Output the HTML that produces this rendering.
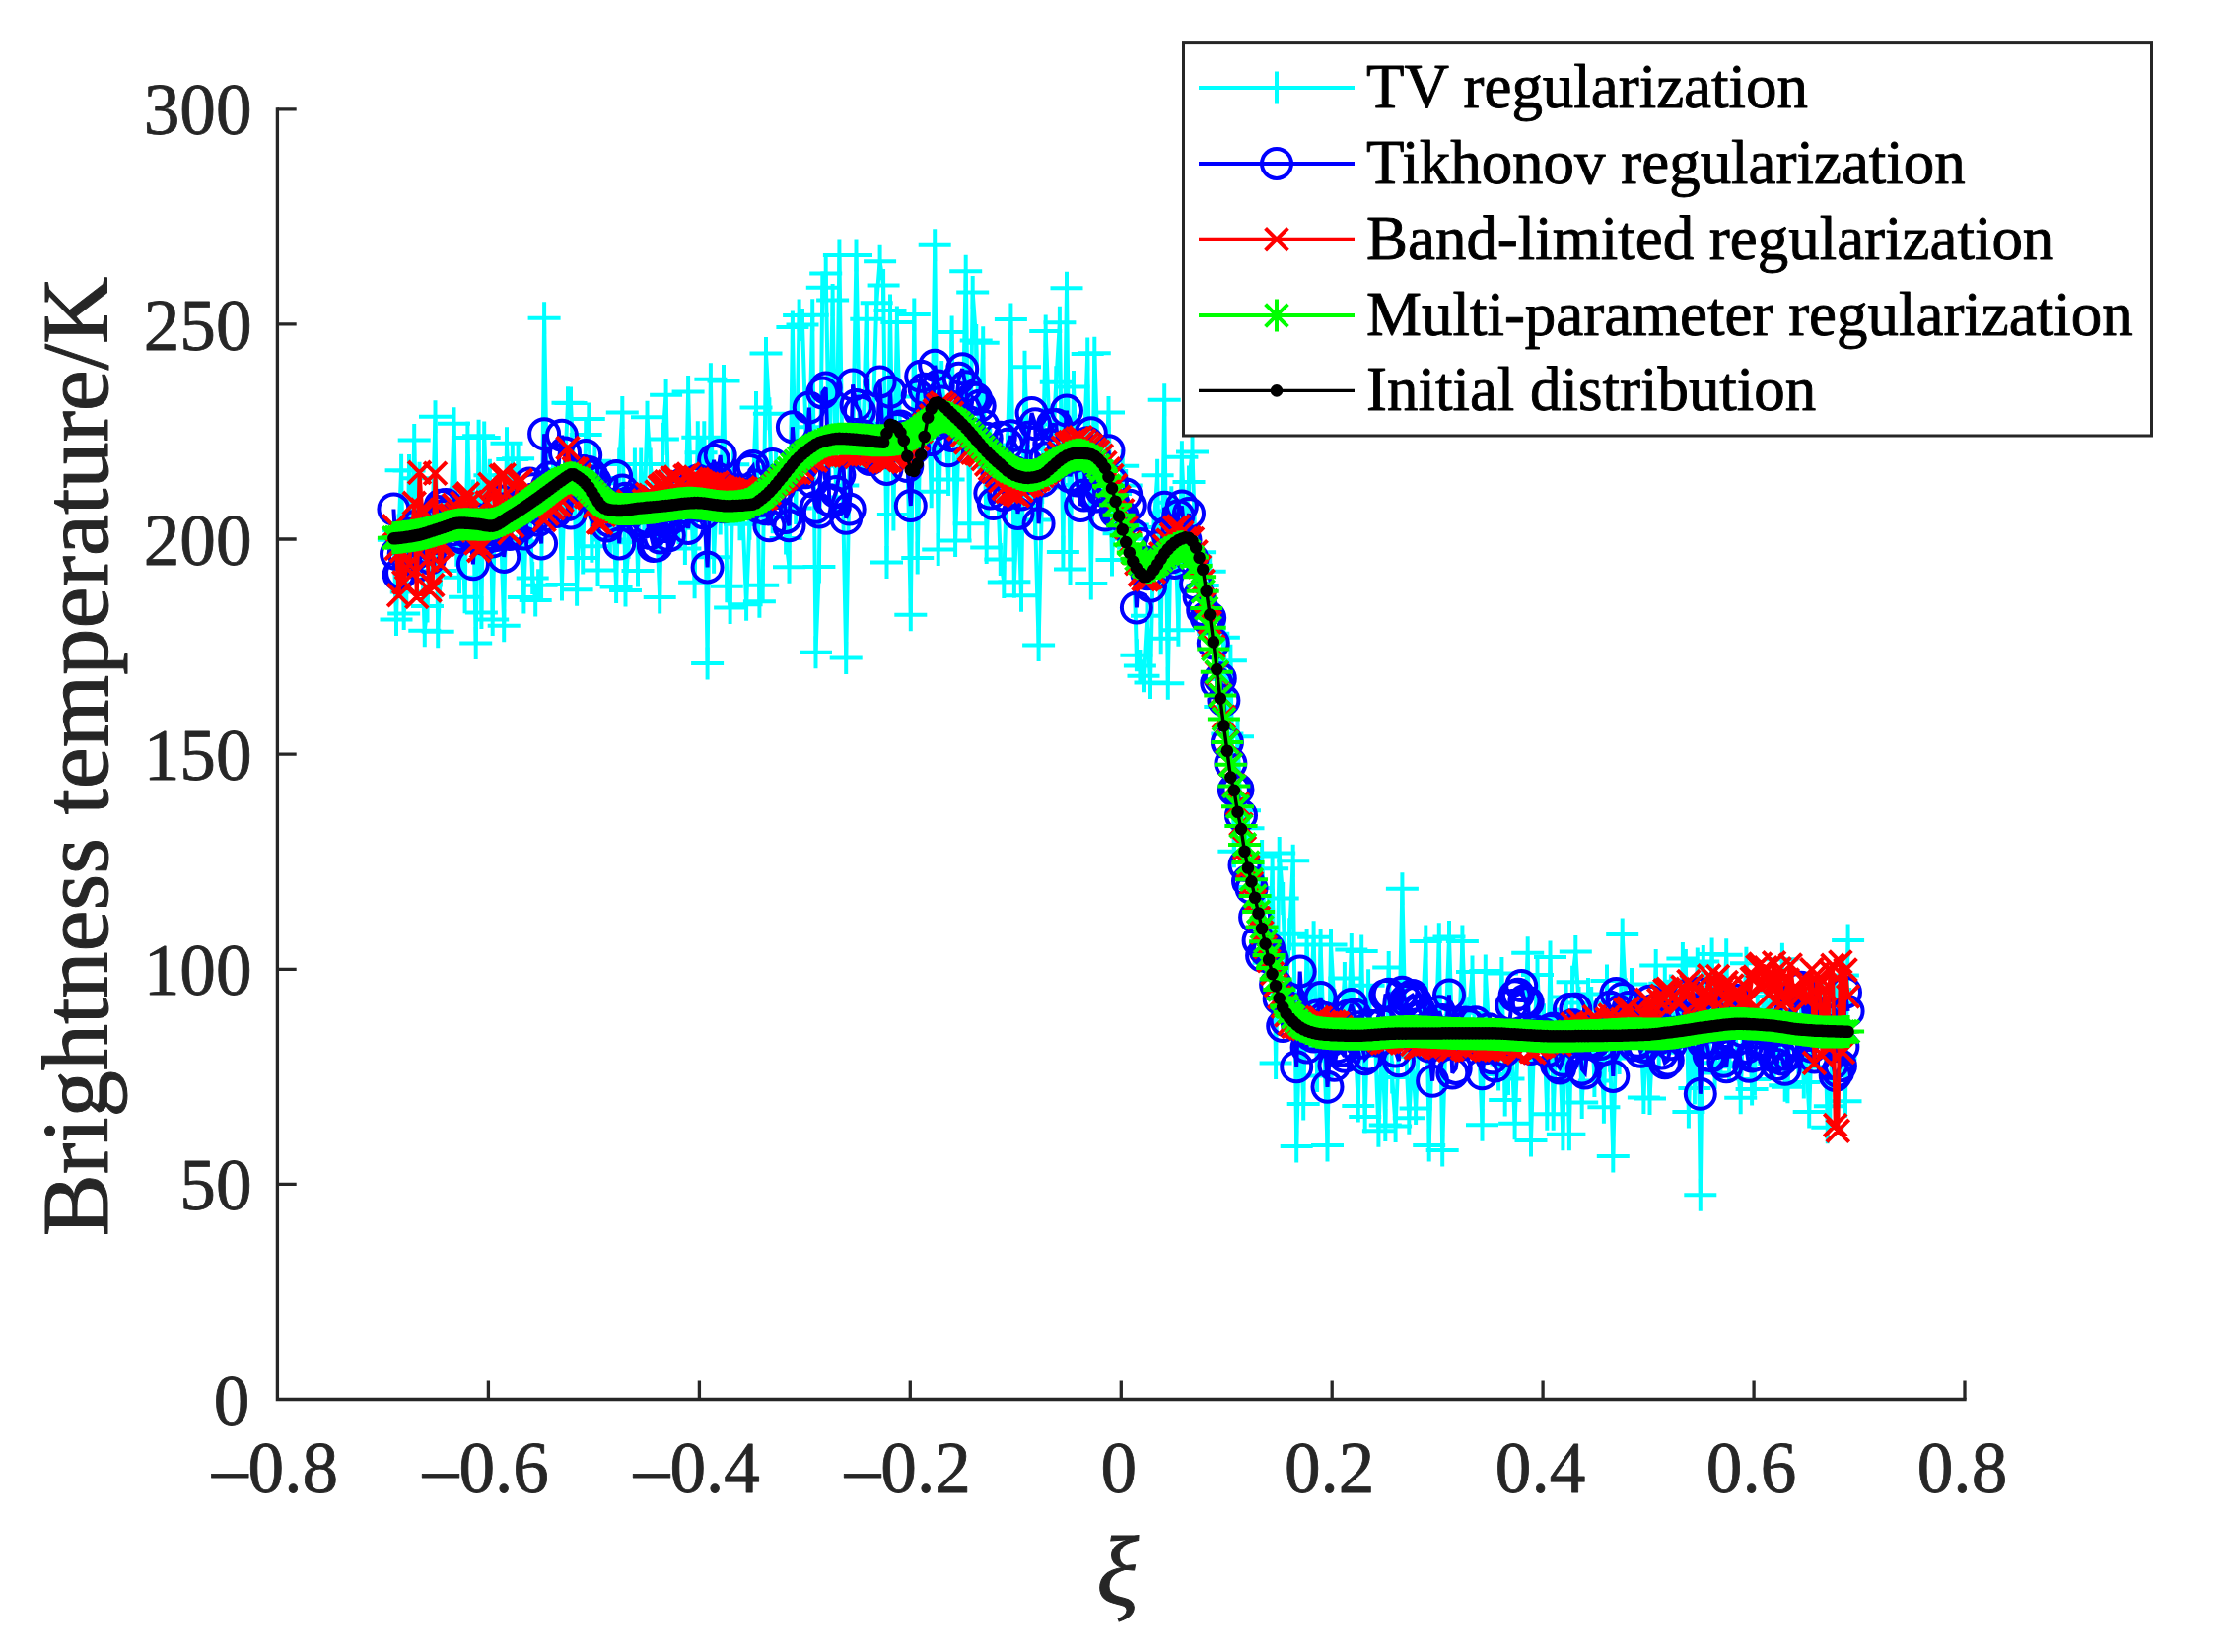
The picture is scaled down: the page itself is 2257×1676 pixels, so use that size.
<!DOCTYPE html>
<html lang="en"><head><meta charset="utf-8"><title>Brightness temperature</title>
<style>html,body{margin:0;padding:0;background:#fff}body{width:2257px;height:1676px;overflow:hidden}svg{display:block}text{font-family:"Liberation Serif","Times New Roman",serif}</style></head>
<body>
<svg width="2257" height="1676" viewBox="0 0 2257 1676">
<rect width="2257" height="1676" fill="#fff"/>
<g fill="none" stroke-linejoin="miter" stroke-miterlimit="3">
<path stroke="#00ffff" stroke-width="4" d="M399.4 547.7 402 628.5 404.6 538 407.1 477.2 409.7 622.5 412.3 600.4 415 477.5 417.6 551.3 420.2 446.6 422.8 541.9 425.5 485.3 428.1 569.1 430.8 639.8 433.5 615 436.1 558.8 438.8 523.4 441.5 422.7 444.2 640.8 446.9 579.1 449.6 517.2 452.3 541.9 455.1 530.8 457.8 510.2 460.5 429.8 463.3 558.2 466 585.7 468.8 541.8 471.6 605.8 474.4 444.1 477.2 539.2 479.9 503.1 482.7 652.6 485.6 442.3 488.4 621.4 491.2 444.1 494 513.8 496.9 482.2 499.7 628.6 502.6 496.6 505.4 527.6 508.3 544.7 511.2 634.7 514 449.8 516.9 517.9 519.8 466.1 522.7 497.3 525.6 465.3 528.5 549.5 531.4 605.9 534.4 512.2 537.3 514.8 540.2 586.4 543.2 609.1 546.1 593.8 549.1 593.7 552.1 322.8 555 498.1 558 495.6 561 483.7 564 493.3 567 482.2 570 593.1 573 476.3 576 408.8 579 409.1 582.1 476.2 585.1 598.3 588.1 507.1 591.2 565.9 594.2 441 597.3 425 600.4 554.3 603.4 467.8 606.5 578.4 609.6 490.2 612.7 485.1 615.8 500.2 618.9 547.6 622 523.9 625.1 595.5 628.2 471.1 631.3 418.6 634.5 599 637.6 550.2 640.7 509.6 643.9 471.1 647 578.9 650.2 471.1 653.3 524.7 656.5 423.3 659.7 471.1 662.8 498.8 666 530.7 669.2 606.1 672.4 445.4 675.6 400.7 678.8 535.4 682 504.7 685.2 515.1 688.4 535.8 691.7 514.5 694.9 556.5 698.1 397.5 701.4 519.8 704.6 590.7 707.8 443.7 711.1 459.2 714.3 443.7 717.6 673.1 720.9 384.8 724.1 565.2 727.4 491.1 730.7 526.1 734 386.5 737.3 594.7 740.6 616.6 743.8 471.3 747.1 511.4 750.5 531.8 753.8 531.7 757.1 613.3 760.4 531.2 763.7 499.4 767 413.6 770.4 610.3 773.7 593.7 777 358.5 780.4 419.7 783.7 524.8 787.1 474.3 790.4 488.9 793.8 482.6 797.1 545.9 800.5 575.2 803.9 332 807.2 515.5 810.6 320.1 814 329.5 817.4 433.3 820.8 463.8 824.2 319.8 827.5 661.8 830.9 574.9 834.3 291.7 837.7 277.4 841.2 472.7 844.6 304.5 848 504.6 851.4 259.1 854.8 492.5 858.2 667.4 861.7 474.3 865.1 449.3 868.5 259.1 872 443 875.4 447.4 878.8 323.7 882.3 436.7 885.7 430 889.2 307.3 892.6 265.2 896.1 289.4 899.5 570.6 903 315 906.4 522.1 909.9 327 913.4 448.5 916.8 445.6 920.3 449 923.8 623.8 927.3 318.9 930.7 565.9 934.2 402.4 937.7 441 941.2 407.9 944.7 498.7 948.2 248.7 951.7 557.5 955.2 382.5 958.7 423.5 962.1 486.5 965.6 337 969.1 548.6 972.7 440.2 976.2 446.8 979.7 275.3 983.2 531.3 986.7 296.6 990.2 345.5 993.7 459.4 997.2 347.7 1000.7 555.5 1004.3 451.4 1007.8 474.3 1011.3 476.3 1014.8 567.5 1018.3 590.6 1021.9 456.5 1025.4 324.1 1028.9 590.2 1032.5 499.2 1036 604.2 1039.5 372.3 1043 467.7 1046.6 502.3 1050.1 527.6 1053.6 654.4 1057.2 494.5 1060.7 336 1064.3 430.5 1067.8 456 1071.3 387.7 1074.9 327.2 1078.4 559.9 1082 292.3 1085.5 577.6 1089 392.6 1092.6 476 1096.1 491.9 1099.7 460.2 1103.2 359 1106.8 592 1110.3 358.2 1113.9 468.8 1117.4 490.3 1120.9 493 1124.5 418.4 1128 567.9 1131.6 501.1 1135.1 541.2 1138.7 472.7 1142.2 492.4 1145.8 546.7 1149.3 532.6 1152.9 664.8 1156.4 675.4 1160 685.8 1163.5 624.8 1167 692.5 1170.6 535 1174.1 482.2 1177.7 647.8 1181.2 405.7 1184.8 693.2 1188.3 509.7 1191.8 518.4 1195.4 639.3 1198.9 463.7 1202.5 546.1 1206 489 1209.5 458.6 1213.1 572.9 1216.6 560.2 1220.2 594.1 1223.7 627 1227.2 579.7 1230.8 642.7 1234.3 689.1 1237.8 716.9 1241.4 646.7 1244.9 744.4 1248.4 670.2 1251.9 863.8 1255.5 747.2 1259 838.1 1262.5 822.3 1266 840.3 1269.5 899.9 1273.1 901 1276.6 923.2 1280.1 868.4 1283.6 956.3 1287.1 976.8 1290.6 881.3 1294.1 1078.5 1297.7 865.5 1301.2 911.6 1304.7 1007.6 1308.2 947.7 1311.7 873.3 1315.2 1163 1318.7 1025.7 1322.2 1120.1 1325.6 958.4 1329.1 1031.2 1332.6 950.7 1336.1 1091.4 1339.6 958.4 1343.1 1061.3 1346.5 1162.1 1350 958.4 1353.5 1019.8 1357 1053.8 1360.4 1044.4 1363.9 992.6 1367.4 1046.7 1370.8 963.6 1374.3 1048.1 1377.8 1122 1381.2 965.1 1384.7 1133.1 1388.1 999.8 1391.6 1056.6 1395 1054.6 1398.4 1147.3 1401.9 1051.3 1405.3 1141.4 1408.7 981.5 1412.2 1092.9 1415.6 1142.5 1419 1058.8 1422.4 901.7 1425.9 1061.1 1429.3 1134.2 1432.7 1071.7 1436.1 1124.6 1439.5 1047.1 1442.9 1031.3 1446.3 954.9 1449.7 1162.1 1453.1 1050.2 1456.5 1054.6 1459.8 952.7 1463.2 1166.9 1466.6 1045.4 1470 950.6 1473.3 1061.1 1476.7 1043.6 1480.1 1053.3 1483.4 954.9 1486.8 1038.6 1490.1 1027.7 1493.5 985.9 1496.8 1062.1 1500.1 1055.2 1503.5 1141.2 1506.8 985 1510.1 1043.6 1513.5 1065.1 1516.8 1053.1 1520.1 1090.1 1523.4 987.6 1526.7 1115.9 1530 1094.4 1533.3 1058.1 1536.6 1139.7 1539.9 1054 1543.2 1050.3 1546.4 1045.3 1549.7 966.7 1553 1156.9 1556.3 1050.2 1559.5 988.9 1562.8 1047.9 1566 1034.7 1569.3 1130.3 1572.5 970.9 1575.7 1130.3 1579 1039 1582.2 1069.3 1585.4 1150.8 1588.6 1011.4 1591.9 1150.8 1595.1 996.3 1598.3 965.4 1601.5 1017.4 1604.7 1118.5 1607.8 1060.7 1611 1008.4 1614.2 1017.6 1617.4 1096.5 1620.5 1072.2 1623.7 1054.5 1626.9 1123.2 1630 995 1633.2 1071.3 1636.3 1173 1639.4 1044.6 1642.6 1073.4 1645.7 947.9 1648.8 1008.8 1651.9 1040.7 1655 998.5 1658.1 1040.4 1661.2 1047.4 1664.3 1041.9 1667.4 1113.5 1670.5 1039.1 1673.5 1114.6 1676.6 1055.2 1679.7 979.5 1682.7 1067.8 1685.8 1048.4 1688.8 997.7 1691.8 1010.3 1694.9 1005.1 1697.9 1043.8 1700.9 1046.9 1703.9 1053.9 1706.9 972.5 1709.9 979.5 1712.9 1128.1 1715.9 1050.3 1718.9 1104.1 1721.8 978 1724.8 1212.3 1727.8 975.4 1730.7 1057 1733.7 1053.6 1736.6 967.9 1739.6 1088.5 1742.5 1039.9 1745.4 1078.2 1748.3 1032 1751.2 968.7 1754.1 1082.2 1757 1015.8 1759.9 1040.2 1762.8 1080.1 1765.7 1113.7 1768.5 1026.6 1771.4 977.2 1774.2 1025.6 1777.1 1105 1779.9 1095 1782.8 1027.7 1785.6 1038 1788.4 1031.9 1791.2 1010.8 1794 1036.4 1796.8 1005.8 1799.6 1079.1 1802.4 1055.8 1805.1 1055.7 1807.9 973.2 1810.7 1101.2 1813.4 1102.8 1816.2 1029.9 1818.9 1038.8 1821.6 1040.3 1824.4 1072.9 1827.1 1030.8 1829.8 1098 1832.5 1082.5 1835.2 1128.1 1837.8 1050.7 1840.5 1043.6 1843.2 1042.3 1845.9 1033.5 1848.5 1004.7 1851.2 1043.1 1853.8 1143.8 1856.4 1122.2 1859 1036.4 1861.7 1004 1864.3 1017.7 1866.9 1074 1869.4 989.6 1872 1117.3 1874.6 954"/>
<path stroke="#00ffff" stroke-width="4" d="M382.9 547.7h33M399.4 531.2v33M385.5 628.5h33M402 612v33M388.1 538h33M404.6 521.5v33M390.6 477.2h33M407.1 460.7v33M393.2 622.5h33M409.7 606v33M395.8 600.4h33M412.3 583.9v33M398.5 477.5h33M415 461v33M401.1 551.3h33M417.6 534.8v33M403.7 446.6h33M420.2 430.1v33M406.3 541.9h33M422.8 525.4v33M409 485.3h33M425.5 468.8v33M411.6 569.1h33M428.1 552.6v33M414.3 639.8h33M430.8 623.3v33M417 615h33M433.5 598.5v33M419.6 558.8h33M436.1 542.3v33M422.3 523.4h33M438.8 506.9v33M425 422.7h33M441.5 406.2v33M427.7 640.8h33M444.2 624.3v33M430.4 579.1h33M446.9 562.6v33M433.1 517.2h33M449.6 500.7v33M435.8 541.9h33M452.3 525.4v33M438.6 530.8h33M455.1 514.3v33M441.3 510.2h33M457.8 493.7v33M444 429.8h33M460.5 413.3v33M446.8 558.2h33M463.3 541.7v33M449.5 585.7h33M466 569.2v33M452.3 541.8h33M468.8 525.3v33M455.1 605.8h33M471.6 589.3v33M457.9 444.1h33M474.4 427.6v33M460.7 539.2h33M477.2 522.7v33M463.4 503.1h33M479.9 486.6v33M466.2 652.6h33M482.7 636.1v33M469.1 442.3h33M485.6 425.8v33M471.9 621.4h33M488.4 604.9v33M474.7 444.1h33M491.2 427.6v33M477.5 513.8h33M494 497.3v33M480.4 482.2h33M496.9 465.7v33M483.2 628.6h33M499.7 612.1v33M486.1 496.6h33M502.6 480.1v33M488.9 527.6h33M505.4 511.1v33M491.8 544.7h33M508.3 528.2v33M494.7 634.7h33M511.2 618.2v33M497.5 449.8h33M514 433.3v33M500.4 517.9h33M516.9 501.4v33M503.3 466.1h33M519.8 449.6v33M506.2 497.3h33M522.7 480.8v33M509.1 465.3h33M525.6 448.8v33M512 549.5h33M528.5 533v33M514.9 605.9h33M531.4 589.4v33M517.9 512.2h33M534.4 495.7v33M520.8 514.8h33M537.3 498.3v33M523.7 586.4h33M540.2 569.9v33M526.7 609.1h33M543.2 592.6v33M529.6 593.8h33M546.1 577.3v33M532.6 593.7h33M549.1 577.2v33M535.6 322.8h33M552.1 306.3v33M538.5 498.1h33M555 481.6v33M541.5 495.6h33M558 479.1v33M544.5 483.7h33M561 467.2v33M547.5 493.3h33M564 476.8v33M550.5 482.2h33M567 465.7v33M553.5 593.1h33M570 576.6v33M556.5 476.3h33M573 459.8v33M559.5 408.8h33M576 392.3v33M562.5 409.1h33M579 392.6v33M565.6 476.2h33M582.1 459.7v33M568.6 598.3h33M585.1 581.8v33M571.6 507.1h33M588.1 490.6v33M574.7 565.9h33M591.2 549.4v33M577.7 441h33M594.2 424.5v33M580.8 425h33M597.3 408.5v33M583.9 554.3h33M600.4 537.8v33M586.9 467.8h33M603.4 451.3v33M590 578.4h33M606.5 561.9v33M593.1 490.2h33M609.6 473.7v33M596.2 485.1h33M612.7 468.6v33M599.3 500.2h33M615.8 483.7v33M602.4 547.6h33M618.9 531.1v33M605.5 523.9h33M622 507.4v33M608.6 595.5h33M625.1 579v33M611.7 471.1h33M628.2 454.6v33M614.8 418.6h33M631.3 402.1v33M618 599h33M634.5 582.5v33M621.1 550.2h33M637.6 533.7v33M624.2 509.6h33M640.7 493.1v33M627.4 471.1h33M643.9 454.6v33M630.5 578.9h33M647 562.4v33M633.7 471.1h33M650.2 454.6v33M636.8 524.7h33M653.3 508.2v33M640 423.3h33M656.5 406.8v33M643.2 471.1h33M659.7 454.6v33M646.3 498.8h33M662.8 482.3v33M649.5 530.7h33M666 514.2v33M652.7 606.1h33M669.2 589.6v33M655.9 445.4h33M672.4 428.9v33M659.1 400.7h33M675.6 384.2v33M662.3 535.4h33M678.8 518.9v33M665.5 504.7h33M682 488.2v33M668.7 515.1h33M685.2 498.6v33M671.9 535.8h33M688.4 519.3v33M675.2 514.5h33M691.7 498v33M678.4 556.5h33M694.9 540v33M681.6 397.5h33M698.1 381v33M684.9 519.8h33M701.4 503.3v33M688.1 590.7h33M704.6 574.2v33M691.3 443.7h33M707.8 427.2v33M694.6 459.2h33M711.1 442.7v33M697.8 443.7h33M714.3 427.2v33M701.1 673.1h33M717.6 656.6v33M704.4 384.8h33M720.9 368.3v33M707.6 565.2h33M724.1 548.7v33M710.9 491.1h33M727.4 474.6v33M714.2 526.1h33M730.7 509.6v33M717.5 386.5h33M734 370v33M720.8 594.7h33M737.3 578.2v33M724.1 616.6h33M740.6 600.1v33M727.3 471.3h33M743.8 454.8v33M730.6 511.4h33M747.1 494.9v33M734 531.8h33M750.5 515.3v33M737.3 531.7h33M753.8 515.2v33M740.6 613.3h33M757.1 596.8v33M743.9 531.2h33M760.4 514.7v33M747.2 499.4h33M763.7 482.9v33M750.5 413.6h33M767 397.1v33M753.9 610.3h33M770.4 593.8v33M757.2 593.7h33M773.7 577.2v33M760.5 358.5h33M777 342v33M763.9 419.7h33M780.4 403.2v33M767.2 524.8h33M783.7 508.3v33M770.6 474.3h33M787.1 457.8v33M773.9 488.9h33M790.4 472.4v33M777.3 482.6h33M793.8 466.1v33M780.6 545.9h33M797.1 529.4v33M784 575.2h33M800.5 558.7v33M787.4 332h33M803.9 315.5v33M790.7 515.5h33M807.2 499v33M794.1 320.1h33M810.6 303.6v33M797.5 329.5h33M814 313v33M800.9 433.3h33M817.4 416.8v33M804.3 463.8h33M820.8 447.3v33M807.7 319.8h33M824.2 303.3v33M811 661.8h33M827.5 645.3v33M814.4 574.9h33M830.9 558.4v33M817.8 291.7h33M834.3 275.2v33M821.2 277.4h33M837.7 260.9v33M824.7 472.7h33M841.2 456.2v33M828.1 304.5h33M844.6 288v33M831.5 504.6h33M848 488.1v33M834.9 259.1h33M851.4 242.6v33M838.3 492.5h33M854.8 476v33M841.7 667.4h33M858.2 650.9v33M845.2 474.3h33M861.7 457.8v33M848.6 449.3h33M865.1 432.8v33M852 259.1h33M868.5 242.6v33M855.5 443h33M872 426.5v33M858.9 447.4h33M875.4 430.9v33M862.3 323.7h33M878.8 307.2v33M865.8 436.7h33M882.3 420.2v33M869.2 430h33M885.7 413.5v33M872.7 307.3h33M889.2 290.8v33M876.1 265.2h33M892.6 248.7v33M879.6 289.4h33M896.1 272.9v33M883 570.6h33M899.5 554.1v33M886.5 315h33M903 298.5v33M889.9 522.1h33M906.4 505.6v33M893.4 327h33M909.9 310.5v33M896.9 448.5h33M913.4 432v33M900.3 445.6h33M916.8 429.1v33M903.8 449h33M920.3 432.5v33M907.3 623.8h33M923.8 607.3v33M910.8 318.9h33M927.3 302.4v33M914.2 565.9h33M930.7 549.4v33M917.7 402.4h33M934.2 385.9v33M921.2 441h33M937.7 424.5v33M924.7 407.9h33M941.2 391.4v33M928.2 498.7h33M944.7 482.2v33M931.7 248.7h33M948.2 232.2v33M935.2 557.5h33M951.7 541v33M938.7 382.5h33M955.2 366v33M942.2 423.5h33M958.7 407v33M945.6 486.5h33M962.1 470v33M949.1 337h33M965.6 320.5v33M952.6 548.6h33M969.1 532.1v33M956.2 440.2h33M972.7 423.7v33M959.7 446.8h33M976.2 430.3v33M963.2 275.3h33M979.7 258.8v33M966.7 531.3h33M983.2 514.8v33M970.2 296.6h33M986.7 280.1v33M973.7 345.5h33M990.2 329v33M977.2 459.4h33M993.7 442.9v33M980.7 347.7h33M997.2 331.2v33M984.2 555.5h33M1000.7 539v33M987.8 451.4h33M1004.3 434.9v33M991.3 474.3h33M1007.8 457.8v33M994.8 476.3h33M1011.3 459.8v33M998.3 567.5h33M1014.8 551v33M1001.8 590.6h33M1018.3 574.1v33M1005.4 456.5h33M1021.9 440v33M1008.9 324.1h33M1025.4 307.6v33M1012.4 590.2h33M1028.9 573.7v33M1016 499.2h33M1032.5 482.7v33M1019.5 604.2h33M1036 587.7v33M1023 372.3h33M1039.5 355.8v33M1026.5 467.7h33M1043 451.2v33M1030.1 502.3h33M1046.6 485.8v33M1033.6 527.6h33M1050.1 511.1v33M1037.1 654.4h33M1053.6 637.9v33M1040.7 494.5h33M1057.2 478v33M1044.2 336h33M1060.7 319.5v33M1047.8 430.5h33M1064.3 414v33M1051.3 456h33M1067.8 439.5v33M1054.8 387.7h33M1071.3 371.2v33M1058.4 327.2h33M1074.9 310.7v33M1061.9 559.9h33M1078.4 543.4v33M1065.5 292.3h33M1082 275.8v33M1069 577.6h33M1085.5 561.1v33M1072.5 392.6h33M1089 376.1v33M1076.1 476h33M1092.6 459.5v33M1079.6 491.9h33M1096.1 475.4v33M1083.2 460.2h33M1099.7 443.7v33M1086.7 359h33M1103.2 342.5v33M1090.3 592h33M1106.8 575.5v33M1093.8 358.2h33M1110.3 341.7v33M1097.4 468.8h33M1113.9 452.3v33M1100.9 490.3h33M1117.4 473.8v33M1104.4 493h33M1120.9 476.5v33M1108 418.4h33M1124.5 401.9v33M1111.5 567.9h33M1128 551.4v33M1115.1 501.1h33M1131.6 484.6v33M1118.6 541.2h33M1135.1 524.7v33M1122.2 472.7h33M1138.7 456.2v33M1125.7 492.4h33M1142.2 475.9v33M1129.3 546.7h33M1145.8 530.2v33M1132.8 532.6h33M1149.3 516.1v33M1136.4 664.8h33M1152.9 648.3v33M1139.9 675.4h33M1156.4 658.9v33M1143.5 685.8h33M1160 669.3v33M1147 624.8h33M1163.5 608.3v33M1150.5 692.5h33M1167 676v33M1154.1 535h33M1170.6 518.5v33M1157.6 482.2h33M1174.1 465.7v33M1161.2 647.8h33M1177.7 631.3v33M1164.7 405.7h33M1181.2 389.2v33M1168.3 693.2h33M1184.8 676.7v33M1171.8 509.7h33M1188.3 493.2v33M1175.3 518.4h33M1191.8 501.9v33M1178.9 639.3h33M1195.4 622.8v33M1182.4 463.7h33M1198.9 447.2v33M1186 546.1h33M1202.5 529.6v33M1189.5 489h33M1206 472.5v33M1193 458.6h33M1209.5 442.1v33M1196.6 572.9h33M1213.1 556.4v33M1200.1 560.2h33M1216.6 543.7v33M1203.7 594.1h33M1220.2 577.6v33M1207.2 627h33M1223.7 610.5v33M1210.7 579.7h33M1227.2 563.2v33M1214.3 642.7h33M1230.8 626.2v33M1217.8 689.1h33M1234.3 672.6v33M1221.3 716.9h33M1237.8 700.4v33M1224.9 646.7h33M1241.4 630.2v33M1228.4 744.4h33M1244.9 727.9v33M1231.9 670.2h33M1248.4 653.7v33M1235.4 863.8h33M1251.9 847.3v33M1239 747.2h33M1255.5 730.7v33M1242.5 838.1h33M1259 821.6v33M1246 822.3h33M1262.5 805.8v33M1249.5 840.3h33M1266 823.8v33M1253 899.9h33M1269.5 883.4v33M1256.6 901h33M1273.1 884.5v33M1260.1 923.2h33M1276.6 906.7v33M1263.6 868.4h33M1280.1 851.9v33M1267.1 956.3h33M1283.6 939.8v33M1270.6 976.8h33M1287.1 960.3v33M1274.1 881.3h33M1290.6 864.8v33M1277.6 1078.5h33M1294.1 1062v33M1281.2 865.5h33M1297.7 849v33M1284.7 911.6h33M1301.2 895.1v33M1288.2 1007.6h33M1304.7 991.1v33M1291.7 947.7h33M1308.2 931.2v33M1295.2 873.3h33M1311.7 856.8v33M1298.7 1163h33M1315.2 1146.5v33M1302.2 1025.7h33M1318.7 1009.2v33M1305.7 1120.1h33M1322.2 1103.6v33M1309.1 958.4h33M1325.6 941.9v33M1312.6 1031.2h33M1329.1 1014.7v33M1316.1 950.7h33M1332.6 934.2v33M1319.6 1091.4h33M1336.1 1074.9v33M1323.1 958.4h33M1339.6 941.9v33M1326.6 1061.3h33M1343.1 1044.8v33M1330 1162.1h33M1346.5 1145.6v33M1333.5 958.4h33M1350 941.9v33M1337 1019.8h33M1353.5 1003.3v33M1340.5 1053.8h33M1357 1037.3v33M1343.9 1044.4h33M1360.4 1027.9v33M1347.4 992.6h33M1363.9 976.1v33M1350.9 1046.7h33M1367.4 1030.2v33M1354.3 963.6h33M1370.8 947.1v33M1357.8 1048.1h33M1374.3 1031.6v33M1361.3 1122h33M1377.8 1105.5v33M1364.7 965.1h33M1381.2 948.6v33M1368.2 1133.1h33M1384.7 1116.6v33M1371.6 999.8h33M1388.1 983.3v33M1375.1 1056.6h33M1391.6 1040.1v33M1378.5 1054.6h33M1395 1038.1v33M1381.9 1147.3h33M1398.4 1130.8v33M1385.4 1051.3h33M1401.9 1034.8v33M1388.8 1141.4h33M1405.3 1124.9v33M1392.2 981.5h33M1408.7 965v33M1395.7 1092.9h33M1412.2 1076.4v33M1399.1 1142.5h33M1415.6 1126v33M1402.5 1058.8h33M1419 1042.3v33M1405.9 901.7h33M1422.4 885.2v33M1409.4 1061.1h33M1425.9 1044.6v33M1412.8 1134.2h33M1429.3 1117.7v33M1416.2 1071.7h33M1432.7 1055.2v33M1419.6 1124.6h33M1436.1 1108.1v33M1423 1047.1h33M1439.5 1030.6v33M1426.4 1031.3h33M1442.9 1014.8v33M1429.8 954.9h33M1446.3 938.4v33M1433.2 1162.1h33M1449.7 1145.6v33M1436.6 1050.2h33M1453.1 1033.7v33M1440 1054.6h33M1456.5 1038.1v33M1443.3 952.7h33M1459.8 936.2v33M1446.7 1166.9h33M1463.2 1150.4v33M1450.1 1045.4h33M1466.6 1028.9v33M1453.5 950.6h33M1470 934.1v33M1456.8 1061.1h33M1473.3 1044.6v33M1460.2 1043.6h33M1476.7 1027.1v33M1463.6 1053.3h33M1480.1 1036.8v33M1466.9 954.9h33M1483.4 938.4v33M1470.3 1038.6h33M1486.8 1022.1v33M1473.6 1027.7h33M1490.1 1011.2v33M1477 985.9h33M1493.5 969.4v33M1480.3 1062.1h33M1496.8 1045.6v33M1483.6 1055.2h33M1500.1 1038.7v33M1487 1141.2h33M1503.5 1124.7v33M1490.3 985h33M1506.8 968.5v33M1493.6 1043.6h33M1510.1 1027.1v33M1497 1065.1h33M1513.5 1048.6v33M1500.3 1053.1h33M1516.8 1036.6v33M1503.6 1090.1h33M1520.1 1073.6v33M1506.9 987.6h33M1523.4 971.1v33M1510.2 1115.9h33M1526.7 1099.4v33M1513.5 1094.4h33M1530 1077.9v33M1516.8 1058.1h33M1533.3 1041.6v33M1520.1 1139.7h33M1536.6 1123.2v33M1523.4 1054h33M1539.9 1037.5v33M1526.7 1050.3h33M1543.2 1033.8v33M1529.9 1045.3h33M1546.4 1028.8v33M1533.2 966.7h33M1549.7 950.2v33M1536.5 1156.9h33M1553 1140.4v33M1539.8 1050.2h33M1556.3 1033.7v33M1543 988.9h33M1559.5 972.4v33M1546.3 1047.9h33M1562.8 1031.4v33M1549.5 1034.7h33M1566 1018.2v33M1552.8 1130.3h33M1569.3 1113.8v33M1556 970.9h33M1572.5 954.4v33M1559.2 1130.3h33M1575.7 1113.8v33M1562.5 1039h33M1579 1022.5v33M1565.7 1069.3h33M1582.2 1052.8v33M1568.9 1150.8h33M1585.4 1134.3v33M1572.1 1011.4h33M1588.6 994.9v33M1575.4 1150.8h33M1591.9 1134.3v33M1578.6 996.3h33M1595.1 979.8v33M1581.8 965.4h33M1598.3 948.9v33M1585 1017.4h33M1601.5 1000.9v33M1588.2 1118.5h33M1604.7 1102v33M1591.3 1060.7h33M1607.8 1044.2v33M1594.5 1008.4h33M1611 991.9v33M1597.7 1017.6h33M1614.2 1001.1v33M1600.9 1096.5h33M1617.4 1080v33M1604 1072.2h33M1620.5 1055.7v33M1607.2 1054.5h33M1623.7 1038v33M1610.4 1123.2h33M1626.9 1106.7v33M1613.5 995h33M1630 978.5v33M1616.7 1071.3h33M1633.2 1054.8v33M1619.8 1173h33M1636.3 1156.5v33M1622.9 1044.6h33M1639.4 1028.1v33M1626.1 1073.4h33M1642.6 1056.9v33M1629.2 947.9h33M1645.7 931.4v33M1632.3 1008.8h33M1648.8 992.3v33M1635.4 1040.7h33M1651.9 1024.2v33M1638.5 998.5h33M1655 982v33M1641.6 1040.4h33M1658.1 1023.9v33M1644.7 1047.4h33M1661.2 1030.9v33M1647.8 1041.9h33M1664.3 1025.4v33M1650.9 1113.5h33M1667.4 1097v33M1654 1039.1h33M1670.5 1022.6v33M1657 1114.6h33M1673.5 1098.1v33M1660.1 1055.2h33M1676.6 1038.7v33M1663.2 979.5h33M1679.7 963v33M1666.2 1067.8h33M1682.7 1051.3v33M1669.3 1048.4h33M1685.8 1031.9v33M1672.3 997.7h33M1688.8 981.2v33M1675.3 1010.3h33M1691.8 993.8v33M1678.4 1005.1h33M1694.9 988.6v33M1681.4 1043.8h33M1697.9 1027.3v33M1684.4 1046.9h33M1700.9 1030.4v33M1687.4 1053.9h33M1703.9 1037.4v33M1690.4 972.5h33M1706.9 956v33M1693.4 979.5h33M1709.9 963v33M1696.4 1128.1h33M1712.9 1111.6v33M1699.4 1050.3h33M1715.9 1033.8v33M1702.4 1104.1h33M1718.9 1087.6v33M1705.3 978h33M1721.8 961.5v33M1708.3 1212.3h33M1724.8 1195.8v33M1711.3 975.4h33M1727.8 958.9v33M1714.2 1057h33M1730.7 1040.5v33M1717.2 1053.6h33M1733.7 1037.1v33M1720.1 967.9h33M1736.6 951.4v33M1723.1 1088.5h33M1739.6 1072v33M1726 1039.9h33M1742.5 1023.4v33M1728.9 1078.2h33M1745.4 1061.7v33M1731.8 1032h33M1748.3 1015.5v33M1734.7 968.7h33M1751.2 952.2v33M1737.6 1082.2h33M1754.1 1065.7v33M1740.5 1015.8h33M1757 999.3v33M1743.4 1040.2h33M1759.9 1023.7v33M1746.3 1080.1h33M1762.8 1063.6v33M1749.2 1113.7h33M1765.7 1097.2v33M1752 1026.6h33M1768.5 1010.1v33M1754.9 977.2h33M1771.4 960.7v33M1757.7 1025.6h33M1774.2 1009.1v33M1760.6 1105h33M1777.1 1088.5v33M1763.4 1095h33M1779.9 1078.5v33M1766.3 1027.7h33M1782.8 1011.2v33M1769.1 1038h33M1785.6 1021.5v33M1771.9 1031.9h33M1788.4 1015.4v33M1774.7 1010.8h33M1791.2 994.3v33M1777.5 1036.4h33M1794 1019.9v33M1780.3 1005.8h33M1796.8 989.3v33M1783.1 1079.1h33M1799.6 1062.6v33M1785.9 1055.8h33M1802.4 1039.3v33M1788.6 1055.7h33M1805.1 1039.2v33M1791.4 973.2h33M1807.9 956.7v33M1794.2 1101.2h33M1810.7 1084.7v33M1796.9 1102.8h33M1813.4 1086.3v33M1799.7 1029.9h33M1816.2 1013.4v33M1802.4 1038.8h33M1818.9 1022.3v33M1805.1 1040.3h33M1821.6 1023.8v33M1807.9 1072.9h33M1824.4 1056.4v33M1810.6 1030.8h33M1827.1 1014.3v33M1813.3 1098h33M1829.8 1081.5v33M1816 1082.5h33M1832.5 1066v33M1818.7 1128.1h33M1835.2 1111.6v33M1821.3 1050.7h33M1837.8 1034.2v33M1824 1043.6h33M1840.5 1027.1v33M1826.7 1042.3h33M1843.2 1025.8v33M1829.4 1033.5h33M1845.9 1017v33M1832 1004.7h33M1848.5 988.2v33M1834.7 1043.1h33M1851.2 1026.6v33M1837.3 1143.8h33M1853.8 1127.3v33M1839.9 1122.2h33M1856.4 1105.7v33M1842.5 1036.4h33M1859 1019.9v33M1845.2 1004h33M1861.7 987.5v33M1847.8 1017.7h33M1864.3 1001.2v33M1850.4 1074h33M1866.9 1057.5v33M1852.9 989.6h33M1869.4 973.1v33M1855.5 1117.3h33M1872 1100.8v33M1858.1 954h33M1874.6 937.5v33"/>
<path stroke="#0000ff" stroke-width="4" d="M399.4 516.5 402 561.9 404.6 582.9 407.1 581.2 409.7 561.7 412.3 541.6 415 555.7 417.6 544.9 420.2 534.3 422.8 560.9 425.5 573.2 428.1 547.6 430.8 540.8 433.5 556.4 436.1 566.4 438.8 553.6 441.5 546 444.2 519.1 446.9 512.8 449.6 523 452.3 511.9 455.1 530.1 457.8 537.8 460.5 533.1 463.3 531.5 466 542.7 468.8 545.4 471.6 528.1 474.4 540.1 477.2 538.6 479.9 572.3 482.7 526.8 485.6 540.2 488.4 532 491.2 546.9 494 537.5 496.9 535.3 499.7 549.5 502.6 543.2 505.4 515.9 508.3 508.6 511.2 564.9 514 541.6 516.9 542.1 519.8 538.2 522.7 521.7 525.6 514.4 528.5 532.8 531.4 541.4 534.4 508.8 537.3 490.6 540.2 496.2 543.2 523 546.1 527.8 549.1 551.4 552.1 440.2 555 493.4 558 484.4 561 517.5 564 519 567 466.5 570 441.8 573 459.6 576 512.1 579 520.5 582.1 488.6 585.1 488.5 588.1 494.3 591.2 477.9 594.2 461.9 597.3 479.1 600.4 482.8 603.4 488.3 606.5 505.5 609.6 507.8 612.7 519.5 615.8 533.6 618.9 528.7 622 513.2 625.1 482.9 628.2 551.4 631.3 497.4 634.5 505.7 637.6 513.5 640.7 517.2 643.9 512.4 647 508.6 650.2 527.6 653.3 529.6 656.5 525.8 659.7 540.9 662.8 554 666 553.4 669.2 545.4 672.4 533.9 675.6 530.1 678.8 543.2 682 525.2 685.2 503.2 688.4 500.2 691.7 491.4 694.9 515 698.1 535.9 701.4 511 704.6 490.1 707.8 487.4 711.1 513.3 714.3 520.5 717.6 575.4 720.9 490.1 724.1 466.8 727.4 485.4 730.7 462 734 514.3 737.3 503.4 740.6 509 743.8 496.8 747.1 500 750.5 505.7 753.8 506.4 757.1 497.3 760.4 477 763.7 473.1 767 492.4 770.4 514.7 773.7 507.7 777 516.2 780.4 533.2 783.7 471.1 787.1 499.9 790.4 494.5 793.8 485.2 797.1 524.9 800.5 533.2 803.9 433.2 807.2 481.3 810.6 476.5 814 472.1 817.4 479.2 820.8 413.6 824.2 488.5 827.5 514.8 830.9 519.6 834.3 398.4 837.7 393.5 841.2 507.3 844.6 509 848 499 851.4 481.7 854.8 457.2 858.2 525.7 861.7 516.5 865.1 390.4 868.5 411 872 417.6 875.4 442.3 878.8 462.3 882.3 466.1 885.7 459.7 889.2 457.9 892.6 387.4 896.1 452.6 899.5 475.9 903 397.8 906.4 449.7 909.9 434.9 913.4 432.5 916.8 443.1 920.3 473.1 923.8 513 927.3 454.7 930.7 401.5 934.2 381.8 937.7 394.8 941.2 425.7 944.7 445.9 948.2 370.8 951.7 391.6 955.2 407.6 958.7 425.8 962.1 457.2 965.6 442.1 969.1 417.6 972.7 383.7 976.2 374.3 979.7 392.2 983.2 428.2 986.7 403.4 990.2 404.8 993.7 411.8 997.2 431.4 1000.7 444.7 1004.3 500.6 1007.8 511 1011.3 478.9 1014.8 443.8 1018.3 502.5 1021.9 450.8 1025.4 442.3 1028.9 478.7 1032.5 520.9 1036 501.4 1039.5 485.5 1043 443.7 1046.6 419.1 1050.1 430.3 1053.6 531.3 1057.2 487.6 1060.7 464.4 1064.3 451 1067.8 430.9 1071.3 431.1 1074.9 468.3 1078.4 466.9 1082 416.6 1085.5 483.4 1089 463.6 1092.6 487.6 1096.1 513 1099.7 502.5 1103.2 449.2 1106.8 439.3 1110.3 503.8 1113.9 503.3 1117.4 497.4 1120.9 522.6 1124.5 457.2 1128 488.8 1131.6 519.4 1135.1 521.1 1138.7 523.5 1142.2 501.5 1145.8 512.8 1149.3 542.7 1152.9 616.4 1156.4 551.9 1160 569.8 1163.5 582.2 1167 594.8 1170.6 581.8 1174.1 554.6 1177.7 566.5 1181.2 514.8 1184.8 540 1188.3 565.6 1191.8 570.9 1195.4 523.3 1198.9 513.4 1202.5 547.7 1206 520.9 1209.5 567 1213.1 592.5 1216.6 605.3 1220.2 619.1 1223.7 626.5 1227.2 626.7 1230.8 652.6 1234.3 693.1 1237.8 688.2 1241.4 710.6 1244.9 753.2 1248.4 774.6 1251.9 801.5 1255.5 801 1259 827.3 1262.5 877.7 1266 894.1 1269.5 901.3 1273.1 930.5 1276.6 954.3 1280.1 969.6 1283.6 963.9 1287.1 962.5 1290.6 973 1294.1 998.8 1297.7 1013.2 1301.2 1041 1304.7 1035.5 1308.2 1014 1311.7 1023.9 1315.2 1082.3 1318.7 985.5 1322.2 1043.6 1325.6 1062.5 1329.1 1049.5 1332.6 1051.6 1336.1 1030.6 1339.6 1012.1 1343.1 1032.8 1346.5 1102.8 1350 1055.4 1353.5 1080.7 1357 1062.2 1360.4 1065.9 1363.9 1071.8 1367.4 1030.7 1370.8 1018.9 1374.3 1029.4 1377.8 1042.2 1381.2 1057.7 1384.7 1074.3 1388.1 1070.6 1391.6 1040.9 1395 1050 1398.4 1055.7 1401.9 1039.1 1405.3 1009.9 1408.7 1008.7 1412.2 1036.5 1415.6 1066.6 1419 1076.2 1422.4 1006.8 1425.9 1015 1429.3 1012.1 1432.7 1009.9 1436.1 1016.6 1439.5 1025 1442.9 1030.9 1446.3 1044.3 1449.7 1061.5 1453.1 1096.7 1456.5 1052.8 1459.8 1026.3 1463.2 1035.1 1466.6 1048 1470 1009.4 1473.3 1088.6 1476.7 1083.9 1480.1 1058.9 1483.4 1059.5 1486.8 1037.4 1490.1 1040.2 1493.5 1049.8 1496.8 1037.2 1500.1 1057.2 1503.5 1089.3 1506.8 1063.3 1510.1 1044.2 1513.5 1073.2 1516.8 1081.5 1520.1 1053.6 1523.4 1053.7 1526.7 1065.5 1530 1049.6 1533.3 1019.9 1536.6 1010.2 1539.9 1008.7 1543.2 999.9 1546.4 1015.3 1549.7 1016.9 1553 1063.9 1556.3 1045.9 1559.5 1050 1562.8 1058.6 1566 1049.2 1569.3 1066.3 1572.5 1045 1575.7 1043.4 1579 1080 1582.2 1083.4 1585.4 1075.8 1588.6 1054.5 1591.9 1023.9 1595.1 1040.2 1598.3 1023.8 1601.5 1052.6 1604.7 1084.6 1607.8 1088.5 1611 1057 1614.2 1059.3 1617.4 1057.1 1620.5 1046 1623.7 1059.1 1626.9 1064.4 1630 1044.7 1633.2 1021.7 1636.3 1091.9 1639.4 1008 1642.6 1025.9 1645.7 1012.9 1648.8 1033 1651.9 1022 1655 1031.9 1658.1 1060.2 1661.2 1056.7 1664.3 1066.7 1667.4 1061.9 1670.5 1036.6 1673.5 1015.7 1676.6 1025.2 1679.7 1037.2 1682.7 1053.5 1685.8 1068.4 1688.8 1078.2 1691.8 1075.6 1694.9 1059.3 1697.9 1049 1700.9 1047.4 1703.9 1031.7 1706.9 1035.3 1709.9 1010.3 1712.9 1009.1 1715.9 1024 1718.9 1015.8 1721.8 1008.1 1724.8 1109.8 1727.8 1057.4 1730.7 1055.2 1733.7 1070.8 1736.6 1071.3 1739.6 1058.3 1742.5 1034.1 1745.4 1042.6 1748.3 1076.8 1751.2 1082.2 1754.1 1056.8 1757 1019.1 1759.9 1014.4 1762.8 1027.2 1765.7 1031.3 1768.5 1046.5 1771.4 1062.9 1774.2 1081.7 1777.1 1071.4 1779.9 1070.6 1782.8 1047.5 1785.6 1058.8 1788.4 1056.1 1791.2 1041.7 1794 1040.2 1796.8 1046.1 1799.6 1071.7 1802.4 1080.1 1805.1 1069.6 1807.9 1074.4 1810.7 1084.8 1813.4 1070 1816.2 1026.3 1818.9 1025.2 1821.6 1026.3 1824.4 1002.9 1827.1 1001.8 1829.8 1030.6 1832.5 1046.7 1835.2 1050.1 1837.8 1061.8 1840.5 1072.5 1843.2 1058.4 1845.9 1041.5 1848.5 1032.6 1851.2 1028.1 1853.8 1047.5 1856.4 1045.7 1859 1079.1 1861.7 1091 1864.3 1086.9 1866.9 1081.3 1869.4 1062.1 1872 1006.8 1874.6 1026.1"/>
<path stroke="#0000ff" stroke-width="4" d="M384.4 516.5a15 15 0 1 0 30 0a15 15 0 1 0 -30 0M387 561.9a15 15 0 1 0 30 0a15 15 0 1 0 -30 0M389.6 582.9a15 15 0 1 0 30 0a15 15 0 1 0 -30 0M392.1 581.2a15 15 0 1 0 30 0a15 15 0 1 0 -30 0M394.7 561.7a15 15 0 1 0 30 0a15 15 0 1 0 -30 0M397.3 541.6a15 15 0 1 0 30 0a15 15 0 1 0 -30 0M400 555.7a15 15 0 1 0 30 0a15 15 0 1 0 -30 0M402.6 544.9a15 15 0 1 0 30 0a15 15 0 1 0 -30 0M405.2 534.3a15 15 0 1 0 30 0a15 15 0 1 0 -30 0M407.8 560.9a15 15 0 1 0 30 0a15 15 0 1 0 -30 0M410.5 573.2a15 15 0 1 0 30 0a15 15 0 1 0 -30 0M413.1 547.6a15 15 0 1 0 30 0a15 15 0 1 0 -30 0M415.8 540.8a15 15 0 1 0 30 0a15 15 0 1 0 -30 0M418.5 556.4a15 15 0 1 0 30 0a15 15 0 1 0 -30 0M421.1 566.4a15 15 0 1 0 30 0a15 15 0 1 0 -30 0M423.8 553.6a15 15 0 1 0 30 0a15 15 0 1 0 -30 0M426.5 546a15 15 0 1 0 30 0a15 15 0 1 0 -30 0M429.2 519.1a15 15 0 1 0 30 0a15 15 0 1 0 -30 0M431.9 512.8a15 15 0 1 0 30 0a15 15 0 1 0 -30 0M434.6 523a15 15 0 1 0 30 0a15 15 0 1 0 -30 0M437.3 511.9a15 15 0 1 0 30 0a15 15 0 1 0 -30 0M440.1 530.1a15 15 0 1 0 30 0a15 15 0 1 0 -30 0M442.8 537.8a15 15 0 1 0 30 0a15 15 0 1 0 -30 0M445.5 533.1a15 15 0 1 0 30 0a15 15 0 1 0 -30 0M448.3 531.5a15 15 0 1 0 30 0a15 15 0 1 0 -30 0M451 542.7a15 15 0 1 0 30 0a15 15 0 1 0 -30 0M453.8 545.4a15 15 0 1 0 30 0a15 15 0 1 0 -30 0M456.6 528.1a15 15 0 1 0 30 0a15 15 0 1 0 -30 0M459.4 540.1a15 15 0 1 0 30 0a15 15 0 1 0 -30 0M462.2 538.6a15 15 0 1 0 30 0a15 15 0 1 0 -30 0M464.9 572.3a15 15 0 1 0 30 0a15 15 0 1 0 -30 0M467.7 526.8a15 15 0 1 0 30 0a15 15 0 1 0 -30 0M470.6 540.2a15 15 0 1 0 30 0a15 15 0 1 0 -30 0M473.4 532a15 15 0 1 0 30 0a15 15 0 1 0 -30 0M476.2 546.9a15 15 0 1 0 30 0a15 15 0 1 0 -30 0M479 537.5a15 15 0 1 0 30 0a15 15 0 1 0 -30 0M481.9 535.3a15 15 0 1 0 30 0a15 15 0 1 0 -30 0M484.7 549.5a15 15 0 1 0 30 0a15 15 0 1 0 -30 0M487.6 543.2a15 15 0 1 0 30 0a15 15 0 1 0 -30 0M490.4 515.9a15 15 0 1 0 30 0a15 15 0 1 0 -30 0M493.3 508.6a15 15 0 1 0 30 0a15 15 0 1 0 -30 0M496.2 564.9a15 15 0 1 0 30 0a15 15 0 1 0 -30 0M499 541.6a15 15 0 1 0 30 0a15 15 0 1 0 -30 0M501.9 542.1a15 15 0 1 0 30 0a15 15 0 1 0 -30 0M504.8 538.2a15 15 0 1 0 30 0a15 15 0 1 0 -30 0M507.7 521.7a15 15 0 1 0 30 0a15 15 0 1 0 -30 0M510.6 514.4a15 15 0 1 0 30 0a15 15 0 1 0 -30 0M513.5 532.8a15 15 0 1 0 30 0a15 15 0 1 0 -30 0M516.4 541.4a15 15 0 1 0 30 0a15 15 0 1 0 -30 0M519.4 508.8a15 15 0 1 0 30 0a15 15 0 1 0 -30 0M522.3 490.6a15 15 0 1 0 30 0a15 15 0 1 0 -30 0M525.2 496.2a15 15 0 1 0 30 0a15 15 0 1 0 -30 0M528.2 523a15 15 0 1 0 30 0a15 15 0 1 0 -30 0M531.1 527.8a15 15 0 1 0 30 0a15 15 0 1 0 -30 0M534.1 551.4a15 15 0 1 0 30 0a15 15 0 1 0 -30 0M537.1 440.2a15 15 0 1 0 30 0a15 15 0 1 0 -30 0M540 493.4a15 15 0 1 0 30 0a15 15 0 1 0 -30 0M543 484.4a15 15 0 1 0 30 0a15 15 0 1 0 -30 0M546 517.5a15 15 0 1 0 30 0a15 15 0 1 0 -30 0M549 519a15 15 0 1 0 30 0a15 15 0 1 0 -30 0M552 466.5a15 15 0 1 0 30 0a15 15 0 1 0 -30 0M555 441.8a15 15 0 1 0 30 0a15 15 0 1 0 -30 0M558 459.6a15 15 0 1 0 30 0a15 15 0 1 0 -30 0M561 512.1a15 15 0 1 0 30 0a15 15 0 1 0 -30 0M564 520.5a15 15 0 1 0 30 0a15 15 0 1 0 -30 0M567.1 488.6a15 15 0 1 0 30 0a15 15 0 1 0 -30 0M570.1 488.5a15 15 0 1 0 30 0a15 15 0 1 0 -30 0M573.1 494.3a15 15 0 1 0 30 0a15 15 0 1 0 -30 0M576.2 477.9a15 15 0 1 0 30 0a15 15 0 1 0 -30 0M579.2 461.9a15 15 0 1 0 30 0a15 15 0 1 0 -30 0M582.3 479.1a15 15 0 1 0 30 0a15 15 0 1 0 -30 0M585.4 482.8a15 15 0 1 0 30 0a15 15 0 1 0 -30 0M588.4 488.3a15 15 0 1 0 30 0a15 15 0 1 0 -30 0M591.5 505.5a15 15 0 1 0 30 0a15 15 0 1 0 -30 0M594.6 507.8a15 15 0 1 0 30 0a15 15 0 1 0 -30 0M597.7 519.5a15 15 0 1 0 30 0a15 15 0 1 0 -30 0M600.8 533.6a15 15 0 1 0 30 0a15 15 0 1 0 -30 0M603.9 528.7a15 15 0 1 0 30 0a15 15 0 1 0 -30 0M607 513.2a15 15 0 1 0 30 0a15 15 0 1 0 -30 0M610.1 482.9a15 15 0 1 0 30 0a15 15 0 1 0 -30 0M613.2 551.4a15 15 0 1 0 30 0a15 15 0 1 0 -30 0M616.3 497.4a15 15 0 1 0 30 0a15 15 0 1 0 -30 0M619.5 505.7a15 15 0 1 0 30 0a15 15 0 1 0 -30 0M622.6 513.5a15 15 0 1 0 30 0a15 15 0 1 0 -30 0M625.7 517.2a15 15 0 1 0 30 0a15 15 0 1 0 -30 0M628.9 512.4a15 15 0 1 0 30 0a15 15 0 1 0 -30 0M632 508.6a15 15 0 1 0 30 0a15 15 0 1 0 -30 0M635.2 527.6a15 15 0 1 0 30 0a15 15 0 1 0 -30 0M638.3 529.6a15 15 0 1 0 30 0a15 15 0 1 0 -30 0M641.5 525.8a15 15 0 1 0 30 0a15 15 0 1 0 -30 0M644.7 540.9a15 15 0 1 0 30 0a15 15 0 1 0 -30 0M647.8 554a15 15 0 1 0 30 0a15 15 0 1 0 -30 0M651 553.4a15 15 0 1 0 30 0a15 15 0 1 0 -30 0M654.2 545.4a15 15 0 1 0 30 0a15 15 0 1 0 -30 0M657.4 533.9a15 15 0 1 0 30 0a15 15 0 1 0 -30 0M660.6 530.1a15 15 0 1 0 30 0a15 15 0 1 0 -30 0M663.8 543.2a15 15 0 1 0 30 0a15 15 0 1 0 -30 0M667 525.2a15 15 0 1 0 30 0a15 15 0 1 0 -30 0M670.2 503.2a15 15 0 1 0 30 0a15 15 0 1 0 -30 0M673.4 500.2a15 15 0 1 0 30 0a15 15 0 1 0 -30 0M676.7 491.4a15 15 0 1 0 30 0a15 15 0 1 0 -30 0M679.9 515a15 15 0 1 0 30 0a15 15 0 1 0 -30 0M683.1 535.9a15 15 0 1 0 30 0a15 15 0 1 0 -30 0M686.4 511a15 15 0 1 0 30 0a15 15 0 1 0 -30 0M689.6 490.1a15 15 0 1 0 30 0a15 15 0 1 0 -30 0M692.8 487.4a15 15 0 1 0 30 0a15 15 0 1 0 -30 0M696.1 513.3a15 15 0 1 0 30 0a15 15 0 1 0 -30 0M699.3 520.5a15 15 0 1 0 30 0a15 15 0 1 0 -30 0M702.6 575.4a15 15 0 1 0 30 0a15 15 0 1 0 -30 0M705.9 490.1a15 15 0 1 0 30 0a15 15 0 1 0 -30 0M709.1 466.8a15 15 0 1 0 30 0a15 15 0 1 0 -30 0M712.4 485.4a15 15 0 1 0 30 0a15 15 0 1 0 -30 0M715.7 462a15 15 0 1 0 30 0a15 15 0 1 0 -30 0M719 514.3a15 15 0 1 0 30 0a15 15 0 1 0 -30 0M722.3 503.4a15 15 0 1 0 30 0a15 15 0 1 0 -30 0M725.6 509a15 15 0 1 0 30 0a15 15 0 1 0 -30 0M728.8 496.8a15 15 0 1 0 30 0a15 15 0 1 0 -30 0M732.1 500a15 15 0 1 0 30 0a15 15 0 1 0 -30 0M735.5 505.7a15 15 0 1 0 30 0a15 15 0 1 0 -30 0M738.8 506.4a15 15 0 1 0 30 0a15 15 0 1 0 -30 0M742.1 497.3a15 15 0 1 0 30 0a15 15 0 1 0 -30 0M745.4 477a15 15 0 1 0 30 0a15 15 0 1 0 -30 0M748.7 473.1a15 15 0 1 0 30 0a15 15 0 1 0 -30 0M752 492.4a15 15 0 1 0 30 0a15 15 0 1 0 -30 0M755.4 514.7a15 15 0 1 0 30 0a15 15 0 1 0 -30 0M758.7 507.7a15 15 0 1 0 30 0a15 15 0 1 0 -30 0M762 516.2a15 15 0 1 0 30 0a15 15 0 1 0 -30 0M765.4 533.2a15 15 0 1 0 30 0a15 15 0 1 0 -30 0M768.7 471.1a15 15 0 1 0 30 0a15 15 0 1 0 -30 0M772.1 499.9a15 15 0 1 0 30 0a15 15 0 1 0 -30 0M775.4 494.5a15 15 0 1 0 30 0a15 15 0 1 0 -30 0M778.8 485.2a15 15 0 1 0 30 0a15 15 0 1 0 -30 0M782.1 524.9a15 15 0 1 0 30 0a15 15 0 1 0 -30 0M785.5 533.2a15 15 0 1 0 30 0a15 15 0 1 0 -30 0M788.9 433.2a15 15 0 1 0 30 0a15 15 0 1 0 -30 0M792.2 481.3a15 15 0 1 0 30 0a15 15 0 1 0 -30 0M795.6 476.5a15 15 0 1 0 30 0a15 15 0 1 0 -30 0M799 472.1a15 15 0 1 0 30 0a15 15 0 1 0 -30 0M802.4 479.2a15 15 0 1 0 30 0a15 15 0 1 0 -30 0M805.8 413.6a15 15 0 1 0 30 0a15 15 0 1 0 -30 0M809.2 488.5a15 15 0 1 0 30 0a15 15 0 1 0 -30 0M812.5 514.8a15 15 0 1 0 30 0a15 15 0 1 0 -30 0M815.9 519.6a15 15 0 1 0 30 0a15 15 0 1 0 -30 0M819.3 398.4a15 15 0 1 0 30 0a15 15 0 1 0 -30 0M822.7 393.5a15 15 0 1 0 30 0a15 15 0 1 0 -30 0M826.2 507.3a15 15 0 1 0 30 0a15 15 0 1 0 -30 0M829.6 509a15 15 0 1 0 30 0a15 15 0 1 0 -30 0M833 499a15 15 0 1 0 30 0a15 15 0 1 0 -30 0M836.4 481.7a15 15 0 1 0 30 0a15 15 0 1 0 -30 0M839.8 457.2a15 15 0 1 0 30 0a15 15 0 1 0 -30 0M843.2 525.7a15 15 0 1 0 30 0a15 15 0 1 0 -30 0M846.7 516.5a15 15 0 1 0 30 0a15 15 0 1 0 -30 0M850.1 390.4a15 15 0 1 0 30 0a15 15 0 1 0 -30 0M853.5 411a15 15 0 1 0 30 0a15 15 0 1 0 -30 0M857 417.6a15 15 0 1 0 30 0a15 15 0 1 0 -30 0M860.4 442.3a15 15 0 1 0 30 0a15 15 0 1 0 -30 0M863.8 462.3a15 15 0 1 0 30 0a15 15 0 1 0 -30 0M867.3 466.1a15 15 0 1 0 30 0a15 15 0 1 0 -30 0M870.7 459.7a15 15 0 1 0 30 0a15 15 0 1 0 -30 0M874.2 457.9a15 15 0 1 0 30 0a15 15 0 1 0 -30 0M877.6 387.4a15 15 0 1 0 30 0a15 15 0 1 0 -30 0M881.1 452.6a15 15 0 1 0 30 0a15 15 0 1 0 -30 0M884.5 475.9a15 15 0 1 0 30 0a15 15 0 1 0 -30 0M888 397.8a15 15 0 1 0 30 0a15 15 0 1 0 -30 0M891.4 449.7a15 15 0 1 0 30 0a15 15 0 1 0 -30 0M894.9 434.9a15 15 0 1 0 30 0a15 15 0 1 0 -30 0M898.4 432.5a15 15 0 1 0 30 0a15 15 0 1 0 -30 0M901.8 443.1a15 15 0 1 0 30 0a15 15 0 1 0 -30 0M905.3 473.1a15 15 0 1 0 30 0a15 15 0 1 0 -30 0M908.8 513a15 15 0 1 0 30 0a15 15 0 1 0 -30 0M912.3 454.7a15 15 0 1 0 30 0a15 15 0 1 0 -30 0M915.7 401.5a15 15 0 1 0 30 0a15 15 0 1 0 -30 0M919.2 381.8a15 15 0 1 0 30 0a15 15 0 1 0 -30 0M922.7 394.8a15 15 0 1 0 30 0a15 15 0 1 0 -30 0M926.2 425.7a15 15 0 1 0 30 0a15 15 0 1 0 -30 0M929.7 445.9a15 15 0 1 0 30 0a15 15 0 1 0 -30 0M933.2 370.8a15 15 0 1 0 30 0a15 15 0 1 0 -30 0M936.7 391.6a15 15 0 1 0 30 0a15 15 0 1 0 -30 0M940.2 407.6a15 15 0 1 0 30 0a15 15 0 1 0 -30 0M943.7 425.8a15 15 0 1 0 30 0a15 15 0 1 0 -30 0M947.1 457.2a15 15 0 1 0 30 0a15 15 0 1 0 -30 0M950.6 442.1a15 15 0 1 0 30 0a15 15 0 1 0 -30 0M954.1 417.6a15 15 0 1 0 30 0a15 15 0 1 0 -30 0M957.7 383.7a15 15 0 1 0 30 0a15 15 0 1 0 -30 0M961.2 374.3a15 15 0 1 0 30 0a15 15 0 1 0 -30 0M964.7 392.2a15 15 0 1 0 30 0a15 15 0 1 0 -30 0M968.2 428.2a15 15 0 1 0 30 0a15 15 0 1 0 -30 0M971.7 403.4a15 15 0 1 0 30 0a15 15 0 1 0 -30 0M975.2 404.8a15 15 0 1 0 30 0a15 15 0 1 0 -30 0M978.7 411.8a15 15 0 1 0 30 0a15 15 0 1 0 -30 0M982.2 431.4a15 15 0 1 0 30 0a15 15 0 1 0 -30 0M985.7 444.7a15 15 0 1 0 30 0a15 15 0 1 0 -30 0M989.3 500.6a15 15 0 1 0 30 0a15 15 0 1 0 -30 0M992.8 511a15 15 0 1 0 30 0a15 15 0 1 0 -30 0M996.3 478.9a15 15 0 1 0 30 0a15 15 0 1 0 -30 0M999.8 443.8a15 15 0 1 0 30 0a15 15 0 1 0 -30 0M1003.3 502.5a15 15 0 1 0 30 0a15 15 0 1 0 -30 0M1006.9 450.8a15 15 0 1 0 30 0a15 15 0 1 0 -30 0M1010.4 442.3a15 15 0 1 0 30 0a15 15 0 1 0 -30 0M1013.9 478.7a15 15 0 1 0 30 0a15 15 0 1 0 -30 0M1017.5 520.9a15 15 0 1 0 30 0a15 15 0 1 0 -30 0M1021 501.4a15 15 0 1 0 30 0a15 15 0 1 0 -30 0M1024.5 485.5a15 15 0 1 0 30 0a15 15 0 1 0 -30 0M1028 443.7a15 15 0 1 0 30 0a15 15 0 1 0 -30 0M1031.6 419.1a15 15 0 1 0 30 0a15 15 0 1 0 -30 0M1035.1 430.3a15 15 0 1 0 30 0a15 15 0 1 0 -30 0M1038.6 531.3a15 15 0 1 0 30 0a15 15 0 1 0 -30 0M1042.2 487.6a15 15 0 1 0 30 0a15 15 0 1 0 -30 0M1045.7 464.4a15 15 0 1 0 30 0a15 15 0 1 0 -30 0M1049.3 451a15 15 0 1 0 30 0a15 15 0 1 0 -30 0M1052.8 430.9a15 15 0 1 0 30 0a15 15 0 1 0 -30 0M1056.3 431.1a15 15 0 1 0 30 0a15 15 0 1 0 -30 0M1059.9 468.3a15 15 0 1 0 30 0a15 15 0 1 0 -30 0M1063.4 466.9a15 15 0 1 0 30 0a15 15 0 1 0 -30 0M1067 416.6a15 15 0 1 0 30 0a15 15 0 1 0 -30 0M1070.5 483.4a15 15 0 1 0 30 0a15 15 0 1 0 -30 0M1074 463.6a15 15 0 1 0 30 0a15 15 0 1 0 -30 0M1077.6 487.6a15 15 0 1 0 30 0a15 15 0 1 0 -30 0M1081.1 513a15 15 0 1 0 30 0a15 15 0 1 0 -30 0M1084.7 502.5a15 15 0 1 0 30 0a15 15 0 1 0 -30 0M1088.2 449.2a15 15 0 1 0 30 0a15 15 0 1 0 -30 0M1091.8 439.3a15 15 0 1 0 30 0a15 15 0 1 0 -30 0M1095.3 503.8a15 15 0 1 0 30 0a15 15 0 1 0 -30 0M1098.9 503.3a15 15 0 1 0 30 0a15 15 0 1 0 -30 0M1102.4 497.4a15 15 0 1 0 30 0a15 15 0 1 0 -30 0M1105.9 522.6a15 15 0 1 0 30 0a15 15 0 1 0 -30 0M1109.5 457.2a15 15 0 1 0 30 0a15 15 0 1 0 -30 0M1113 488.8a15 15 0 1 0 30 0a15 15 0 1 0 -30 0M1116.6 519.4a15 15 0 1 0 30 0a15 15 0 1 0 -30 0M1120.1 521.1a15 15 0 1 0 30 0a15 15 0 1 0 -30 0M1123.7 523.5a15 15 0 1 0 30 0a15 15 0 1 0 -30 0M1127.2 501.5a15 15 0 1 0 30 0a15 15 0 1 0 -30 0M1130.8 512.8a15 15 0 1 0 30 0a15 15 0 1 0 -30 0M1134.3 542.7a15 15 0 1 0 30 0a15 15 0 1 0 -30 0M1137.9 616.4a15 15 0 1 0 30 0a15 15 0 1 0 -30 0M1141.4 551.9a15 15 0 1 0 30 0a15 15 0 1 0 -30 0M1145 569.8a15 15 0 1 0 30 0a15 15 0 1 0 -30 0M1148.5 582.2a15 15 0 1 0 30 0a15 15 0 1 0 -30 0M1152 594.8a15 15 0 1 0 30 0a15 15 0 1 0 -30 0M1155.6 581.8a15 15 0 1 0 30 0a15 15 0 1 0 -30 0M1159.1 554.6a15 15 0 1 0 30 0a15 15 0 1 0 -30 0M1162.7 566.5a15 15 0 1 0 30 0a15 15 0 1 0 -30 0M1166.2 514.8a15 15 0 1 0 30 0a15 15 0 1 0 -30 0M1169.8 540a15 15 0 1 0 30 0a15 15 0 1 0 -30 0M1173.3 565.6a15 15 0 1 0 30 0a15 15 0 1 0 -30 0M1176.8 570.9a15 15 0 1 0 30 0a15 15 0 1 0 -30 0M1180.4 523.3a15 15 0 1 0 30 0a15 15 0 1 0 -30 0M1183.9 513.4a15 15 0 1 0 30 0a15 15 0 1 0 -30 0M1187.5 547.7a15 15 0 1 0 30 0a15 15 0 1 0 -30 0M1191 520.9a15 15 0 1 0 30 0a15 15 0 1 0 -30 0M1194.5 567a15 15 0 1 0 30 0a15 15 0 1 0 -30 0M1198.1 592.5a15 15 0 1 0 30 0a15 15 0 1 0 -30 0M1201.6 605.3a15 15 0 1 0 30 0a15 15 0 1 0 -30 0M1205.2 619.1a15 15 0 1 0 30 0a15 15 0 1 0 -30 0M1208.7 626.5a15 15 0 1 0 30 0a15 15 0 1 0 -30 0M1212.2 626.7a15 15 0 1 0 30 0a15 15 0 1 0 -30 0M1215.8 652.6a15 15 0 1 0 30 0a15 15 0 1 0 -30 0M1219.3 693.1a15 15 0 1 0 30 0a15 15 0 1 0 -30 0M1222.8 688.2a15 15 0 1 0 30 0a15 15 0 1 0 -30 0M1226.4 710.6a15 15 0 1 0 30 0a15 15 0 1 0 -30 0M1229.9 753.2a15 15 0 1 0 30 0a15 15 0 1 0 -30 0M1233.4 774.6a15 15 0 1 0 30 0a15 15 0 1 0 -30 0M1236.9 801.5a15 15 0 1 0 30 0a15 15 0 1 0 -30 0M1240.5 801a15 15 0 1 0 30 0a15 15 0 1 0 -30 0M1244 827.3a15 15 0 1 0 30 0a15 15 0 1 0 -30 0M1247.5 877.7a15 15 0 1 0 30 0a15 15 0 1 0 -30 0M1251 894.1a15 15 0 1 0 30 0a15 15 0 1 0 -30 0M1254.5 901.3a15 15 0 1 0 30 0a15 15 0 1 0 -30 0M1258.1 930.5a15 15 0 1 0 30 0a15 15 0 1 0 -30 0M1261.6 954.3a15 15 0 1 0 30 0a15 15 0 1 0 -30 0M1265.1 969.6a15 15 0 1 0 30 0a15 15 0 1 0 -30 0M1268.6 963.9a15 15 0 1 0 30 0a15 15 0 1 0 -30 0M1272.1 962.5a15 15 0 1 0 30 0a15 15 0 1 0 -30 0M1275.6 973a15 15 0 1 0 30 0a15 15 0 1 0 -30 0M1279.1 998.8a15 15 0 1 0 30 0a15 15 0 1 0 -30 0M1282.7 1013.2a15 15 0 1 0 30 0a15 15 0 1 0 -30 0M1286.2 1041a15 15 0 1 0 30 0a15 15 0 1 0 -30 0M1289.7 1035.5a15 15 0 1 0 30 0a15 15 0 1 0 -30 0M1293.2 1014a15 15 0 1 0 30 0a15 15 0 1 0 -30 0M1296.7 1023.9a15 15 0 1 0 30 0a15 15 0 1 0 -30 0M1300.2 1082.3a15 15 0 1 0 30 0a15 15 0 1 0 -30 0M1303.7 985.5a15 15 0 1 0 30 0a15 15 0 1 0 -30 0M1307.2 1043.6a15 15 0 1 0 30 0a15 15 0 1 0 -30 0M1310.6 1062.5a15 15 0 1 0 30 0a15 15 0 1 0 -30 0M1314.1 1049.5a15 15 0 1 0 30 0a15 15 0 1 0 -30 0M1317.6 1051.6a15 15 0 1 0 30 0a15 15 0 1 0 -30 0M1321.1 1030.6a15 15 0 1 0 30 0a15 15 0 1 0 -30 0M1324.6 1012.1a15 15 0 1 0 30 0a15 15 0 1 0 -30 0M1328.1 1032.8a15 15 0 1 0 30 0a15 15 0 1 0 -30 0M1331.5 1102.8a15 15 0 1 0 30 0a15 15 0 1 0 -30 0M1335 1055.4a15 15 0 1 0 30 0a15 15 0 1 0 -30 0M1338.5 1080.7a15 15 0 1 0 30 0a15 15 0 1 0 -30 0M1342 1062.2a15 15 0 1 0 30 0a15 15 0 1 0 -30 0M1345.4 1065.9a15 15 0 1 0 30 0a15 15 0 1 0 -30 0M1348.9 1071.8a15 15 0 1 0 30 0a15 15 0 1 0 -30 0M1352.4 1030.7a15 15 0 1 0 30 0a15 15 0 1 0 -30 0M1355.8 1018.9a15 15 0 1 0 30 0a15 15 0 1 0 -30 0M1359.3 1029.4a15 15 0 1 0 30 0a15 15 0 1 0 -30 0M1362.8 1042.2a15 15 0 1 0 30 0a15 15 0 1 0 -30 0M1366.2 1057.7a15 15 0 1 0 30 0a15 15 0 1 0 -30 0M1369.7 1074.3a15 15 0 1 0 30 0a15 15 0 1 0 -30 0M1373.1 1070.6a15 15 0 1 0 30 0a15 15 0 1 0 -30 0M1376.6 1040.9a15 15 0 1 0 30 0a15 15 0 1 0 -30 0M1380 1050a15 15 0 1 0 30 0a15 15 0 1 0 -30 0M1383.4 1055.7a15 15 0 1 0 30 0a15 15 0 1 0 -30 0M1386.9 1039.1a15 15 0 1 0 30 0a15 15 0 1 0 -30 0M1390.3 1009.9a15 15 0 1 0 30 0a15 15 0 1 0 -30 0M1393.7 1008.7a15 15 0 1 0 30 0a15 15 0 1 0 -30 0M1397.2 1036.5a15 15 0 1 0 30 0a15 15 0 1 0 -30 0M1400.6 1066.6a15 15 0 1 0 30 0a15 15 0 1 0 -30 0M1404 1076.2a15 15 0 1 0 30 0a15 15 0 1 0 -30 0M1407.4 1006.8a15 15 0 1 0 30 0a15 15 0 1 0 -30 0M1410.9 1015a15 15 0 1 0 30 0a15 15 0 1 0 -30 0M1414.3 1012.1a15 15 0 1 0 30 0a15 15 0 1 0 -30 0M1417.7 1009.9a15 15 0 1 0 30 0a15 15 0 1 0 -30 0M1421.1 1016.6a15 15 0 1 0 30 0a15 15 0 1 0 -30 0M1424.5 1025a15 15 0 1 0 30 0a15 15 0 1 0 -30 0M1427.9 1030.9a15 15 0 1 0 30 0a15 15 0 1 0 -30 0M1431.3 1044.3a15 15 0 1 0 30 0a15 15 0 1 0 -30 0M1434.7 1061.5a15 15 0 1 0 30 0a15 15 0 1 0 -30 0M1438.1 1096.7a15 15 0 1 0 30 0a15 15 0 1 0 -30 0M1441.5 1052.8a15 15 0 1 0 30 0a15 15 0 1 0 -30 0M1444.8 1026.3a15 15 0 1 0 30 0a15 15 0 1 0 -30 0M1448.2 1035.1a15 15 0 1 0 30 0a15 15 0 1 0 -30 0M1451.6 1048a15 15 0 1 0 30 0a15 15 0 1 0 -30 0M1455 1009.4a15 15 0 1 0 30 0a15 15 0 1 0 -30 0M1458.3 1088.6a15 15 0 1 0 30 0a15 15 0 1 0 -30 0M1461.7 1083.9a15 15 0 1 0 30 0a15 15 0 1 0 -30 0M1465.1 1058.9a15 15 0 1 0 30 0a15 15 0 1 0 -30 0M1468.4 1059.5a15 15 0 1 0 30 0a15 15 0 1 0 -30 0M1471.8 1037.4a15 15 0 1 0 30 0a15 15 0 1 0 -30 0M1475.1 1040.2a15 15 0 1 0 30 0a15 15 0 1 0 -30 0M1478.5 1049.8a15 15 0 1 0 30 0a15 15 0 1 0 -30 0M1481.8 1037.2a15 15 0 1 0 30 0a15 15 0 1 0 -30 0M1485.1 1057.2a15 15 0 1 0 30 0a15 15 0 1 0 -30 0M1488.5 1089.3a15 15 0 1 0 30 0a15 15 0 1 0 -30 0M1491.8 1063.3a15 15 0 1 0 30 0a15 15 0 1 0 -30 0M1495.1 1044.2a15 15 0 1 0 30 0a15 15 0 1 0 -30 0M1498.5 1073.2a15 15 0 1 0 30 0a15 15 0 1 0 -30 0M1501.8 1081.5a15 15 0 1 0 30 0a15 15 0 1 0 -30 0M1505.1 1053.6a15 15 0 1 0 30 0a15 15 0 1 0 -30 0M1508.4 1053.7a15 15 0 1 0 30 0a15 15 0 1 0 -30 0M1511.7 1065.5a15 15 0 1 0 30 0a15 15 0 1 0 -30 0M1515 1049.6a15 15 0 1 0 30 0a15 15 0 1 0 -30 0M1518.3 1019.9a15 15 0 1 0 30 0a15 15 0 1 0 -30 0M1521.6 1010.2a15 15 0 1 0 30 0a15 15 0 1 0 -30 0M1524.9 1008.7a15 15 0 1 0 30 0a15 15 0 1 0 -30 0M1528.2 999.9a15 15 0 1 0 30 0a15 15 0 1 0 -30 0M1531.4 1015.3a15 15 0 1 0 30 0a15 15 0 1 0 -30 0M1534.7 1016.9a15 15 0 1 0 30 0a15 15 0 1 0 -30 0M1538 1063.9a15 15 0 1 0 30 0a15 15 0 1 0 -30 0M1541.3 1045.9a15 15 0 1 0 30 0a15 15 0 1 0 -30 0M1544.5 1050a15 15 0 1 0 30 0a15 15 0 1 0 -30 0M1547.8 1058.6a15 15 0 1 0 30 0a15 15 0 1 0 -30 0M1551 1049.2a15 15 0 1 0 30 0a15 15 0 1 0 -30 0M1554.3 1066.3a15 15 0 1 0 30 0a15 15 0 1 0 -30 0M1557.5 1045a15 15 0 1 0 30 0a15 15 0 1 0 -30 0M1560.7 1043.4a15 15 0 1 0 30 0a15 15 0 1 0 -30 0M1564 1080a15 15 0 1 0 30 0a15 15 0 1 0 -30 0M1567.2 1083.4a15 15 0 1 0 30 0a15 15 0 1 0 -30 0M1570.4 1075.8a15 15 0 1 0 30 0a15 15 0 1 0 -30 0M1573.6 1054.5a15 15 0 1 0 30 0a15 15 0 1 0 -30 0M1576.9 1023.9a15 15 0 1 0 30 0a15 15 0 1 0 -30 0M1580.1 1040.2a15 15 0 1 0 30 0a15 15 0 1 0 -30 0M1583.3 1023.8a15 15 0 1 0 30 0a15 15 0 1 0 -30 0M1586.5 1052.6a15 15 0 1 0 30 0a15 15 0 1 0 -30 0M1589.7 1084.6a15 15 0 1 0 30 0a15 15 0 1 0 -30 0M1592.8 1088.5a15 15 0 1 0 30 0a15 15 0 1 0 -30 0M1596 1057a15 15 0 1 0 30 0a15 15 0 1 0 -30 0M1599.2 1059.3a15 15 0 1 0 30 0a15 15 0 1 0 -30 0M1602.4 1057.1a15 15 0 1 0 30 0a15 15 0 1 0 -30 0M1605.5 1046a15 15 0 1 0 30 0a15 15 0 1 0 -30 0M1608.7 1059.1a15 15 0 1 0 30 0a15 15 0 1 0 -30 0M1611.9 1064.4a15 15 0 1 0 30 0a15 15 0 1 0 -30 0M1615 1044.7a15 15 0 1 0 30 0a15 15 0 1 0 -30 0M1618.2 1021.7a15 15 0 1 0 30 0a15 15 0 1 0 -30 0M1621.3 1091.9a15 15 0 1 0 30 0a15 15 0 1 0 -30 0M1624.4 1008a15 15 0 1 0 30 0a15 15 0 1 0 -30 0M1627.6 1025.9a15 15 0 1 0 30 0a15 15 0 1 0 -30 0M1630.7 1012.9a15 15 0 1 0 30 0a15 15 0 1 0 -30 0M1633.8 1033a15 15 0 1 0 30 0a15 15 0 1 0 -30 0M1636.9 1022a15 15 0 1 0 30 0a15 15 0 1 0 -30 0M1640 1031.9a15 15 0 1 0 30 0a15 15 0 1 0 -30 0M1643.1 1060.2a15 15 0 1 0 30 0a15 15 0 1 0 -30 0M1646.2 1056.7a15 15 0 1 0 30 0a15 15 0 1 0 -30 0M1649.3 1066.7a15 15 0 1 0 30 0a15 15 0 1 0 -30 0M1652.4 1061.9a15 15 0 1 0 30 0a15 15 0 1 0 -30 0M1655.5 1036.6a15 15 0 1 0 30 0a15 15 0 1 0 -30 0M1658.5 1015.7a15 15 0 1 0 30 0a15 15 0 1 0 -30 0M1661.6 1025.2a15 15 0 1 0 30 0a15 15 0 1 0 -30 0M1664.7 1037.2a15 15 0 1 0 30 0a15 15 0 1 0 -30 0M1667.7 1053.5a15 15 0 1 0 30 0a15 15 0 1 0 -30 0M1670.8 1068.4a15 15 0 1 0 30 0a15 15 0 1 0 -30 0M1673.8 1078.2a15 15 0 1 0 30 0a15 15 0 1 0 -30 0M1676.8 1075.6a15 15 0 1 0 30 0a15 15 0 1 0 -30 0M1679.9 1059.3a15 15 0 1 0 30 0a15 15 0 1 0 -30 0M1682.9 1049a15 15 0 1 0 30 0a15 15 0 1 0 -30 0M1685.9 1047.4a15 15 0 1 0 30 0a15 15 0 1 0 -30 0M1688.9 1031.7a15 15 0 1 0 30 0a15 15 0 1 0 -30 0M1691.9 1035.3a15 15 0 1 0 30 0a15 15 0 1 0 -30 0M1694.9 1010.3a15 15 0 1 0 30 0a15 15 0 1 0 -30 0M1697.9 1009.1a15 15 0 1 0 30 0a15 15 0 1 0 -30 0M1700.9 1024a15 15 0 1 0 30 0a15 15 0 1 0 -30 0M1703.9 1015.8a15 15 0 1 0 30 0a15 15 0 1 0 -30 0M1706.8 1008.1a15 15 0 1 0 30 0a15 15 0 1 0 -30 0M1709.8 1109.8a15 15 0 1 0 30 0a15 15 0 1 0 -30 0M1712.8 1057.4a15 15 0 1 0 30 0a15 15 0 1 0 -30 0M1715.7 1055.2a15 15 0 1 0 30 0a15 15 0 1 0 -30 0M1718.7 1070.8a15 15 0 1 0 30 0a15 15 0 1 0 -30 0M1721.6 1071.3a15 15 0 1 0 30 0a15 15 0 1 0 -30 0M1724.6 1058.3a15 15 0 1 0 30 0a15 15 0 1 0 -30 0M1727.5 1034.1a15 15 0 1 0 30 0a15 15 0 1 0 -30 0M1730.4 1042.6a15 15 0 1 0 30 0a15 15 0 1 0 -30 0M1733.3 1076.8a15 15 0 1 0 30 0a15 15 0 1 0 -30 0M1736.2 1082.2a15 15 0 1 0 30 0a15 15 0 1 0 -30 0M1739.1 1056.8a15 15 0 1 0 30 0a15 15 0 1 0 -30 0M1742 1019.1a15 15 0 1 0 30 0a15 15 0 1 0 -30 0M1744.9 1014.4a15 15 0 1 0 30 0a15 15 0 1 0 -30 0M1747.8 1027.2a15 15 0 1 0 30 0a15 15 0 1 0 -30 0M1750.7 1031.3a15 15 0 1 0 30 0a15 15 0 1 0 -30 0M1753.5 1046.5a15 15 0 1 0 30 0a15 15 0 1 0 -30 0M1756.4 1062.9a15 15 0 1 0 30 0a15 15 0 1 0 -30 0M1759.2 1081.7a15 15 0 1 0 30 0a15 15 0 1 0 -30 0M1762.1 1071.4a15 15 0 1 0 30 0a15 15 0 1 0 -30 0M1764.9 1070.6a15 15 0 1 0 30 0a15 15 0 1 0 -30 0M1767.8 1047.5a15 15 0 1 0 30 0a15 15 0 1 0 -30 0M1770.6 1058.8a15 15 0 1 0 30 0a15 15 0 1 0 -30 0M1773.4 1056.1a15 15 0 1 0 30 0a15 15 0 1 0 -30 0M1776.2 1041.7a15 15 0 1 0 30 0a15 15 0 1 0 -30 0M1779 1040.2a15 15 0 1 0 30 0a15 15 0 1 0 -30 0M1781.8 1046.1a15 15 0 1 0 30 0a15 15 0 1 0 -30 0M1784.6 1071.7a15 15 0 1 0 30 0a15 15 0 1 0 -30 0M1787.4 1080.1a15 15 0 1 0 30 0a15 15 0 1 0 -30 0M1790.1 1069.6a15 15 0 1 0 30 0a15 15 0 1 0 -30 0M1792.9 1074.4a15 15 0 1 0 30 0a15 15 0 1 0 -30 0M1795.7 1084.8a15 15 0 1 0 30 0a15 15 0 1 0 -30 0M1798.4 1070a15 15 0 1 0 30 0a15 15 0 1 0 -30 0M1801.2 1026.3a15 15 0 1 0 30 0a15 15 0 1 0 -30 0M1803.9 1025.2a15 15 0 1 0 30 0a15 15 0 1 0 -30 0M1806.6 1026.3a15 15 0 1 0 30 0a15 15 0 1 0 -30 0M1809.4 1002.9a15 15 0 1 0 30 0a15 15 0 1 0 -30 0M1812.1 1001.8a15 15 0 1 0 30 0a15 15 0 1 0 -30 0M1814.8 1030.6a15 15 0 1 0 30 0a15 15 0 1 0 -30 0M1817.5 1046.7a15 15 0 1 0 30 0a15 15 0 1 0 -30 0M1820.2 1050.1a15 15 0 1 0 30 0a15 15 0 1 0 -30 0M1822.8 1061.8a15 15 0 1 0 30 0a15 15 0 1 0 -30 0M1825.5 1072.5a15 15 0 1 0 30 0a15 15 0 1 0 -30 0M1828.2 1058.4a15 15 0 1 0 30 0a15 15 0 1 0 -30 0M1830.9 1041.5a15 15 0 1 0 30 0a15 15 0 1 0 -30 0M1833.5 1032.6a15 15 0 1 0 30 0a15 15 0 1 0 -30 0M1836.2 1028.1a15 15 0 1 0 30 0a15 15 0 1 0 -30 0M1838.8 1047.5a15 15 0 1 0 30 0a15 15 0 1 0 -30 0M1841.4 1045.7a15 15 0 1 0 30 0a15 15 0 1 0 -30 0M1844 1079.1a15 15 0 1 0 30 0a15 15 0 1 0 -30 0M1846.7 1091a15 15 0 1 0 30 0a15 15 0 1 0 -30 0M1849.3 1086.9a15 15 0 1 0 30 0a15 15 0 1 0 -30 0M1851.9 1081.3a15 15 0 1 0 30 0a15 15 0 1 0 -30 0M1854.4 1062.1a15 15 0 1 0 30 0a15 15 0 1 0 -30 0M1857 1006.8a15 15 0 1 0 30 0a15 15 0 1 0 -30 0M1859.6 1026.1a15 15 0 1 0 30 0a15 15 0 1 0 -30 0"/>
<path stroke="#ff0000" stroke-width="4" d="M399.4 533.8 402 556.4 404.6 603.7 407.1 559 409.7 590.7 412.3 576 415 572.2 417.6 547.9 420.2 510.4 422.8 605.5 425.5 479.4 428.1 517.1 430.8 519.4 433.5 568.2 436.1 599.2 438.8 593.5 441.5 480.3 444.2 551 446.9 572.8 449.6 552.2 452.3 531.3 455.1 523.7 457.8 522.3 460.5 512.4 463.3 521.4 466 531.3 468.8 510.4 471.6 503.8 474.4 500.9 477.2 509.4 479.9 538.1 482.7 550.9 485.6 558.6 488.4 554.6 491.2 532.4 494 509.8 496.9 491.2 499.7 494.9 502.6 519.1 505.4 509.3 508.3 482.8 511.2 481.8 514 512.4 516.9 540.6 519.8 533.4 522.7 509.4 525.6 489.2 528.5 487.4 531.4 499.8 534.4 510.5 537.3 512.1 540.2 511.9 543.2 508.2 546.1 504 549.1 511 552.1 527.4 555 521.3 558 514.5 561 515.7 564 512.1 567 512.5 570 507.7 573 499.3 576 454.6 579 487.6 582.1 475.2 585.1 476 588.1 481.9 591.2 490.9 594.2 503.6 597.3 505.1 600.4 500.2 603.4 513.7 606.5 529.9 609.6 530.8 612.7 522.5 615.8 518.8 618.9 518.7 622 519.5 625.1 519.3 628.2 519.5 631.3 519.5 634.5 514.1 637.6 508.6 640.7 511.4 643.9 519 647 519.3 650.2 515.9 653.3 507.9 656.5 501.5 659.7 502.2 662.8 504.2 666 499.1 669.2 493.9 672.4 491.4 675.6 488.8 678.8 488.8 682 485.1 685.2 484.1 688.4 489.4 691.7 489.2 694.9 483.1 698.1 481 701.4 486.1 704.6 486.7 707.8 486.4 711.1 488.8 714.3 490.7 717.6 491.1 720.9 491.7 724.1 491.4 727.4 489.9 730.7 493 734 495.4 737.3 496 740.6 496.1 743.8 497 747.1 498.7 750.5 497.6 753.8 494.8 757.1 496.5 760.4 499.6 763.7 500.9 767 502.7 770.4 504 773.7 505.8 777 505.1 780.4 500.4 783.7 494.3 787.1 491.4 790.4 489.6 793.8 487.6 797.1 484.9 800.5 481.7 803.9 479.3 807.2 479.2 810.6 479.5 814 475.6 817.4 468.3 820.8 464.6 824.2 466.3 827.5 467.1 830.9 462.7 834.3 461.3 837.7 462.2 841.2 462.1 844.6 459.7 848 455.2 851.4 455.8 854.8 460.7 858.2 461.3 861.7 459.1 865.1 460.2 868.5 463.5 872 459.7 875.4 457.2 878.8 460 882.3 460.6 885.7 459.2 889.2 461.9 892.6 466.7 896.1 468.5 899.5 468.3 903 467 906.4 464 909.9 461.9 913.4 459 916.8 454.5 920.3 451.7 923.8 453.8 927.3 453.5 930.7 445.4 934.2 437.6 937.7 431.4 941.2 427.2 944.7 421.9 948.2 416.5 951.7 411.3 955.2 408.7 958.7 411.3 962.1 414.5 965.6 419 969.1 427.2 972.7 435.1 976.2 441.6 979.7 448.9 983.2 456.1 986.7 459.2 990.2 459.9 993.7 461.8 997.2 465.7 1000.7 471.1 1004.3 475.8 1007.8 478.5 1011.3 482.5 1014.8 488 1018.3 495.7 1021.9 498.7 1025.4 498.7 1028.9 500.9 1032.5 502.8 1036 497.8 1039.5 493.1 1043 492.3 1046.6 491.2 1050.1 487.9 1053.6 486 1057.2 482.6 1060.7 479.7 1064.3 476.7 1067.8 472.6 1071.3 466.8 1074.9 459.6 1078.4 454.2 1082 450.6 1085.5 448.6 1089 447.3 1092.6 444.9 1096.1 443.7 1099.7 447 1103.2 450 1106.8 452.3 1110.3 456 1113.9 458.2 1117.4 462.2 1120.9 469.5 1124.5 475.9 1128 482.5 1131.6 492.6 1135.1 504.2 1138.7 517.7 1142.2 535.1 1145.8 550.4 1149.3 560.7 1152.9 571.6 1156.4 583.1 1160 587.6 1163.5 587.9 1167 585.9 1170.6 580.2 1174.1 571.2 1177.7 561.7 1181.2 554.1 1184.8 548 1188.3 542.2 1191.8 535.3 1195.4 534 1198.9 540.3 1202.5 546.5 1206 545.2 1209.5 546.6 1213.1 559.8 1216.6 574.9 1220.2 589.3 1223.7 609.6 1227.2 631.5 1230.8 655.9 1234.3 682.6 1237.8 705.2 1241.4 727.4 1244.9 752.4 1248.4 775.6 1251.9 797 1255.5 815.7 1259 836.2 1262.5 860 1266 879.1 1269.5 895.8 1273.1 914.1 1276.6 931.3 1280.1 946.1 1283.6 960.7 1287.1 974.8 1290.6 987.5 1294.1 999.8 1297.7 1011.7 1301.2 1021.2 1304.7 1029.9 1308.2 1038.5 1311.7 1041.4 1315.2 1041.4 1318.7 1043.2 1322.2 1043.6 1325.6 1039.8 1329.1 1038.7 1332.6 1036.1 1336.1 1032.4 1339.6 1032.7 1343.1 1036.8 1346.5 1038.4 1350 1037.3 1353.5 1036.7 1357 1038.2 1360.4 1042.4 1363.9 1046.6 1367.4 1046.8 1370.8 1045.2 1374.3 1047.5 1377.8 1047.6 1381.2 1047.1 1384.7 1046.9 1388.1 1046.6 1391.6 1048 1395 1051.3 1398.4 1055.1 1401.9 1058.3 1405.3 1057.6 1408.7 1056.6 1412.2 1054.1 1415.6 1051.3 1419 1051.1 1422.4 1051.7 1425.9 1053.3 1429.3 1055.1 1432.7 1059.5 1436.1 1062.9 1439.5 1062.9 1442.9 1060.4 1446.3 1059.5 1449.7 1059.7 1453.1 1059.1 1456.5 1057.6 1459.8 1058.4 1463.2 1060.2 1466.6 1062.1 1470 1065.5 1473.3 1064.6 1476.7 1061.3 1480.1 1060 1483.4 1063.5 1486.8 1065.5 1490.1 1061.6 1493.5 1058.6 1496.8 1060.8 1500.1 1058.2 1503.5 1062.5 1506.8 1064.9 1510.1 1065 1513.5 1063.7 1516.8 1065.4 1520.1 1065.2 1523.4 1061.4 1526.7 1058.1 1530 1061.2 1533.3 1062.4 1536.6 1066.5 1539.9 1068.3 1543.2 1059.3 1546.4 1059.4 1549.7 1059.3 1553 1066.7 1556.3 1068 1559.5 1062.7 1562.8 1062.2 1566 1060.7 1569.3 1057.4 1572.5 1054.7 1575.7 1057.4 1579 1053 1582.2 1059.6 1585.4 1054.9 1588.6 1051.5 1591.9 1046.8 1595.1 1039 1598.3 1044.3 1601.5 1036.1 1604.7 1043.1 1607.8 1042.8 1611 1039.7 1614.2 1037.7 1617.4 1031.5 1620.5 1035.1 1623.7 1039.6 1626.9 1041.8 1630 1034.1 1633.2 1029.9 1636.3 1035.8 1639.4 1039.8 1642.6 1037.9 1645.7 1034.4 1648.8 1024.5 1651.9 1022.9 1655 1041.8 1658.1 1042.4 1661.2 1036.7 1664.3 1043.7 1667.4 1028.6 1670.5 1014.4 1673.5 1017.2 1676.6 1028.1 1679.7 1035.3 1682.7 1014.6 1685.8 1010.2 1688.8 1004.7 1691.8 1003.4 1694.9 1006.2 1697.9 1011.2 1700.9 1016.2 1703.9 1017.4 1706.9 1001.2 1709.9 1007.1 1712.9 995.5 1715.9 1000.1 1718.9 1018.4 1721.8 1022.1 1724.8 1025.7 1727.8 1022.7 1730.7 1011.6 1733.7 989.9 1736.6 1011.9 1739.6 1022.7 1742.5 990.5 1745.4 1005.2 1748.3 1001.4 1751.2 996.5 1754.1 1017.7 1757 1000 1759.9 1008.9 1762.8 1010.1 1765.7 1018.6 1768.5 999.1 1771.4 1016.9 1774.2 1014.7 1777.1 992.8 1779.9 991.1 1782.8 980.8 1785.6 978.1 1788.4 996 1791.2 981.7 1794 1009.3 1796.8 993.7 1799.6 976.8 1802.4 1014.4 1805.1 982.7 1807.9 1010.3 1810.7 1015.7 1813.4 994 1816.2 979.1 1818.9 1003.2 1821.6 1008 1824.4 1004.4 1827.1 1008.3 1829.8 995.3 1832.5 1014.1 1835.2 1011 1837.8 983.7 1840.5 1078.4 1843.2 988.9 1845.9 999.3 1848.5 1070.5 1851.2 1003.4 1853.8 1061.8 1856.4 984.9 1859 979.2 1861.7 1141.6 1864.3 1147.3 1866.9 976 1869.4 1067.5 1872 984.1 1874.6 1010.9"/>
<path stroke="#ff0000" stroke-width="4" d="M388 522.4l22.8 22.8M388 545.2l22.8 -22.8M390.6 545l22.8 22.8M390.6 567.8l22.8 -22.8M393.2 592.3l22.8 22.8M393.2 615.1l22.8 -22.8M395.7 547.6l22.8 22.8M395.7 570.4l22.8 -22.8M398.3 579.3l22.8 22.8M398.3 602.1l22.8 -22.8M400.9 564.6l22.8 22.8M400.9 587.4l22.8 -22.8M403.6 560.8l22.8 22.8M403.6 583.6l22.8 -22.8M406.2 536.5l22.8 22.8M406.2 559.3l22.8 -22.8M408.8 499l22.8 22.8M408.8 521.8l22.8 -22.8M411.4 594.1l22.8 22.8M411.4 616.9l22.8 -22.8M414.1 468l22.8 22.8M414.1 490.8l22.8 -22.8M416.7 505.7l22.8 22.8M416.7 528.5l22.8 -22.8M419.4 508l22.8 22.8M419.4 530.8l22.8 -22.8M422.1 556.8l22.8 22.8M422.1 579.6l22.8 -22.8M424.7 587.8l22.8 22.8M424.7 610.6l22.8 -22.8M427.4 582.1l22.8 22.8M427.4 604.9l22.8 -22.8M430.1 468.9l22.8 22.8M430.1 491.7l22.8 -22.8M432.8 539.6l22.8 22.8M432.8 562.4l22.8 -22.8M435.5 561.4l22.8 22.8M435.5 584.2l22.8 -22.8M438.2 540.8l22.8 22.8M438.2 563.6l22.8 -22.8M440.9 519.9l22.8 22.8M440.9 542.7l22.8 -22.8M443.7 512.3l22.8 22.8M443.7 535.1l22.8 -22.8M446.4 510.9l22.8 22.8M446.4 533.7l22.8 -22.8M449.1 501l22.8 22.8M449.1 523.8l22.8 -22.8M451.9 510l22.8 22.8M451.9 532.8l22.8 -22.8M454.6 519.9l22.8 22.8M454.6 542.7l22.8 -22.8M457.4 499l22.8 22.8M457.4 521.8l22.8 -22.8M460.2 492.4l22.8 22.8M460.2 515.2l22.8 -22.8M463 489.5l22.8 22.8M463 512.3l22.8 -22.8M465.8 498l22.8 22.8M465.8 520.8l22.8 -22.8M468.5 526.7l22.8 22.8M468.5 549.5l22.8 -22.8M471.3 539.5l22.8 22.8M471.3 562.3l22.8 -22.8M474.2 547.2l22.8 22.8M474.2 570l22.8 -22.8M477 543.2l22.8 22.8M477 566l22.8 -22.8M479.8 521l22.8 22.8M479.8 543.8l22.8 -22.8M482.6 498.4l22.8 22.8M482.6 521.2l22.8 -22.8M485.5 479.8l22.8 22.8M485.5 502.6l22.8 -22.8M488.3 483.5l22.8 22.8M488.3 506.3l22.8 -22.8M491.2 507.7l22.8 22.8M491.2 530.5l22.8 -22.8M494 497.9l22.8 22.8M494 520.7l22.8 -22.8M496.9 471.4l22.8 22.8M496.9 494.2l22.8 -22.8M499.8 470.4l22.8 22.8M499.8 493.2l22.8 -22.8M502.6 501l22.8 22.8M502.6 523.8l22.8 -22.8M505.5 529.2l22.8 22.8M505.5 552l22.8 -22.8M508.4 522l22.8 22.8M508.4 544.8l22.8 -22.8M511.3 498l22.8 22.8M511.3 520.8l22.8 -22.8M514.2 477.8l22.8 22.8M514.2 500.6l22.8 -22.8M517.1 476l22.8 22.8M517.1 498.8l22.8 -22.8M520 488.4l22.8 22.8M520 511.2l22.8 -22.8M523 499.1l22.8 22.8M523 521.9l22.8 -22.8M525.9 500.7l22.8 22.8M525.9 523.5l22.8 -22.8M528.8 500.5l22.8 22.8M528.8 523.3l22.8 -22.8M531.8 496.8l22.8 22.8M531.8 519.6l22.8 -22.8M534.7 492.6l22.8 22.8M534.7 515.4l22.8 -22.8M537.7 499.6l22.8 22.8M537.7 522.4l22.8 -22.8M540.7 516l22.8 22.8M540.7 538.8l22.8 -22.8M543.6 509.9l22.8 22.8M543.6 532.7l22.8 -22.8M546.6 503.1l22.8 22.8M546.6 525.9l22.8 -22.8M549.6 504.3l22.8 22.8M549.6 527.1l22.8 -22.8M552.6 500.7l22.8 22.8M552.6 523.5l22.8 -22.8M555.6 501.1l22.8 22.8M555.6 523.9l22.8 -22.8M558.6 496.3l22.8 22.8M558.6 519.1l22.8 -22.8M561.6 487.9l22.8 22.8M561.6 510.7l22.8 -22.8M564.6 443.2l22.8 22.8M564.6 466l22.8 -22.8M567.6 476.2l22.8 22.8M567.6 499l22.8 -22.8M570.7 463.8l22.8 22.8M570.7 486.6l22.8 -22.8M573.7 464.6l22.8 22.8M573.7 487.4l22.8 -22.8M576.7 470.5l22.8 22.8M576.7 493.3l22.8 -22.8M579.8 479.5l22.8 22.8M579.8 502.3l22.8 -22.8M582.8 492.2l22.8 22.8M582.8 515l22.8 -22.8M585.9 493.7l22.8 22.8M585.9 516.5l22.8 -22.8M589 488.8l22.8 22.8M589 511.6l22.8 -22.8M592 502.3l22.8 22.8M592 525.1l22.8 -22.8M595.1 518.5l22.8 22.8M595.1 541.3l22.8 -22.8M598.2 519.4l22.8 22.8M598.2 542.2l22.8 -22.8M601.3 511.1l22.8 22.8M601.3 533.9l22.8 -22.8M604.4 507.4l22.8 22.8M604.4 530.2l22.8 -22.8M607.5 507.3l22.8 22.8M607.5 530.1l22.8 -22.8M610.6 508.1l22.8 22.8M610.6 530.9l22.8 -22.8M613.7 507.9l22.8 22.8M613.7 530.7l22.8 -22.8M616.8 508.1l22.8 22.8M616.8 530.9l22.8 -22.8M619.9 508.1l22.8 22.8M619.9 530.9l22.8 -22.8M623.1 502.7l22.8 22.8M623.1 525.5l22.8 -22.8M626.2 497.2l22.8 22.8M626.2 520l22.8 -22.8M629.3 500l22.8 22.8M629.3 522.8l22.8 -22.8M632.5 507.6l22.8 22.8M632.5 530.4l22.8 -22.8M635.6 507.9l22.8 22.8M635.6 530.7l22.8 -22.8M638.8 504.5l22.8 22.8M638.8 527.3l22.8 -22.8M641.9 496.5l22.8 22.8M641.9 519.3l22.8 -22.8M645.1 490.1l22.8 22.8M645.1 512.9l22.8 -22.8M648.3 490.8l22.8 22.8M648.3 513.6l22.8 -22.8M651.4 492.8l22.8 22.8M651.4 515.6l22.8 -22.8M654.6 487.7l22.8 22.8M654.6 510.5l22.8 -22.8M657.8 482.5l22.8 22.8M657.8 505.3l22.8 -22.8M661 480l22.8 22.8M661 502.8l22.8 -22.8M664.2 477.4l22.8 22.8M664.2 500.2l22.8 -22.8M667.4 477.4l22.8 22.8M667.4 500.2l22.8 -22.8M670.6 473.7l22.8 22.8M670.6 496.5l22.8 -22.8M673.8 472.7l22.8 22.8M673.8 495.5l22.8 -22.8M677 478l22.8 22.8M677 500.8l22.8 -22.8M680.3 477.8l22.8 22.8M680.3 500.6l22.8 -22.8M683.5 471.7l22.8 22.8M683.5 494.5l22.8 -22.8M686.7 469.6l22.8 22.8M686.7 492.4l22.8 -22.8M690 474.7l22.8 22.8M690 497.5l22.8 -22.8M693.2 475.3l22.8 22.8M693.2 498.1l22.8 -22.8M696.4 475l22.8 22.8M696.4 497.8l22.8 -22.8M699.7 477.4l22.8 22.8M699.7 500.2l22.8 -22.8M702.9 479.3l22.8 22.8M702.9 502.1l22.8 -22.8M706.2 479.7l22.8 22.8M706.2 502.5l22.8 -22.8M709.5 480.3l22.8 22.8M709.5 503.1l22.8 -22.8M712.7 480l22.8 22.8M712.7 502.8l22.8 -22.8M716 478.5l22.8 22.8M716 501.3l22.8 -22.8M719.3 481.6l22.8 22.8M719.3 504.4l22.8 -22.8M722.6 484l22.8 22.8M722.6 506.8l22.8 -22.8M725.9 484.6l22.8 22.8M725.9 507.4l22.8 -22.8M729.2 484.7l22.8 22.8M729.2 507.5l22.8 -22.8M732.4 485.6l22.8 22.8M732.4 508.4l22.8 -22.8M735.7 487.3l22.8 22.8M735.7 510.1l22.8 -22.8M739.1 486.2l22.8 22.8M739.1 509l22.8 -22.8M742.4 483.4l22.8 22.8M742.4 506.2l22.8 -22.8M745.7 485.1l22.8 22.8M745.7 507.9l22.8 -22.8M749 488.2l22.8 22.8M749 511l22.8 -22.8M752.3 489.5l22.8 22.8M752.3 512.3l22.8 -22.8M755.6 491.3l22.8 22.8M755.6 514.1l22.8 -22.8M759 492.6l22.8 22.8M759 515.4l22.8 -22.8M762.3 494.4l22.8 22.8M762.3 517.2l22.8 -22.8M765.6 493.7l22.8 22.8M765.6 516.5l22.8 -22.8M769 489l22.8 22.8M769 511.8l22.8 -22.8M772.3 482.9l22.8 22.8M772.3 505.7l22.8 -22.8M775.7 480l22.8 22.8M775.7 502.8l22.8 -22.8M779 478.2l22.8 22.8M779 501l22.8 -22.8M782.4 476.2l22.8 22.8M782.4 499l22.8 -22.8M785.7 473.5l22.8 22.8M785.7 496.3l22.8 -22.8M789.1 470.3l22.8 22.8M789.1 493.1l22.8 -22.8M792.5 467.9l22.8 22.8M792.5 490.7l22.8 -22.8M795.8 467.8l22.8 22.8M795.8 490.6l22.8 -22.8M799.2 468.1l22.8 22.8M799.2 490.9l22.8 -22.8M802.6 464.2l22.8 22.8M802.6 487l22.8 -22.8M806 456.9l22.8 22.8M806 479.7l22.8 -22.8M809.4 453.2l22.8 22.8M809.4 476l22.8 -22.8M812.8 454.9l22.8 22.8M812.8 477.7l22.8 -22.8M816.1 455.7l22.8 22.8M816.1 478.5l22.8 -22.8M819.5 451.3l22.8 22.8M819.5 474.1l22.8 -22.8M822.9 449.9l22.8 22.8M822.9 472.7l22.8 -22.8M826.3 450.8l22.8 22.8M826.3 473.6l22.8 -22.8M829.8 450.7l22.8 22.8M829.8 473.5l22.8 -22.8M833.2 448.3l22.8 22.8M833.2 471.1l22.8 -22.8M836.6 443.8l22.8 22.8M836.6 466.6l22.8 -22.8M840 444.4l22.8 22.8M840 467.2l22.8 -22.8M843.4 449.3l22.8 22.8M843.4 472.1l22.8 -22.8M846.8 449.9l22.8 22.8M846.8 472.7l22.8 -22.8M850.3 447.7l22.8 22.8M850.3 470.5l22.8 -22.8M853.7 448.8l22.8 22.8M853.7 471.6l22.8 -22.8M857.1 452.1l22.8 22.8M857.1 474.9l22.8 -22.8M860.6 448.3l22.8 22.8M860.6 471.1l22.8 -22.8M864 445.8l22.8 22.8M864 468.6l22.8 -22.8M867.4 448.6l22.8 22.8M867.4 471.4l22.8 -22.8M870.9 449.2l22.8 22.8M870.9 472l22.8 -22.8M874.3 447.8l22.8 22.8M874.3 470.6l22.8 -22.8M877.8 450.5l22.8 22.8M877.8 473.3l22.8 -22.8M881.2 455.3l22.8 22.8M881.2 478.1l22.8 -22.8M884.7 457.1l22.8 22.8M884.7 479.9l22.8 -22.8M888.1 456.9l22.8 22.8M888.1 479.7l22.8 -22.8M891.6 455.6l22.8 22.8M891.6 478.4l22.8 -22.8M895 452.6l22.8 22.8M895 475.4l22.8 -22.8M898.5 450.5l22.8 22.8M898.5 473.3l22.8 -22.8M902 447.6l22.8 22.8M902 470.4l22.8 -22.8M905.4 443.1l22.8 22.8M905.4 465.9l22.8 -22.8M908.9 440.3l22.8 22.8M908.9 463.1l22.8 -22.8M912.4 442.4l22.8 22.8M912.4 465.2l22.8 -22.8M915.9 442.1l22.8 22.8M915.9 464.9l22.8 -22.8M919.3 434l22.8 22.8M919.3 456.8l22.8 -22.8M922.8 426.2l22.8 22.8M922.8 449l22.8 -22.8M926.3 420l22.8 22.8M926.3 442.8l22.8 -22.8M929.8 415.8l22.8 22.8M929.8 438.6l22.8 -22.8M933.3 410.5l22.8 22.8M933.3 433.3l22.8 -22.8M936.8 405.1l22.8 22.8M936.8 427.9l22.8 -22.8M940.3 399.9l22.8 22.8M940.3 422.7l22.8 -22.8M943.8 397.3l22.8 22.8M943.8 420.1l22.8 -22.8M947.3 399.9l22.8 22.8M947.3 422.7l22.8 -22.8M950.7 403.1l22.8 22.8M950.7 425.9l22.8 -22.8M954.2 407.6l22.8 22.8M954.2 430.4l22.8 -22.8M957.7 415.8l22.8 22.8M957.7 438.6l22.8 -22.8M961.3 423.7l22.8 22.8M961.3 446.5l22.8 -22.8M964.8 430.2l22.8 22.8M964.8 453l22.8 -22.8M968.3 437.5l22.8 22.8M968.3 460.3l22.8 -22.8M971.8 444.7l22.8 22.8M971.8 467.5l22.8 -22.8M975.3 447.8l22.8 22.8M975.3 470.6l22.8 -22.8M978.8 448.5l22.8 22.8M978.8 471.3l22.8 -22.8M982.3 450.4l22.8 22.8M982.3 473.2l22.8 -22.8M985.8 454.3l22.8 22.8M985.8 477.1l22.8 -22.8M989.3 459.7l22.8 22.8M989.3 482.5l22.8 -22.8M992.9 464.4l22.8 22.8M992.9 487.2l22.8 -22.8M996.4 467.1l22.8 22.8M996.4 489.9l22.8 -22.8M999.9 471.1l22.8 22.8M999.9 493.9l22.8 -22.8M1003.4 476.6l22.8 22.8M1003.4 499.4l22.8 -22.8M1006.9 484.3l22.8 22.8M1006.9 507.1l22.8 -22.8M1010.5 487.3l22.8 22.8M1010.5 510.1l22.8 -22.8M1014 487.3l22.8 22.8M1014 510.1l22.8 -22.8M1017.5 489.5l22.8 22.8M1017.5 512.3l22.8 -22.8M1021.1 491.4l22.8 22.8M1021.1 514.2l22.8 -22.8M1024.6 486.4l22.8 22.8M1024.6 509.2l22.8 -22.8M1028.1 481.7l22.8 22.8M1028.1 504.5l22.8 -22.8M1031.6 480.9l22.8 22.8M1031.6 503.7l22.8 -22.8M1035.2 479.8l22.8 22.8M1035.2 502.6l22.8 -22.8M1038.7 476.5l22.8 22.8M1038.7 499.3l22.8 -22.8M1042.2 474.6l22.8 22.8M1042.2 497.4l22.8 -22.8M1045.8 471.2l22.8 22.8M1045.8 494l22.8 -22.8M1049.3 468.3l22.8 22.8M1049.3 491.1l22.8 -22.8M1052.9 465.3l22.8 22.8M1052.9 488.1l22.8 -22.8M1056.4 461.2l22.8 22.8M1056.4 484l22.8 -22.8M1059.9 455.4l22.8 22.8M1059.9 478.2l22.8 -22.8M1063.5 448.2l22.8 22.8M1063.5 471l22.8 -22.8M1067 442.8l22.8 22.8M1067 465.6l22.8 -22.8M1070.6 439.2l22.8 22.8M1070.6 462l22.8 -22.8M1074.1 437.2l22.8 22.8M1074.1 460l22.8 -22.8M1077.6 435.9l22.8 22.8M1077.6 458.7l22.8 -22.8M1081.2 433.5l22.8 22.8M1081.2 456.3l22.8 -22.8M1084.7 432.3l22.8 22.8M1084.7 455.1l22.8 -22.8M1088.3 435.6l22.8 22.8M1088.3 458.4l22.8 -22.8M1091.8 438.6l22.8 22.8M1091.8 461.4l22.8 -22.8M1095.4 440.9l22.8 22.8M1095.4 463.7l22.8 -22.8M1098.9 444.6l22.8 22.8M1098.9 467.4l22.8 -22.8M1102.5 446.8l22.8 22.8M1102.5 469.6l22.8 -22.8M1106 450.8l22.8 22.8M1106 473.6l22.8 -22.8M1109.5 458.1l22.8 22.8M1109.5 480.9l22.8 -22.8M1113.1 464.5l22.8 22.8M1113.1 487.3l22.8 -22.8M1116.6 471.1l22.8 22.8M1116.6 493.9l22.8 -22.8M1120.2 481.2l22.8 22.8M1120.2 504l22.8 -22.8M1123.7 492.8l22.8 22.8M1123.7 515.6l22.8 -22.8M1127.3 506.3l22.8 22.8M1127.3 529.1l22.8 -22.8M1130.8 523.7l22.8 22.8M1130.8 546.5l22.8 -22.8M1134.4 539l22.8 22.8M1134.4 561.8l22.8 -22.8M1137.9 549.3l22.8 22.8M1137.9 572.1l22.8 -22.8M1141.5 560.2l22.8 22.8M1141.5 583l22.8 -22.8M1145 571.7l22.8 22.8M1145 594.5l22.8 -22.8M1148.6 576.2l22.8 22.8M1148.6 599l22.8 -22.8M1152.1 576.5l22.8 22.8M1152.1 599.3l22.8 -22.8M1155.6 574.5l22.8 22.8M1155.6 597.3l22.8 -22.8M1159.2 568.8l22.8 22.8M1159.2 591.6l22.8 -22.8M1162.7 559.8l22.8 22.8M1162.7 582.6l22.8 -22.8M1166.3 550.3l22.8 22.8M1166.3 573.1l22.8 -22.8M1169.8 542.7l22.8 22.8M1169.8 565.5l22.8 -22.8M1173.4 536.6l22.8 22.8M1173.4 559.4l22.8 -22.8M1176.9 530.8l22.8 22.8M1176.9 553.6l22.8 -22.8M1180.4 523.9l22.8 22.8M1180.4 546.7l22.8 -22.8M1184 522.6l22.8 22.8M1184 545.4l22.8 -22.8M1187.5 528.9l22.8 22.8M1187.5 551.7l22.8 -22.8M1191.1 535.1l22.8 22.8M1191.1 557.9l22.8 -22.8M1194.6 533.8l22.8 22.8M1194.6 556.6l22.8 -22.8M1198.1 535.2l22.8 22.8M1198.1 558l22.8 -22.8M1201.7 548.4l22.8 22.8M1201.7 571.2l22.8 -22.8M1205.2 563.5l22.8 22.8M1205.2 586.3l22.8 -22.8M1208.8 577.9l22.8 22.8M1208.8 600.7l22.8 -22.8M1212.3 598.2l22.8 22.8M1212.3 621l22.8 -22.8M1215.8 620.1l22.8 22.8M1215.8 642.9l22.8 -22.8M1219.4 644.5l22.8 22.8M1219.4 667.3l22.8 -22.8M1222.9 671.2l22.8 22.8M1222.9 694l22.8 -22.8M1226.4 693.8l22.8 22.8M1226.4 716.6l22.8 -22.8M1230 716l22.8 22.8M1230 738.8l22.8 -22.8M1233.5 741l22.8 22.8M1233.5 763.8l22.8 -22.8M1237 764.2l22.8 22.8M1237 787l22.8 -22.8M1240.5 785.6l22.8 22.8M1240.5 808.4l22.8 -22.8M1244.1 804.3l22.8 22.8M1244.1 827.1l22.8 -22.8M1247.6 824.8l22.8 22.8M1247.6 847.6l22.8 -22.8M1251.1 848.6l22.8 22.8M1251.1 871.4l22.8 -22.8M1254.6 867.7l22.8 22.8M1254.6 890.5l22.8 -22.8M1258.1 884.4l22.8 22.8M1258.1 907.2l22.8 -22.8M1261.7 902.7l22.8 22.8M1261.7 925.5l22.8 -22.8M1265.2 919.9l22.8 22.8M1265.2 942.7l22.8 -22.8M1268.7 934.7l22.8 22.8M1268.7 957.5l22.8 -22.8M1272.2 949.3l22.8 22.8M1272.2 972.1l22.8 -22.8M1275.7 963.4l22.8 22.8M1275.7 986.2l22.8 -22.8M1279.2 976.1l22.8 22.8M1279.2 998.9l22.8 -22.8M1282.7 988.4l22.8 22.8M1282.7 1011.2l22.8 -22.8M1286.3 1000.3l22.8 22.8M1286.3 1023.1l22.8 -22.8M1289.8 1009.8l22.8 22.8M1289.8 1032.6l22.8 -22.8M1293.3 1018.5l22.8 22.8M1293.3 1041.3l22.8 -22.8M1296.8 1027.1l22.8 22.8M1296.8 1049.9l22.8 -22.8M1300.3 1030l22.8 22.8M1300.3 1052.8l22.8 -22.8M1303.8 1030l22.8 22.8M1303.8 1052.8l22.8 -22.8M1307.3 1031.8l22.8 22.8M1307.3 1054.6l22.8 -22.8M1310.8 1032.2l22.8 22.8M1310.8 1055l22.8 -22.8M1314.2 1028.4l22.8 22.8M1314.2 1051.2l22.8 -22.8M1317.7 1027.3l22.8 22.8M1317.7 1050.1l22.8 -22.8M1321.2 1024.7l22.8 22.8M1321.2 1047.5l22.8 -22.8M1324.7 1021l22.8 22.8M1324.7 1043.8l22.8 -22.8M1328.2 1021.3l22.8 22.8M1328.2 1044.1l22.8 -22.8M1331.7 1025.4l22.8 22.8M1331.7 1048.2l22.8 -22.8M1335.1 1027l22.8 22.8M1335.1 1049.8l22.8 -22.8M1338.6 1025.9l22.8 22.8M1338.6 1048.7l22.8 -22.8M1342.1 1025.3l22.8 22.8M1342.1 1048.1l22.8 -22.8M1345.6 1026.8l22.8 22.8M1345.6 1049.6l22.8 -22.8M1349 1031l22.8 22.8M1349 1053.8l22.8 -22.8M1352.5 1035.2l22.8 22.8M1352.5 1058l22.8 -22.8M1356 1035.4l22.8 22.8M1356 1058.2l22.8 -22.8M1359.4 1033.8l22.8 22.8M1359.4 1056.6l22.8 -22.8M1362.9 1036.1l22.8 22.8M1362.9 1058.9l22.8 -22.8M1366.4 1036.2l22.8 22.8M1366.4 1059l22.8 -22.8M1369.8 1035.7l22.8 22.8M1369.8 1058.5l22.8 -22.8M1373.3 1035.5l22.8 22.8M1373.3 1058.3l22.8 -22.8M1376.7 1035.2l22.8 22.8M1376.7 1058l22.8 -22.8M1380.2 1036.6l22.8 22.8M1380.2 1059.4l22.8 -22.8M1383.6 1039.9l22.8 22.8M1383.6 1062.7l22.8 -22.8M1387 1043.7l22.8 22.8M1387 1066.5l22.8 -22.8M1390.5 1046.9l22.8 22.8M1390.5 1069.7l22.8 -22.8M1393.9 1046.2l22.8 22.8M1393.9 1069l22.8 -22.8M1397.3 1045.2l22.8 22.8M1397.3 1068l22.8 -22.8M1400.8 1042.7l22.8 22.8M1400.8 1065.5l22.8 -22.8M1404.2 1039.9l22.8 22.8M1404.2 1062.7l22.8 -22.8M1407.6 1039.7l22.8 22.8M1407.6 1062.5l22.8 -22.8M1411 1040.3l22.8 22.8M1411 1063.1l22.8 -22.8M1414.5 1041.9l22.8 22.8M1414.5 1064.7l22.8 -22.8M1417.9 1043.7l22.8 22.8M1417.9 1066.5l22.8 -22.8M1421.3 1048.1l22.8 22.8M1421.3 1070.9l22.8 -22.8M1424.7 1051.5l22.8 22.8M1424.7 1074.3l22.8 -22.8M1428.1 1051.5l22.8 22.8M1428.1 1074.3l22.8 -22.8M1431.5 1049l22.8 22.8M1431.5 1071.8l22.8 -22.8M1434.9 1048.1l22.8 22.8M1434.9 1070.9l22.8 -22.8M1438.3 1048.3l22.8 22.8M1438.3 1071.1l22.8 -22.8M1441.7 1047.7l22.8 22.8M1441.7 1070.5l22.8 -22.8M1445.1 1046.2l22.8 22.8M1445.1 1069l22.8 -22.8M1448.4 1047l22.8 22.8M1448.4 1069.8l22.8 -22.8M1451.8 1048.8l22.8 22.8M1451.8 1071.6l22.8 -22.8M1455.2 1050.7l22.8 22.8M1455.2 1073.5l22.8 -22.8M1458.6 1054.1l22.8 22.8M1458.6 1076.9l22.8 -22.8M1461.9 1053.2l22.8 22.8M1461.9 1076l22.8 -22.8M1465.3 1049.9l22.8 22.8M1465.3 1072.7l22.8 -22.8M1468.7 1048.6l22.8 22.8M1468.7 1071.4l22.8 -22.8M1472 1052.1l22.8 22.8M1472 1074.9l22.8 -22.8M1475.4 1054.1l22.8 22.8M1475.4 1076.9l22.8 -22.8M1478.7 1050.2l22.8 22.8M1478.7 1073l22.8 -22.8M1482.1 1047.2l22.8 22.8M1482.1 1070l22.8 -22.8M1485.4 1049.4l22.8 22.8M1485.4 1072.2l22.8 -22.8M1488.7 1046.8l22.8 22.8M1488.7 1069.6l22.8 -22.8M1492.1 1051.1l22.8 22.8M1492.1 1073.9l22.8 -22.8M1495.4 1053.5l22.8 22.8M1495.4 1076.3l22.8 -22.8M1498.7 1053.6l22.8 22.8M1498.7 1076.4l22.8 -22.8M1502.1 1052.3l22.8 22.8M1502.1 1075.1l22.8 -22.8M1505.4 1054l22.8 22.8M1505.4 1076.8l22.8 -22.8M1508.7 1053.8l22.8 22.8M1508.7 1076.6l22.8 -22.8M1512 1050l22.8 22.8M1512 1072.8l22.8 -22.8M1515.3 1046.7l22.8 22.8M1515.3 1069.5l22.8 -22.8M1518.6 1049.8l22.8 22.8M1518.6 1072.6l22.8 -22.8M1521.9 1051l22.8 22.8M1521.9 1073.8l22.8 -22.8M1525.2 1055.1l22.8 22.8M1525.2 1077.9l22.8 -22.8M1528.5 1056.9l22.8 22.8M1528.5 1079.7l22.8 -22.8M1531.8 1047.9l22.8 22.8M1531.8 1070.7l22.8 -22.8M1535 1048l22.8 22.8M1535 1070.8l22.8 -22.8M1538.3 1047.9l22.8 22.8M1538.3 1070.7l22.8 -22.8M1541.6 1055.3l22.8 22.8M1541.6 1078.1l22.8 -22.8M1544.9 1056.6l22.8 22.8M1544.9 1079.4l22.8 -22.8M1548.1 1051.3l22.8 22.8M1548.1 1074.1l22.8 -22.8M1551.4 1050.8l22.8 22.8M1551.4 1073.6l22.8 -22.8M1554.6 1049.3l22.8 22.8M1554.6 1072.1l22.8 -22.8M1557.9 1046l22.8 22.8M1557.9 1068.8l22.8 -22.8M1561.1 1043.3l22.8 22.8M1561.1 1066.1l22.8 -22.8M1564.3 1046l22.8 22.8M1564.3 1068.8l22.8 -22.8M1567.6 1041.6l22.8 22.8M1567.6 1064.4l22.8 -22.8M1570.8 1048.2l22.8 22.8M1570.8 1071l22.8 -22.8M1574 1043.5l22.8 22.8M1574 1066.3l22.8 -22.8M1577.2 1040.1l22.8 22.8M1577.2 1062.9l22.8 -22.8M1580.5 1035.4l22.8 22.8M1580.5 1058.2l22.8 -22.8M1583.7 1027.6l22.8 22.8M1583.7 1050.4l22.8 -22.8M1586.9 1032.9l22.8 22.8M1586.9 1055.7l22.8 -22.8M1590.1 1024.7l22.8 22.8M1590.1 1047.5l22.8 -22.8M1593.3 1031.7l22.8 22.8M1593.3 1054.5l22.8 -22.8M1596.4 1031.4l22.8 22.8M1596.4 1054.2l22.8 -22.8M1599.6 1028.3l22.8 22.8M1599.6 1051.1l22.8 -22.8M1602.8 1026.3l22.8 22.8M1602.8 1049.1l22.8 -22.8M1606 1020.1l22.8 22.8M1606 1042.9l22.8 -22.8M1609.1 1023.7l22.8 22.8M1609.1 1046.5l22.8 -22.8M1612.3 1028.2l22.8 22.8M1612.3 1051l22.8 -22.8M1615.5 1030.4l22.8 22.8M1615.5 1053.2l22.8 -22.8M1618.6 1022.7l22.8 22.8M1618.6 1045.5l22.8 -22.8M1621.8 1018.5l22.8 22.8M1621.8 1041.3l22.8 -22.8M1624.9 1024.4l22.8 22.8M1624.9 1047.2l22.8 -22.8M1628 1028.4l22.8 22.8M1628 1051.2l22.8 -22.8M1631.2 1026.5l22.8 22.8M1631.2 1049.3l22.8 -22.8M1634.3 1023l22.8 22.8M1634.3 1045.8l22.8 -22.8M1637.4 1013.1l22.8 22.8M1637.4 1035.9l22.8 -22.8M1640.5 1011.5l22.8 22.8M1640.5 1034.3l22.8 -22.8M1643.6 1030.4l22.8 22.8M1643.6 1053.2l22.8 -22.8M1646.7 1031l22.8 22.8M1646.7 1053.8l22.8 -22.8M1649.8 1025.3l22.8 22.8M1649.8 1048.1l22.8 -22.8M1652.9 1032.3l22.8 22.8M1652.9 1055.1l22.8 -22.8M1656 1017.2l22.8 22.8M1656 1040l22.8 -22.8M1659.1 1003l22.8 22.8M1659.1 1025.8l22.8 -22.8M1662.1 1005.8l22.8 22.8M1662.1 1028.6l22.8 -22.8M1665.2 1016.7l22.8 22.8M1665.2 1039.5l22.8 -22.8M1668.3 1023.9l22.8 22.8M1668.3 1046.7l22.8 -22.8M1671.3 1003.2l22.8 22.8M1671.3 1026l22.8 -22.8M1674.4 998.8l22.8 22.8M1674.4 1021.6l22.8 -22.8M1677.4 993.3l22.8 22.8M1677.4 1016.1l22.8 -22.8M1680.4 992l22.8 22.8M1680.4 1014.8l22.8 -22.8M1683.5 994.8l22.8 22.8M1683.5 1017.6l22.8 -22.8M1686.5 999.8l22.8 22.8M1686.5 1022.6l22.8 -22.8M1689.5 1004.8l22.8 22.8M1689.5 1027.6l22.8 -22.8M1692.5 1006l22.8 22.8M1692.5 1028.8l22.8 -22.8M1695.5 989.8l22.8 22.8M1695.5 1012.6l22.8 -22.8M1698.5 995.7l22.8 22.8M1698.5 1018.5l22.8 -22.8M1701.5 984.1l22.8 22.8M1701.5 1006.9l22.8 -22.8M1704.5 988.7l22.8 22.8M1704.5 1011.5l22.8 -22.8M1707.5 1007l22.8 22.8M1707.5 1029.8l22.8 -22.8M1710.4 1010.7l22.8 22.8M1710.4 1033.5l22.8 -22.8M1713.4 1014.3l22.8 22.8M1713.4 1037.1l22.8 -22.8M1716.4 1011.3l22.8 22.8M1716.4 1034.1l22.8 -22.8M1719.3 1000.2l22.8 22.8M1719.3 1023l22.8 -22.8M1722.3 978.5l22.8 22.8M1722.3 1001.3l22.8 -22.8M1725.2 1000.5l22.8 22.8M1725.2 1023.3l22.8 -22.8M1728.2 1011.3l22.8 22.8M1728.2 1034.1l22.8 -22.8M1731.1 979.1l22.8 22.8M1731.1 1001.9l22.8 -22.8M1734 993.8l22.8 22.8M1734 1016.6l22.8 -22.8M1736.9 990l22.8 22.8M1736.9 1012.8l22.8 -22.8M1739.8 985.1l22.8 22.8M1739.8 1007.9l22.8 -22.8M1742.7 1006.3l22.8 22.8M1742.7 1029.1l22.8 -22.8M1745.6 988.6l22.8 22.8M1745.6 1011.4l22.8 -22.8M1748.5 997.5l22.8 22.8M1748.5 1020.3l22.8 -22.8M1751.4 998.7l22.8 22.8M1751.4 1021.5l22.8 -22.8M1754.3 1007.2l22.8 22.8M1754.3 1030l22.8 -22.8M1757.1 987.7l22.8 22.8M1757.1 1010.5l22.8 -22.8M1760 1005.5l22.8 22.8M1760 1028.3l22.8 -22.8M1762.8 1003.3l22.8 22.8M1762.8 1026.1l22.8 -22.8M1765.7 981.4l22.8 22.8M1765.7 1004.2l22.8 -22.8M1768.5 979.7l22.8 22.8M1768.5 1002.5l22.8 -22.8M1771.4 969.4l22.8 22.8M1771.4 992.2l22.8 -22.8M1774.2 966.7l22.8 22.8M1774.2 989.5l22.8 -22.8M1777 984.6l22.8 22.8M1777 1007.4l22.8 -22.8M1779.8 970.3l22.8 22.8M1779.8 993.1l22.8 -22.8M1782.6 997.9l22.8 22.8M1782.6 1020.7l22.8 -22.8M1785.4 982.3l22.8 22.8M1785.4 1005.1l22.8 -22.8M1788.2 965.4l22.8 22.8M1788.2 988.2l22.8 -22.8M1791 1003l22.8 22.8M1791 1025.8l22.8 -22.8M1793.7 971.3l22.8 22.8M1793.7 994.1l22.8 -22.8M1796.5 998.9l22.8 22.8M1796.5 1021.7l22.8 -22.8M1799.3 1004.3l22.8 22.8M1799.3 1027.1l22.8 -22.8M1802 982.6l22.8 22.8M1802 1005.4l22.8 -22.8M1804.8 967.7l22.8 22.8M1804.8 990.5l22.8 -22.8M1807.5 991.8l22.8 22.8M1807.5 1014.6l22.8 -22.8M1810.2 996.6l22.8 22.8M1810.2 1019.4l22.8 -22.8M1813 993l22.8 22.8M1813 1015.8l22.8 -22.8M1815.7 996.9l22.8 22.8M1815.7 1019.7l22.8 -22.8M1818.4 983.9l22.8 22.8M1818.4 1006.7l22.8 -22.8M1821.1 1002.7l22.8 22.8M1821.1 1025.5l22.8 -22.8M1823.8 999.6l22.8 22.8M1823.8 1022.4l22.8 -22.8M1826.4 972.3l22.8 22.8M1826.4 995.1l22.8 -22.8M1829.1 1067l22.8 22.8M1829.1 1089.8l22.8 -22.8M1831.8 977.5l22.8 22.8M1831.8 1000.3l22.8 -22.8M1834.5 987.9l22.8 22.8M1834.5 1010.7l22.8 -22.8M1837.1 1059.1l22.8 22.8M1837.1 1081.9l22.8 -22.8M1839.8 992l22.8 22.8M1839.8 1014.8l22.8 -22.8M1842.4 1050.4l22.8 22.8M1842.4 1073.2l22.8 -22.8M1845 973.5l22.8 22.8M1845 996.3l22.8 -22.8M1847.6 967.8l22.8 22.8M1847.6 990.6l22.8 -22.8M1850.3 1130.2l22.8 22.8M1850.3 1153l22.8 -22.8M1852.9 1135.9l22.8 22.8M1852.9 1158.7l22.8 -22.8M1855.5 964.6l22.8 22.8M1855.5 987.4l22.8 -22.8M1858 1056.1l22.8 22.8M1858 1078.9l22.8 -22.8M1860.6 972.7l22.8 22.8M1860.6 995.5l22.8 -22.8M1863.2 999.5l22.8 22.8M1863.2 1022.3l22.8 -22.8"/>
<path stroke="#00ff00" stroke-width="4" d="M399.4 545.7 402 545.4 404.6 545.2 407.1 544.9 409.7 544.6 412.3 544.3 415 544 417.6 543.6 420.2 543.2 422.8 542.8 425.5 542.3 428.1 541.8 430.8 541.2 433.5 540.5 436.1 539.8 438.8 539 441.5 538.2 444.2 537.3 446.9 536.5 449.6 535.7 452.3 534.8 455.1 534.1 457.8 533.4 460.5 532.9 463.3 532.4 466 532.1 468.8 531.9 471.6 531.8 474.4 531.8 477.2 531.9 479.9 532 482.7 532.1 485.6 532.2 488.4 532.3 491.2 532.3 494 532.1 496.9 531.9 499.7 531.4 502.6 530.7 505.4 529.8 508.3 528.6 511.2 527.3 514 525.8 516.9 524.2 519.8 522.5 522.7 520.8 525.6 519 528.5 517.1 531.4 515.2 534.4 513.2 537.3 511.2 540.2 509.1 543.2 506.9 546.1 504.7 549.1 502.4 552.1 500.1 555 497.8 558 495.5 561 493.3 564 491.2 567 489.2 570 487.5 573 486.1 576 485.2 579 484.8 582.1 485 585.1 485.9 588.1 487.5 591.2 489.6 594.2 492.3 597.3 495.4 600.4 498.7 603.4 502 606.5 505.2 609.6 508.1 612.7 510.6 615.8 512.6 618.9 514.2 622 515.3 625.1 516 628.2 516.4 631.3 516.6 634.5 516.6 637.6 516.6 640.7 516.5 643.9 516.3 647 516.2 650.2 516 653.3 515.8 656.5 515.5 659.7 515.3 662.8 514.9 666 514.5 669.2 514.1 672.4 513.6 675.6 513.1 678.8 512.6 682 512 685.2 511.5 688.4 511.1 691.7 510.7 694.9 510.5 698.1 510.3 701.4 510.3 704.6 510.4 707.8 510.7 711.1 511 714.3 511.5 717.6 512 720.9 512.5 724.1 513 727.4 513.5 730.7 513.8 734 514.1 737.3 514.2 740.6 514.1 743.8 514 747.1 513.7 750.5 513.3 753.8 512.7 757.1 511.8 760.4 510.7 763.7 509.3 767 507.6 770.4 505.5 773.7 503.1 777 500.2 780.4 497.1 783.7 493.8 787.1 490.2 790.4 486.5 793.8 482.7 797.1 478.9 800.5 475.2 803.9 471.6 807.2 468.1 810.6 464.8 814 461.7 817.4 458.9 820.8 456.4 824.2 454.1 827.5 452.1 830.9 450.4 834.3 449 837.7 447.8 841.2 446.8 844.6 446.1 848 445.7 851.4 445.3 854.8 445.2 858.2 445.2 861.7 445.2 865.1 445.4 868.5 445.6 872 445.8 875.4 446 878.8 446.3 882.3 446.5 885.7 446.7 889.2 446.8 892.6 446.8 896.1 446.8 899.5 446.7 903 446.5 906.4 446.2 909.9 445.8 913.4 445.2 916.8 444.4 920.3 443.3 923.8 441.9 927.3 440.1 930.7 438 934.2 435.5 937.7 432.9 941.2 430.2 944.7 427.7 948.2 425.5 951.7 423.8 955.2 422.9 958.7 422.7 962.1 423.4 965.6 424.7 969.1 426.7 972.7 429.2 976.2 432.2 979.7 435.5 983.2 439 986.7 442.6 990.2 446.3 993.7 450.1 997.2 453.8 1000.7 457.4 1004.3 460.9 1007.8 464.2 1011.3 467.3 1014.8 470.2 1018.3 472.9 1021.9 475.3 1025.4 477.4 1028.9 479.1 1032.5 480.6 1036 481.6 1039.5 482.3 1043 482.6 1046.6 482.4 1050.1 481.8 1053.6 480.8 1057.2 479.3 1060.7 477.5 1064.3 475.3 1067.8 473 1071.3 470.6 1074.9 468.3 1078.4 466.2 1082 464.3 1085.5 462.9 1089 461.9 1092.6 461.3 1096.1 461.3 1099.7 461.9 1103.2 463.2 1106.8 465.3 1110.3 468.3 1113.9 472.5 1117.4 478 1120.9 484.8 1124.5 492.9 1128 502.2 1131.6 512.3 1135.1 522.8 1138.7 533.3 1142.2 543.3 1145.8 552.5 1149.3 560.4 1152.9 566.8 1156.4 571.5 1160 574.5 1163.5 575.8 1167 575.5 1170.6 574 1174.1 571.6 1177.7 568.5 1181.2 565.1 1184.8 561.7 1188.3 558.7 1191.8 556.4 1195.4 554.9 1198.9 554.8 1202.5 556.2 1206 559.6 1209.5 565.4 1213.1 573.9 1216.6 585.3 1220.2 599.7 1223.7 617 1227.2 636.7 1230.8 658.5 1234.3 681.7 1237.8 705.5 1241.4 729.5 1244.9 753 1248.4 775.7 1251.9 797.5 1255.5 818.3 1259 838.1 1262.5 856.9 1266 875 1269.5 892.3 1273.1 909 1276.6 925.1 1280.1 940.5 1283.6 955.2 1287.1 969.1 1290.6 981.9 1294.1 993.6 1297.7 1003.9 1301.2 1012.9 1304.7 1020.4 1308.2 1026.7 1311.7 1031.8 1315.2 1035.8 1318.7 1039.1 1322.2 1041.6 1325.6 1043.6 1329.1 1045.1 1332.6 1046.3 1336.1 1047.2 1339.6 1047.8 1343.1 1048.3 1346.5 1048.6 1350 1048.8 1353.5 1048.9 1357 1049 1360.4 1049.1 1363.9 1049.2 1367.4 1049.2 1370.8 1049.3 1374.3 1049.3 1377.8 1049.3 1381.2 1049.3 1384.7 1049.2 1388.1 1049 1391.6 1048.9 1395 1048.7 1398.4 1048.4 1401.9 1048.1 1405.3 1047.8 1408.7 1047.5 1412.2 1047.3 1415.6 1047 1419 1046.8 1422.4 1046.7 1425.9 1046.6 1429.3 1046.6 1432.7 1046.6 1436.1 1046.6 1439.5 1046.7 1442.9 1046.9 1446.3 1047 1449.7 1047.2 1453.1 1047.4 1456.5 1047.6 1459.8 1047.8 1463.2 1047.9 1466.6 1048.1 1470 1048.3 1473.3 1048.4 1476.7 1048.5 1480.1 1048.6 1483.4 1048.7 1486.8 1048.7 1490.1 1048.8 1493.5 1048.8 1496.8 1048.9 1500.1 1048.9 1503.5 1049 1506.8 1049.1 1510.1 1049.2 1513.5 1049.3 1516.8 1049.5 1520.1 1049.6 1523.4 1049.7 1526.7 1049.9 1530 1050 1533.3 1050.1 1536.6 1050.2 1539.9 1050.4 1543.2 1050.5 1546.4 1050.7 1549.7 1050.8 1553 1051 1556.3 1051.2 1559.5 1051.4 1562.8 1051.6 1566 1051.7 1569.3 1051.8 1572.5 1051.9 1575.7 1051.9 1579 1051.8 1582.2 1051.8 1585.4 1051.7 1588.6 1051.5 1591.9 1051.4 1595.1 1051.3 1598.3 1051.1 1601.5 1051 1604.7 1050.9 1607.8 1050.8 1611 1050.7 1614.2 1050.6 1617.4 1050.5 1620.5 1050.4 1623.7 1050.3 1626.9 1050.1 1630 1050 1633.2 1049.8 1636.3 1049.6 1639.4 1049.4 1642.6 1049.2 1645.7 1049 1648.8 1048.9 1651.9 1048.8 1655 1048.7 1658.1 1048.7 1661.2 1048.7 1664.3 1048.8 1667.4 1048.9 1670.5 1048.9 1673.5 1049 1676.6 1049 1679.7 1049.1 1682.7 1049 1685.8 1049 1688.8 1048.8 1691.8 1048.6 1694.9 1048.3 1697.9 1048 1700.9 1047.5 1703.9 1047 1706.9 1046.5 1709.9 1045.9 1712.9 1045.2 1715.9 1044.5 1718.9 1043.9 1721.8 1043.2 1724.8 1042.6 1727.8 1042 1730.7 1041.5 1733.7 1041 1736.6 1040.6 1739.6 1040.2 1742.5 1039.8 1745.4 1039.4 1748.3 1039.2 1751.2 1038.9 1754.1 1038.7 1757 1038.6 1759.9 1038.5 1762.8 1038.5 1765.7 1038.6 1768.5 1038.6 1771.4 1038.7 1774.2 1038.9 1777.1 1039 1779.9 1039.2 1782.8 1039.3 1785.6 1039.5 1788.4 1039.7 1791.2 1040 1794 1040.3 1796.8 1040.6 1799.6 1040.9 1802.4 1041.3 1805.1 1041.6 1807.9 1042 1810.7 1042.4 1813.4 1042.8 1816.2 1043.2 1818.9 1043.6 1821.6 1043.9 1824.4 1044.3 1827.1 1044.6 1829.8 1045 1832.5 1045.3 1835.2 1045.6 1837.8 1045.9 1840.5 1046.2 1843.2 1046.4 1845.9 1046.7 1848.5 1046.9 1851.2 1047 1853.8 1047.1 1856.4 1047.1 1859 1047.1 1861.7 1047.1 1864.3 1047 1866.9 1046.9 1869.4 1046.7 1872 1046.6 1874.6 1046.5"/>
<path stroke="#00ff00" stroke-width="4" d="M382.9 545.7h33M399.4 529.2v33M385.5 545.4h33M402 528.9v33M388.1 545.2h33M404.6 528.7v33M390.6 544.9h33M407.1 528.4v33M393.2 544.6h33M409.7 528.1v33M395.8 544.3h33M412.3 527.8v33M398.5 544h33M415 527.5v33M401.1 543.6h33M417.6 527.1v33M403.7 543.2h33M420.2 526.7v33M406.3 542.8h33M422.8 526.3v33M409 542.3h33M425.5 525.8v33M411.6 541.8h33M428.1 525.3v33M414.3 541.2h33M430.8 524.7v33M417 540.5h33M433.5 524v33M419.6 539.8h33M436.1 523.3v33M422.3 539h33M438.8 522.5v33M425 538.2h33M441.5 521.7v33M427.7 537.3h33M444.2 520.8v33M430.4 536.5h33M446.9 520v33M433.1 535.7h33M449.6 519.2v33M435.8 534.8h33M452.3 518.3v33M438.6 534.1h33M455.1 517.6v33M441.3 533.4h33M457.8 516.9v33M444 532.9h33M460.5 516.4v33M446.8 532.4h33M463.3 515.9v33M449.5 532.1h33M466 515.6v33M452.3 531.9h33M468.8 515.4v33M455.1 531.8h33M471.6 515.3v33M457.9 531.8h33M474.4 515.3v33M460.7 531.9h33M477.2 515.4v33M463.4 532h33M479.9 515.5v33M466.2 532.1h33M482.7 515.6v33M469.1 532.2h33M485.6 515.7v33M471.9 532.3h33M488.4 515.8v33M474.7 532.3h33M491.2 515.8v33M477.5 532.1h33M494 515.6v33M480.4 531.9h33M496.9 515.4v33M483.2 531.4h33M499.7 514.9v33M486.1 530.7h33M502.6 514.2v33M488.9 529.8h33M505.4 513.3v33M491.8 528.6h33M508.3 512.1v33M494.7 527.3h33M511.2 510.8v33M497.5 525.8h33M514 509.3v33M500.4 524.2h33M516.9 507.7v33M503.3 522.5h33M519.8 506v33M506.2 520.8h33M522.7 504.3v33M509.1 519h33M525.6 502.5v33M512 517.1h33M528.5 500.6v33M514.9 515.2h33M531.4 498.7v33M517.9 513.2h33M534.4 496.7v33M520.8 511.2h33M537.3 494.7v33M523.7 509.1h33M540.2 492.6v33M526.7 506.9h33M543.2 490.4v33M529.6 504.7h33M546.1 488.2v33M532.6 502.4h33M549.1 485.9v33M535.6 500.1h33M552.1 483.6v33M538.5 497.8h33M555 481.3v33M541.5 495.5h33M558 479v33M544.5 493.3h33M561 476.8v33M547.5 491.2h33M564 474.7v33M550.5 489.2h33M567 472.7v33M553.5 487.5h33M570 471v33M556.5 486.1h33M573 469.6v33M559.5 485.2h33M576 468.7v33M562.5 484.8h33M579 468.3v33M565.6 485h33M582.1 468.5v33M568.6 485.9h33M585.1 469.4v33M571.6 487.5h33M588.1 471v33M574.7 489.6h33M591.2 473.1v33M577.7 492.3h33M594.2 475.8v33M580.8 495.4h33M597.3 478.9v33M583.9 498.7h33M600.4 482.2v33M586.9 502h33M603.4 485.5v33M590 505.2h33M606.5 488.7v33M593.1 508.1h33M609.6 491.6v33M596.2 510.6h33M612.7 494.1v33M599.3 512.6h33M615.8 496.1v33M602.4 514.2h33M618.9 497.7v33M605.5 515.3h33M622 498.8v33M608.6 516h33M625.1 499.5v33M611.7 516.4h33M628.2 499.9v33M614.8 516.6h33M631.3 500.1v33M618 516.6h33M634.5 500.1v33M621.1 516.6h33M637.6 500.1v33M624.2 516.5h33M640.7 500v33M627.4 516.3h33M643.9 499.8v33M630.5 516.2h33M647 499.7v33M633.7 516h33M650.2 499.5v33M636.8 515.8h33M653.3 499.3v33M640 515.5h33M656.5 499v33M643.2 515.3h33M659.7 498.8v33M646.3 514.9h33M662.8 498.4v33M649.5 514.5h33M666 498v33M652.7 514.1h33M669.2 497.6v33M655.9 513.6h33M672.4 497.1v33M659.1 513.1h33M675.6 496.6v33M662.3 512.6h33M678.8 496.1v33M665.5 512h33M682 495.5v33M668.7 511.5h33M685.2 495v33M671.9 511.1h33M688.4 494.6v33M675.2 510.7h33M691.7 494.2v33M678.4 510.5h33M694.9 494v33M681.6 510.3h33M698.1 493.8v33M684.9 510.3h33M701.4 493.8v33M688.1 510.4h33M704.6 493.9v33M691.3 510.7h33M707.8 494.2v33M694.6 511h33M711.1 494.5v33M697.8 511.5h33M714.3 495v33M701.1 512h33M717.6 495.5v33M704.4 512.5h33M720.9 496v33M707.6 513h33M724.1 496.5v33M710.9 513.5h33M727.4 497v33M714.2 513.8h33M730.7 497.3v33M717.5 514.1h33M734 497.6v33M720.8 514.2h33M737.3 497.7v33M724.1 514.1h33M740.6 497.6v33M727.3 514h33M743.8 497.5v33M730.6 513.7h33M747.1 497.2v33M734 513.3h33M750.5 496.8v33M737.3 512.7h33M753.8 496.2v33M740.6 511.8h33M757.1 495.3v33M743.9 510.7h33M760.4 494.2v33M747.2 509.3h33M763.7 492.8v33M750.5 507.6h33M767 491.1v33M753.9 505.5h33M770.4 489v33M757.2 503.1h33M773.7 486.6v33M760.5 500.2h33M777 483.7v33M763.9 497.1h33M780.4 480.6v33M767.2 493.8h33M783.7 477.3v33M770.6 490.2h33M787.1 473.7v33M773.9 486.5h33M790.4 470v33M777.3 482.7h33M793.8 466.2v33M780.6 478.9h33M797.1 462.4v33M784 475.2h33M800.5 458.7v33M787.4 471.6h33M803.9 455.1v33M790.7 468.1h33M807.2 451.6v33M794.1 464.8h33M810.6 448.3v33M797.5 461.7h33M814 445.2v33M800.9 458.9h33M817.4 442.4v33M804.3 456.4h33M820.8 439.9v33M807.7 454.1h33M824.2 437.6v33M811 452.1h33M827.5 435.6v33M814.4 450.4h33M830.9 433.9v33M817.8 449h33M834.3 432.5v33M821.2 447.8h33M837.7 431.3v33M824.7 446.8h33M841.2 430.3v33M828.1 446.1h33M844.6 429.6v33M831.5 445.7h33M848 429.2v33M834.9 445.3h33M851.4 428.8v33M838.3 445.2h33M854.8 428.7v33M841.7 445.2h33M858.2 428.7v33M845.2 445.2h33M861.7 428.7v33M848.6 445.4h33M865.1 428.9v33M852 445.6h33M868.5 429.1v33M855.5 445.8h33M872 429.3v33M858.9 446h33M875.4 429.5v33M862.3 446.3h33M878.8 429.8v33M865.8 446.5h33M882.3 430v33M869.2 446.7h33M885.7 430.2v33M872.7 446.8h33M889.2 430.3v33M876.1 446.8h33M892.6 430.3v33M879.6 446.8h33M896.1 430.3v33M883 446.7h33M899.5 430.2v33M886.5 446.5h33M903 430v33M889.9 446.2h33M906.4 429.7v33M893.4 445.8h33M909.9 429.3v33M896.9 445.2h33M913.4 428.7v33M900.3 444.4h33M916.8 427.9v33M903.8 443.3h33M920.3 426.8v33M907.3 441.9h33M923.8 425.4v33M910.8 440.1h33M927.3 423.6v33M914.2 438h33M930.7 421.5v33M917.7 435.5h33M934.2 419v33M921.2 432.9h33M937.7 416.4v33M924.7 430.2h33M941.2 413.7v33M928.2 427.7h33M944.7 411.2v33M931.7 425.5h33M948.2 409v33M935.2 423.8h33M951.7 407.3v33M938.7 422.9h33M955.2 406.4v33M942.2 422.7h33M958.7 406.2v33M945.6 423.4h33M962.1 406.9v33M949.1 424.7h33M965.6 408.2v33M952.6 426.7h33M969.1 410.2v33M956.2 429.2h33M972.7 412.7v33M959.7 432.2h33M976.2 415.7v33M963.2 435.5h33M979.7 419v33M966.7 439h33M983.2 422.5v33M970.2 442.6h33M986.7 426.1v33M973.7 446.3h33M990.2 429.8v33M977.2 450.1h33M993.7 433.6v33M980.7 453.8h33M997.2 437.3v33M984.2 457.4h33M1000.7 440.9v33M987.8 460.9h33M1004.3 444.4v33M991.3 464.2h33M1007.8 447.7v33M994.8 467.3h33M1011.3 450.8v33M998.3 470.2h33M1014.8 453.7v33M1001.8 472.9h33M1018.3 456.4v33M1005.4 475.3h33M1021.9 458.8v33M1008.9 477.4h33M1025.4 460.9v33M1012.4 479.1h33M1028.9 462.6v33M1016 480.6h33M1032.5 464.1v33M1019.5 481.6h33M1036 465.1v33M1023 482.3h33M1039.5 465.8v33M1026.5 482.6h33M1043 466.1v33M1030.1 482.4h33M1046.6 465.9v33M1033.6 481.8h33M1050.1 465.3v33M1037.1 480.8h33M1053.6 464.3v33M1040.7 479.3h33M1057.2 462.8v33M1044.2 477.5h33M1060.7 461v33M1047.8 475.3h33M1064.3 458.8v33M1051.3 473h33M1067.8 456.5v33M1054.8 470.6h33M1071.3 454.1v33M1058.4 468.3h33M1074.9 451.8v33M1061.9 466.2h33M1078.4 449.7v33M1065.5 464.3h33M1082 447.8v33M1069 462.9h33M1085.5 446.4v33M1072.5 461.9h33M1089 445.4v33M1076.1 461.3h33M1092.6 444.8v33M1079.6 461.3h33M1096.1 444.8v33M1083.2 461.9h33M1099.7 445.4v33M1086.7 463.2h33M1103.2 446.7v33M1090.3 465.3h33M1106.8 448.8v33M1093.8 468.3h33M1110.3 451.8v33M1097.4 472.5h33M1113.9 456v33M1100.9 478h33M1117.4 461.5v33M1104.4 484.8h33M1120.9 468.3v33M1108 492.9h33M1124.5 476.4v33M1111.5 502.2h33M1128 485.7v33M1115.1 512.3h33M1131.6 495.8v33M1118.6 522.8h33M1135.1 506.3v33M1122.2 533.3h33M1138.7 516.8v33M1125.7 543.3h33M1142.2 526.8v33M1129.3 552.5h33M1145.8 536v33M1132.8 560.4h33M1149.3 543.9v33M1136.4 566.8h33M1152.9 550.3v33M1139.9 571.5h33M1156.4 555v33M1143.5 574.5h33M1160 558v33M1147 575.8h33M1163.5 559.3v33M1150.5 575.5h33M1167 559v33M1154.1 574h33M1170.6 557.5v33M1157.6 571.6h33M1174.1 555.1v33M1161.2 568.5h33M1177.7 552v33M1164.7 565.1h33M1181.2 548.6v33M1168.3 561.7h33M1184.8 545.2v33M1171.8 558.7h33M1188.3 542.2v33M1175.3 556.4h33M1191.8 539.9v33M1178.9 554.9h33M1195.4 538.4v33M1182.4 554.8h33M1198.9 538.3v33M1186 556.2h33M1202.5 539.7v33M1189.5 559.6h33M1206 543.1v33M1193 565.4h33M1209.5 548.9v33M1196.6 573.9h33M1213.1 557.4v33M1200.1 585.3h33M1216.6 568.8v33M1203.7 599.7h33M1220.2 583.2v33M1207.2 617h33M1223.7 600.5v33M1210.7 636.7h33M1227.2 620.2v33M1214.3 658.5h33M1230.8 642v33M1217.8 681.7h33M1234.3 665.2v33M1221.3 705.5h33M1237.8 689v33M1224.9 729.5h33M1241.4 713v33M1228.4 753h33M1244.9 736.5v33M1231.9 775.7h33M1248.4 759.2v33M1235.4 797.5h33M1251.9 781v33M1239 818.3h33M1255.5 801.8v33M1242.5 838.1h33M1259 821.6v33M1246 856.9h33M1262.5 840.4v33M1249.5 875h33M1266 858.5v33M1253 892.3h33M1269.5 875.8v33M1256.6 909h33M1273.1 892.5v33M1260.1 925.1h33M1276.6 908.6v33M1263.6 940.5h33M1280.1 924v33M1267.1 955.2h33M1283.6 938.7v33M1270.6 969.1h33M1287.1 952.6v33M1274.1 981.9h33M1290.6 965.4v33M1277.6 993.6h33M1294.1 977.1v33M1281.2 1003.9h33M1297.7 987.4v33M1284.7 1012.9h33M1301.2 996.4v33M1288.2 1020.4h33M1304.7 1003.9v33M1291.7 1026.7h33M1308.2 1010.2v33M1295.2 1031.8h33M1311.7 1015.3v33M1298.7 1035.8h33M1315.2 1019.3v33M1302.2 1039.1h33M1318.7 1022.6v33M1305.7 1041.6h33M1322.2 1025.1v33M1309.1 1043.6h33M1325.6 1027.1v33M1312.6 1045.1h33M1329.1 1028.6v33M1316.1 1046.3h33M1332.6 1029.8v33M1319.6 1047.2h33M1336.1 1030.7v33M1323.1 1047.8h33M1339.6 1031.3v33M1326.6 1048.3h33M1343.1 1031.8v33M1330 1048.6h33M1346.5 1032.1v33M1333.5 1048.8h33M1350 1032.3v33M1337 1048.9h33M1353.5 1032.4v33M1340.5 1049h33M1357 1032.5v33M1343.9 1049.1h33M1360.4 1032.6v33M1347.4 1049.2h33M1363.9 1032.7v33M1350.9 1049.2h33M1367.4 1032.7v33M1354.3 1049.3h33M1370.8 1032.8v33M1357.8 1049.3h33M1374.3 1032.8v33M1361.3 1049.3h33M1377.8 1032.8v33M1364.7 1049.3h33M1381.2 1032.8v33M1368.2 1049.2h33M1384.7 1032.7v33M1371.6 1049h33M1388.1 1032.5v33M1375.1 1048.9h33M1391.6 1032.4v33M1378.5 1048.7h33M1395 1032.2v33M1381.9 1048.4h33M1398.4 1031.9v33M1385.4 1048.1h33M1401.9 1031.6v33M1388.8 1047.8h33M1405.3 1031.3v33M1392.2 1047.5h33M1408.7 1031v33M1395.7 1047.3h33M1412.2 1030.8v33M1399.1 1047h33M1415.6 1030.5v33M1402.5 1046.8h33M1419 1030.3v33M1405.9 1046.7h33M1422.4 1030.2v33M1409.4 1046.6h33M1425.9 1030.1v33M1412.8 1046.6h33M1429.3 1030.1v33M1416.2 1046.6h33M1432.7 1030.1v33M1419.6 1046.6h33M1436.1 1030.1v33M1423 1046.7h33M1439.5 1030.2v33M1426.4 1046.9h33M1442.9 1030.4v33M1429.8 1047h33M1446.3 1030.5v33M1433.2 1047.2h33M1449.7 1030.7v33M1436.6 1047.4h33M1453.1 1030.9v33M1440 1047.6h33M1456.5 1031.1v33M1443.3 1047.8h33M1459.8 1031.3v33M1446.7 1047.9h33M1463.2 1031.4v33M1450.1 1048.1h33M1466.6 1031.6v33M1453.5 1048.3h33M1470 1031.8v33M1456.8 1048.4h33M1473.3 1031.9v33M1460.2 1048.5h33M1476.7 1032v33M1463.6 1048.6h33M1480.1 1032.1v33M1466.9 1048.7h33M1483.4 1032.2v33M1470.3 1048.7h33M1486.8 1032.2v33M1473.6 1048.8h33M1490.1 1032.3v33M1477 1048.8h33M1493.5 1032.3v33M1480.3 1048.9h33M1496.8 1032.4v33M1483.6 1048.9h33M1500.1 1032.4v33M1487 1049h33M1503.5 1032.5v33M1490.3 1049.1h33M1506.8 1032.6v33M1493.6 1049.2h33M1510.1 1032.7v33M1497 1049.3h33M1513.5 1032.8v33M1500.3 1049.5h33M1516.8 1033v33M1503.6 1049.6h33M1520.1 1033.1v33M1506.9 1049.7h33M1523.4 1033.2v33M1510.2 1049.9h33M1526.7 1033.4v33M1513.5 1050h33M1530 1033.5v33M1516.8 1050.1h33M1533.3 1033.6v33M1520.1 1050.2h33M1536.6 1033.7v33M1523.4 1050.4h33M1539.9 1033.9v33M1526.7 1050.5h33M1543.2 1034v33M1529.9 1050.7h33M1546.4 1034.2v33M1533.2 1050.8h33M1549.7 1034.3v33M1536.5 1051h33M1553 1034.5v33M1539.8 1051.2h33M1556.3 1034.7v33M1543 1051.4h33M1559.5 1034.9v33M1546.3 1051.6h33M1562.8 1035.1v33M1549.5 1051.7h33M1566 1035.2v33M1552.8 1051.8h33M1569.3 1035.3v33M1556 1051.9h33M1572.5 1035.4v33M1559.2 1051.9h33M1575.7 1035.4v33M1562.5 1051.8h33M1579 1035.3v33M1565.7 1051.8h33M1582.2 1035.3v33M1568.9 1051.7h33M1585.4 1035.2v33M1572.1 1051.5h33M1588.6 1035v33M1575.4 1051.4h33M1591.9 1034.9v33M1578.6 1051.3h33M1595.1 1034.8v33M1581.8 1051.1h33M1598.3 1034.6v33M1585 1051h33M1601.5 1034.5v33M1588.2 1050.9h33M1604.7 1034.4v33M1591.3 1050.8h33M1607.8 1034.3v33M1594.5 1050.7h33M1611 1034.2v33M1597.7 1050.6h33M1614.2 1034.1v33M1600.9 1050.5h33M1617.4 1034v33M1604 1050.4h33M1620.5 1033.9v33M1607.2 1050.3h33M1623.7 1033.8v33M1610.4 1050.1h33M1626.9 1033.6v33M1613.5 1050h33M1630 1033.5v33M1616.7 1049.8h33M1633.2 1033.3v33M1619.8 1049.6h33M1636.3 1033.1v33M1622.9 1049.4h33M1639.4 1032.9v33M1626.1 1049.2h33M1642.6 1032.7v33M1629.2 1049h33M1645.7 1032.5v33M1632.3 1048.9h33M1648.8 1032.4v33M1635.4 1048.8h33M1651.9 1032.3v33M1638.5 1048.7h33M1655 1032.2v33M1641.6 1048.7h33M1658.1 1032.2v33M1644.7 1048.7h33M1661.2 1032.2v33M1647.8 1048.8h33M1664.3 1032.3v33M1650.9 1048.9h33M1667.4 1032.4v33M1654 1048.9h33M1670.5 1032.4v33M1657 1049h33M1673.5 1032.5v33M1660.1 1049h33M1676.6 1032.5v33M1663.2 1049.1h33M1679.7 1032.6v33M1666.2 1049h33M1682.7 1032.5v33M1669.3 1049h33M1685.8 1032.5v33M1672.3 1048.8h33M1688.8 1032.3v33M1675.3 1048.6h33M1691.8 1032.1v33M1678.4 1048.3h33M1694.9 1031.8v33M1681.4 1048h33M1697.9 1031.5v33M1684.4 1047.5h33M1700.9 1031v33M1687.4 1047h33M1703.9 1030.5v33M1690.4 1046.5h33M1706.9 1030v33M1693.4 1045.9h33M1709.9 1029.4v33M1696.4 1045.2h33M1712.9 1028.7v33M1699.4 1044.5h33M1715.9 1028v33M1702.4 1043.9h33M1718.9 1027.4v33M1705.3 1043.2h33M1721.8 1026.7v33M1708.3 1042.6h33M1724.8 1026.1v33M1711.3 1042h33M1727.8 1025.5v33M1714.2 1041.5h33M1730.7 1025v33M1717.2 1041h33M1733.7 1024.5v33M1720.1 1040.6h33M1736.6 1024.1v33M1723.1 1040.2h33M1739.6 1023.7v33M1726 1039.8h33M1742.5 1023.3v33M1728.9 1039.4h33M1745.4 1022.9v33M1731.8 1039.2h33M1748.3 1022.7v33M1734.7 1038.9h33M1751.2 1022.4v33M1737.6 1038.7h33M1754.1 1022.2v33M1740.5 1038.6h33M1757 1022.1v33M1743.4 1038.5h33M1759.9 1022v33M1746.3 1038.5h33M1762.8 1022v33M1749.2 1038.6h33M1765.7 1022.1v33M1752 1038.6h33M1768.5 1022.1v33M1754.9 1038.7h33M1771.4 1022.2v33M1757.7 1038.9h33M1774.2 1022.4v33M1760.6 1039h33M1777.1 1022.5v33M1763.4 1039.2h33M1779.9 1022.7v33M1766.3 1039.3h33M1782.8 1022.8v33M1769.1 1039.5h33M1785.6 1023v33M1771.9 1039.7h33M1788.4 1023.2v33M1774.7 1040h33M1791.2 1023.5v33M1777.5 1040.3h33M1794 1023.8v33M1780.3 1040.6h33M1796.8 1024.1v33M1783.1 1040.9h33M1799.6 1024.4v33M1785.9 1041.3h33M1802.4 1024.8v33M1788.6 1041.6h33M1805.1 1025.1v33M1791.4 1042h33M1807.9 1025.5v33M1794.2 1042.4h33M1810.7 1025.9v33M1796.9 1042.8h33M1813.4 1026.3v33M1799.7 1043.2h33M1816.2 1026.7v33M1802.4 1043.6h33M1818.9 1027.1v33M1805.1 1043.9h33M1821.6 1027.4v33M1807.9 1044.3h33M1824.4 1027.8v33M1810.6 1044.6h33M1827.1 1028.1v33M1813.3 1045h33M1829.8 1028.5v33M1816 1045.3h33M1832.5 1028.8v33M1818.7 1045.6h33M1835.2 1029.1v33M1821.3 1045.9h33M1837.8 1029.4v33M1824 1046.2h33M1840.5 1029.7v33M1826.7 1046.4h33M1843.2 1029.9v33M1829.4 1046.7h33M1845.9 1030.2v33M1832 1046.9h33M1848.5 1030.4v33M1834.7 1047h33M1851.2 1030.5v33M1837.3 1047.1h33M1853.8 1030.6v33M1839.9 1047.1h33M1856.4 1030.6v33M1842.5 1047.1h33M1859 1030.6v33M1845.2 1047.1h33M1861.7 1030.6v33M1847.8 1047h33M1864.3 1030.5v33M1850.4 1046.9h33M1866.9 1030.4v33M1852.9 1046.7h33M1869.4 1030.2v33M1855.5 1046.6h33M1872 1030.1v33M1858.1 1046.5h33M1874.6 1030v33M388 534.3l22.8 22.8M388 557.1l22.8 -22.8M390.6 534l22.8 22.8M390.6 556.8l22.8 -22.8M393.2 533.8l22.8 22.8M393.2 556.6l22.8 -22.8M395.7 533.5l22.8 22.8M395.7 556.3l22.8 -22.8M398.3 533.2l22.8 22.8M398.3 556l22.8 -22.8M400.9 532.9l22.8 22.8M400.9 555.7l22.8 -22.8M403.6 532.6l22.8 22.8M403.6 555.4l22.8 -22.8M406.2 532.2l22.8 22.8M406.2 555l22.8 -22.8M408.8 531.8l22.8 22.8M408.8 554.6l22.8 -22.8M411.4 531.4l22.8 22.8M411.4 554.2l22.8 -22.8M414.1 530.9l22.8 22.8M414.1 553.7l22.8 -22.8M416.7 530.4l22.8 22.8M416.7 553.2l22.8 -22.8M419.4 529.8l22.8 22.8M419.4 552.6l22.8 -22.8M422.1 529.1l22.8 22.8M422.1 551.9l22.8 -22.8M424.7 528.4l22.8 22.8M424.7 551.2l22.8 -22.8M427.4 527.6l22.8 22.8M427.4 550.4l22.8 -22.8M430.1 526.8l22.8 22.8M430.1 549.6l22.8 -22.8M432.8 525.9l22.8 22.8M432.8 548.7l22.8 -22.8M435.5 525.1l22.8 22.8M435.5 547.9l22.8 -22.8M438.2 524.3l22.8 22.8M438.2 547.1l22.8 -22.8M440.9 523.4l22.8 22.8M440.9 546.2l22.8 -22.8M443.7 522.7l22.8 22.8M443.7 545.5l22.8 -22.8M446.4 522l22.8 22.8M446.4 544.8l22.8 -22.8M449.1 521.5l22.8 22.8M449.1 544.3l22.8 -22.8M451.9 521l22.8 22.8M451.9 543.8l22.8 -22.8M454.6 520.7l22.8 22.8M454.6 543.5l22.8 -22.8M457.4 520.5l22.8 22.8M457.4 543.3l22.8 -22.8M460.2 520.4l22.8 22.8M460.2 543.2l22.8 -22.8M463 520.4l22.8 22.8M463 543.2l22.8 -22.8M465.8 520.5l22.8 22.8M465.8 543.3l22.8 -22.8M468.5 520.6l22.8 22.8M468.5 543.4l22.8 -22.8M471.3 520.7l22.8 22.8M471.3 543.5l22.8 -22.8M474.2 520.8l22.8 22.8M474.2 543.6l22.8 -22.8M477 520.9l22.8 22.8M477 543.7l22.8 -22.8M479.8 520.9l22.8 22.8M479.8 543.7l22.8 -22.8M482.6 520.7l22.8 22.8M482.6 543.5l22.8 -22.8M485.5 520.5l22.8 22.8M485.5 543.3l22.8 -22.8M488.3 520l22.8 22.8M488.3 542.8l22.8 -22.8M491.2 519.3l22.8 22.8M491.2 542.1l22.8 -22.8M494 518.4l22.8 22.8M494 541.2l22.8 -22.8M496.9 517.2l22.8 22.8M496.9 540l22.8 -22.8M499.8 515.9l22.8 22.8M499.8 538.7l22.8 -22.8M502.6 514.4l22.8 22.8M502.6 537.2l22.8 -22.8M505.5 512.8l22.8 22.8M505.5 535.6l22.8 -22.8M508.4 511.1l22.8 22.8M508.4 533.9l22.8 -22.8M511.3 509.4l22.8 22.8M511.3 532.2l22.8 -22.8M514.2 507.6l22.8 22.8M514.2 530.4l22.8 -22.8M517.1 505.7l22.8 22.8M517.1 528.5l22.8 -22.8M520 503.8l22.8 22.8M520 526.6l22.8 -22.8M523 501.8l22.8 22.8M523 524.6l22.8 -22.8M525.9 499.8l22.8 22.8M525.9 522.6l22.8 -22.8M528.8 497.7l22.8 22.8M528.8 520.5l22.8 -22.8M531.8 495.5l22.8 22.8M531.8 518.3l22.8 -22.8M534.7 493.3l22.8 22.8M534.7 516.1l22.8 -22.8M537.7 491l22.8 22.8M537.7 513.8l22.8 -22.8M540.7 488.7l22.8 22.8M540.7 511.5l22.8 -22.8M543.6 486.4l22.8 22.8M543.6 509.2l22.8 -22.8M546.6 484.1l22.8 22.8M546.6 506.9l22.8 -22.8M549.6 481.9l22.8 22.8M549.6 504.7l22.8 -22.8M552.6 479.8l22.8 22.8M552.6 502.6l22.8 -22.8M555.6 477.8l22.8 22.8M555.6 500.6l22.8 -22.8M558.6 476.1l22.8 22.8M558.6 498.9l22.8 -22.8M561.6 474.7l22.8 22.8M561.6 497.5l22.8 -22.8M564.6 473.8l22.8 22.8M564.6 496.6l22.8 -22.8M567.6 473.4l22.8 22.8M567.6 496.2l22.8 -22.8M570.7 473.6l22.8 22.8M570.7 496.4l22.8 -22.8M573.7 474.5l22.8 22.8M573.7 497.3l22.8 -22.8M576.7 476.1l22.8 22.8M576.7 498.9l22.8 -22.8M579.8 478.2l22.8 22.8M579.8 501l22.8 -22.8M582.8 480.9l22.8 22.8M582.8 503.7l22.8 -22.8M585.9 484l22.8 22.8M585.9 506.8l22.8 -22.8M589 487.3l22.8 22.8M589 510.1l22.8 -22.8M592 490.6l22.8 22.8M592 513.4l22.8 -22.8M595.1 493.8l22.8 22.8M595.1 516.6l22.8 -22.8M598.2 496.7l22.8 22.8M598.2 519.5l22.8 -22.8M601.3 499.2l22.8 22.8M601.3 522l22.8 -22.8M604.4 501.2l22.8 22.8M604.4 524l22.8 -22.8M607.5 502.8l22.8 22.8M607.5 525.6l22.8 -22.8M610.6 503.9l22.8 22.8M610.6 526.7l22.8 -22.8M613.7 504.6l22.8 22.8M613.7 527.4l22.8 -22.8M616.8 505l22.8 22.8M616.8 527.8l22.8 -22.8M619.9 505.2l22.8 22.8M619.9 528l22.8 -22.8M623.1 505.2l22.8 22.8M623.1 528l22.8 -22.8M626.2 505.2l22.8 22.8M626.2 528l22.8 -22.8M629.3 505.1l22.8 22.8M629.3 527.9l22.8 -22.8M632.5 504.9l22.8 22.8M632.5 527.7l22.8 -22.8M635.6 504.8l22.8 22.8M635.6 527.6l22.8 -22.8M638.8 504.6l22.8 22.8M638.8 527.4l22.8 -22.8M641.9 504.4l22.8 22.8M641.9 527.2l22.8 -22.8M645.1 504.1l22.8 22.8M645.1 526.9l22.8 -22.8M648.3 503.9l22.8 22.8M648.3 526.7l22.8 -22.8M651.4 503.5l22.8 22.8M651.4 526.3l22.8 -22.8M654.6 503.1l22.8 22.8M654.6 525.9l22.8 -22.8M657.8 502.7l22.8 22.8M657.8 525.5l22.8 -22.8M661 502.2l22.8 22.8M661 525l22.8 -22.8M664.2 501.7l22.8 22.8M664.2 524.5l22.8 -22.8M667.4 501.2l22.8 22.8M667.4 524l22.8 -22.8M670.6 500.6l22.8 22.8M670.6 523.4l22.8 -22.8M673.8 500.1l22.8 22.8M673.8 522.9l22.8 -22.8M677 499.7l22.8 22.8M677 522.5l22.8 -22.8M680.3 499.3l22.8 22.8M680.3 522.1l22.8 -22.8M683.5 499.1l22.8 22.8M683.5 521.9l22.8 -22.8M686.7 498.9l22.8 22.8M686.7 521.7l22.8 -22.8M690 498.9l22.8 22.8M690 521.7l22.8 -22.8M693.2 499l22.8 22.8M693.2 521.8l22.8 -22.8M696.4 499.3l22.8 22.8M696.4 522.1l22.8 -22.8M699.7 499.6l22.8 22.8M699.7 522.4l22.8 -22.8M702.9 500.1l22.8 22.8M702.9 522.9l22.8 -22.8M706.2 500.6l22.8 22.8M706.2 523.4l22.8 -22.8M709.5 501.1l22.8 22.8M709.5 523.9l22.8 -22.8M712.7 501.6l22.8 22.8M712.7 524.4l22.8 -22.8M716 502.1l22.8 22.8M716 524.9l22.8 -22.8M719.3 502.4l22.8 22.8M719.3 525.2l22.8 -22.8M722.6 502.7l22.8 22.8M722.6 525.5l22.8 -22.8M725.9 502.8l22.8 22.8M725.9 525.6l22.8 -22.8M729.2 502.7l22.8 22.8M729.2 525.5l22.8 -22.8M732.4 502.6l22.8 22.8M732.4 525.4l22.8 -22.8M735.7 502.3l22.8 22.8M735.7 525.1l22.8 -22.8M739.1 501.9l22.8 22.8M739.1 524.7l22.8 -22.8M742.4 501.3l22.8 22.8M742.4 524.1l22.8 -22.8M745.7 500.4l22.8 22.8M745.7 523.2l22.8 -22.8M749 499.3l22.8 22.8M749 522.1l22.8 -22.8M752.3 497.9l22.8 22.8M752.3 520.7l22.8 -22.8M755.6 496.2l22.8 22.8M755.6 519l22.8 -22.8M759 494.1l22.8 22.8M759 516.9l22.8 -22.8M762.3 491.7l22.8 22.8M762.3 514.5l22.8 -22.8M765.6 488.8l22.8 22.8M765.6 511.6l22.8 -22.8M769 485.7l22.8 22.8M769 508.5l22.8 -22.8M772.3 482.4l22.8 22.8M772.3 505.2l22.8 -22.8M775.7 478.8l22.8 22.8M775.7 501.6l22.8 -22.8M779 475.1l22.8 22.8M779 497.9l22.8 -22.8M782.4 471.3l22.8 22.8M782.4 494.1l22.8 -22.8M785.7 467.5l22.8 22.8M785.7 490.3l22.8 -22.8M789.1 463.8l22.8 22.8M789.1 486.6l22.8 -22.8M792.5 460.2l22.8 22.8M792.5 483l22.8 -22.8M795.8 456.7l22.8 22.8M795.8 479.5l22.8 -22.8M799.2 453.4l22.8 22.8M799.2 476.2l22.8 -22.8M802.6 450.3l22.8 22.8M802.6 473.1l22.8 -22.8M806 447.5l22.8 22.8M806 470.3l22.8 -22.8M809.4 445l22.8 22.8M809.4 467.8l22.8 -22.8M812.8 442.7l22.8 22.8M812.8 465.5l22.8 -22.8M816.1 440.7l22.8 22.8M816.1 463.5l22.8 -22.8M819.5 439l22.8 22.8M819.5 461.8l22.8 -22.8M822.9 437.6l22.8 22.8M822.9 460.4l22.8 -22.8M826.3 436.4l22.8 22.8M826.3 459.2l22.8 -22.8M829.8 435.4l22.8 22.8M829.8 458.2l22.8 -22.8M833.2 434.7l22.8 22.8M833.2 457.5l22.8 -22.8M836.6 434.3l22.8 22.8M836.6 457.1l22.8 -22.8M840 433.9l22.8 22.8M840 456.7l22.8 -22.8M843.4 433.8l22.8 22.8M843.4 456.6l22.8 -22.8M846.8 433.8l22.8 22.8M846.8 456.6l22.8 -22.8M850.3 433.8l22.8 22.8M850.3 456.6l22.8 -22.8M853.7 434l22.8 22.8M853.7 456.8l22.8 -22.8M857.1 434.2l22.8 22.8M857.1 457l22.8 -22.8M860.6 434.4l22.8 22.8M860.6 457.2l22.8 -22.8M864 434.6l22.8 22.8M864 457.4l22.8 -22.8M867.4 434.9l22.8 22.8M867.4 457.7l22.8 -22.8M870.9 435.1l22.8 22.8M870.9 457.9l22.8 -22.8M874.3 435.3l22.8 22.8M874.3 458.1l22.8 -22.8M877.8 435.4l22.8 22.8M877.8 458.2l22.8 -22.8M881.2 435.4l22.8 22.8M881.2 458.2l22.8 -22.8M884.7 435.4l22.8 22.8M884.7 458.2l22.8 -22.8M888.1 435.3l22.8 22.8M888.1 458.1l22.8 -22.8M891.6 435.1l22.8 22.8M891.6 457.9l22.8 -22.8M895 434.8l22.8 22.8M895 457.6l22.8 -22.8M898.5 434.4l22.8 22.8M898.5 457.2l22.8 -22.8M902 433.8l22.8 22.8M902 456.6l22.8 -22.8M905.4 433l22.8 22.8M905.4 455.8l22.8 -22.8M908.9 431.9l22.8 22.8M908.9 454.7l22.8 -22.8M912.4 430.5l22.8 22.8M912.4 453.3l22.8 -22.8M915.9 428.7l22.8 22.8M915.9 451.5l22.8 -22.8M919.3 426.6l22.8 22.8M919.3 449.4l22.8 -22.8M922.8 424.1l22.8 22.8M922.8 446.9l22.8 -22.8M926.3 421.5l22.8 22.8M926.3 444.3l22.8 -22.8M929.8 418.8l22.8 22.8M929.8 441.6l22.8 -22.8M933.3 416.3l22.8 22.8M933.3 439.1l22.8 -22.8M936.8 414.1l22.8 22.8M936.8 436.9l22.8 -22.8M940.3 412.4l22.8 22.8M940.3 435.2l22.8 -22.8M943.8 411.5l22.8 22.8M943.8 434.3l22.8 -22.8M947.3 411.3l22.8 22.8M947.3 434.1l22.8 -22.8M950.7 412l22.8 22.8M950.7 434.8l22.8 -22.8M954.2 413.3l22.8 22.8M954.2 436.1l22.8 -22.8M957.7 415.3l22.8 22.8M957.7 438.1l22.8 -22.8M961.3 417.8l22.8 22.8M961.3 440.6l22.8 -22.8M964.8 420.8l22.8 22.8M964.8 443.6l22.8 -22.8M968.3 424.1l22.8 22.8M968.3 446.9l22.8 -22.8M971.8 427.6l22.8 22.8M971.8 450.4l22.8 -22.8M975.3 431.2l22.8 22.8M975.3 454l22.8 -22.8M978.8 434.9l22.8 22.8M978.8 457.7l22.8 -22.8M982.3 438.7l22.8 22.8M982.3 461.5l22.8 -22.8M985.8 442.4l22.8 22.8M985.8 465.2l22.8 -22.8M989.3 446l22.8 22.8M989.3 468.8l22.8 -22.8M992.9 449.5l22.8 22.8M992.9 472.3l22.8 -22.8M996.4 452.8l22.8 22.8M996.4 475.6l22.8 -22.8M999.9 455.9l22.8 22.8M999.9 478.7l22.8 -22.8M1003.4 458.8l22.8 22.8M1003.4 481.6l22.8 -22.8M1006.9 461.5l22.8 22.8M1006.9 484.3l22.8 -22.8M1010.5 463.9l22.8 22.8M1010.5 486.7l22.8 -22.8M1014 466l22.8 22.8M1014 488.8l22.8 -22.8M1017.5 467.7l22.8 22.8M1017.5 490.5l22.8 -22.8M1021.1 469.2l22.8 22.8M1021.1 492l22.8 -22.8M1024.6 470.2l22.8 22.8M1024.6 493l22.8 -22.8M1028.1 470.9l22.8 22.8M1028.1 493.7l22.8 -22.8M1031.6 471.2l22.8 22.8M1031.6 494l22.8 -22.8M1035.2 471l22.8 22.8M1035.2 493.8l22.8 -22.8M1038.7 470.4l22.8 22.8M1038.7 493.2l22.8 -22.8M1042.2 469.4l22.8 22.8M1042.2 492.2l22.8 -22.8M1045.8 467.9l22.8 22.8M1045.8 490.7l22.8 -22.8M1049.3 466.1l22.8 22.8M1049.3 488.9l22.8 -22.8M1052.9 463.9l22.8 22.8M1052.9 486.7l22.8 -22.8M1056.4 461.6l22.8 22.8M1056.4 484.4l22.8 -22.8M1059.9 459.2l22.8 22.8M1059.9 482l22.8 -22.8M1063.5 456.9l22.8 22.8M1063.5 479.7l22.8 -22.8M1067 454.8l22.8 22.8M1067 477.6l22.8 -22.8M1070.6 452.9l22.8 22.8M1070.6 475.7l22.8 -22.8M1074.1 451.5l22.8 22.8M1074.1 474.3l22.8 -22.8M1077.6 450.5l22.8 22.8M1077.6 473.3l22.8 -22.8M1081.2 449.9l22.8 22.8M1081.2 472.7l22.8 -22.8M1084.7 449.9l22.8 22.8M1084.7 472.7l22.8 -22.8M1088.3 450.5l22.8 22.8M1088.3 473.3l22.8 -22.8M1091.8 451.8l22.8 22.8M1091.8 474.6l22.8 -22.8M1095.4 453.9l22.8 22.8M1095.4 476.7l22.8 -22.8M1098.9 456.9l22.8 22.8M1098.9 479.7l22.8 -22.8M1102.5 461.1l22.8 22.8M1102.5 483.9l22.8 -22.8M1106 466.6l22.8 22.8M1106 489.4l22.8 -22.8M1109.5 473.4l22.8 22.8M1109.5 496.2l22.8 -22.8M1113.1 481.5l22.8 22.8M1113.1 504.3l22.8 -22.8M1116.6 490.8l22.8 22.8M1116.6 513.6l22.8 -22.8M1120.2 500.9l22.8 22.8M1120.2 523.7l22.8 -22.8M1123.7 511.4l22.8 22.8M1123.7 534.2l22.8 -22.8M1127.3 521.9l22.8 22.8M1127.3 544.7l22.8 -22.8M1130.8 531.9l22.8 22.8M1130.8 554.7l22.8 -22.8M1134.4 541.1l22.8 22.8M1134.4 563.9l22.8 -22.8M1137.9 549l22.8 22.8M1137.9 571.8l22.8 -22.8M1141.5 555.4l22.8 22.8M1141.5 578.2l22.8 -22.8M1145 560.1l22.8 22.8M1145 582.9l22.8 -22.8M1148.6 563.1l22.8 22.8M1148.6 585.9l22.8 -22.8M1152.1 564.4l22.8 22.8M1152.1 587.2l22.8 -22.8M1155.6 564.1l22.8 22.8M1155.6 586.9l22.8 -22.8M1159.2 562.6l22.8 22.8M1159.2 585.4l22.8 -22.8M1162.7 560.2l22.8 22.8M1162.7 583l22.8 -22.8M1166.3 557.1l22.8 22.8M1166.3 579.9l22.8 -22.8M1169.8 553.7l22.8 22.8M1169.8 576.5l22.8 -22.8M1173.4 550.3l22.8 22.8M1173.4 573.1l22.8 -22.8M1176.9 547.3l22.8 22.8M1176.9 570.1l22.8 -22.8M1180.4 545l22.8 22.8M1180.4 567.8l22.8 -22.8M1184 543.5l22.8 22.8M1184 566.3l22.8 -22.8M1187.5 543.4l22.8 22.8M1187.5 566.2l22.8 -22.8M1191.1 544.8l22.8 22.8M1191.1 567.6l22.8 -22.8M1194.6 548.2l22.8 22.8M1194.6 571l22.8 -22.8M1198.1 554l22.8 22.8M1198.1 576.8l22.8 -22.8M1201.7 562.5l22.8 22.8M1201.7 585.3l22.8 -22.8M1205.2 573.9l22.8 22.8M1205.2 596.7l22.8 -22.8M1208.8 588.3l22.8 22.8M1208.8 611.1l22.8 -22.8M1212.3 605.6l22.8 22.8M1212.3 628.4l22.8 -22.8M1215.8 625.3l22.8 22.8M1215.8 648.1l22.8 -22.8M1219.4 647.1l22.8 22.8M1219.4 669.9l22.8 -22.8M1222.9 670.3l22.8 22.8M1222.9 693.1l22.8 -22.8M1226.4 694.1l22.8 22.8M1226.4 716.9l22.8 -22.8M1230 718.1l22.8 22.8M1230 740.9l22.8 -22.8M1233.5 741.6l22.8 22.8M1233.5 764.4l22.8 -22.8M1237 764.3l22.8 22.8M1237 787.1l22.8 -22.8M1240.5 786.1l22.8 22.8M1240.5 808.9l22.8 -22.8M1244.1 806.9l22.8 22.8M1244.1 829.7l22.8 -22.8M1247.6 826.7l22.8 22.8M1247.6 849.5l22.8 -22.8M1251.1 845.5l22.8 22.8M1251.1 868.3l22.8 -22.8M1254.6 863.6l22.8 22.8M1254.6 886.4l22.8 -22.8M1258.1 880.9l22.8 22.8M1258.1 903.7l22.8 -22.8M1261.7 897.6l22.8 22.8M1261.7 920.4l22.8 -22.8M1265.2 913.7l22.8 22.8M1265.2 936.5l22.8 -22.8M1268.7 929.1l22.8 22.8M1268.7 951.9l22.8 -22.8M1272.2 943.8l22.8 22.8M1272.2 966.6l22.8 -22.8M1275.7 957.7l22.8 22.8M1275.7 980.5l22.8 -22.8M1279.2 970.5l22.8 22.8M1279.2 993.3l22.8 -22.8M1282.7 982.2l22.8 22.8M1282.7 1005l22.8 -22.8M1286.3 992.5l22.8 22.8M1286.3 1015.3l22.8 -22.8M1289.8 1001.5l22.8 22.8M1289.8 1024.3l22.8 -22.8M1293.3 1009l22.8 22.8M1293.3 1031.8l22.8 -22.8M1296.8 1015.3l22.8 22.8M1296.8 1038.1l22.8 -22.8M1300.3 1020.4l22.8 22.8M1300.3 1043.2l22.8 -22.8M1303.8 1024.4l22.8 22.8M1303.8 1047.2l22.8 -22.8M1307.3 1027.7l22.8 22.8M1307.3 1050.5l22.8 -22.8M1310.8 1030.2l22.8 22.8M1310.8 1053l22.8 -22.8M1314.2 1032.2l22.8 22.8M1314.2 1055l22.8 -22.8M1317.7 1033.7l22.8 22.8M1317.7 1056.5l22.8 -22.8M1321.2 1034.9l22.8 22.8M1321.2 1057.7l22.8 -22.8M1324.7 1035.8l22.8 22.8M1324.7 1058.6l22.8 -22.8M1328.2 1036.4l22.8 22.8M1328.2 1059.2l22.8 -22.8M1331.7 1036.9l22.8 22.8M1331.7 1059.7l22.8 -22.8M1335.1 1037.2l22.8 22.8M1335.1 1060l22.8 -22.8M1338.6 1037.4l22.8 22.8M1338.6 1060.2l22.8 -22.8M1342.1 1037.5l22.8 22.8M1342.1 1060.3l22.8 -22.8M1345.6 1037.6l22.8 22.8M1345.6 1060.4l22.8 -22.8M1349 1037.7l22.8 22.8M1349 1060.5l22.8 -22.8M1352.5 1037.8l22.8 22.8M1352.5 1060.6l22.8 -22.8M1356 1037.8l22.8 22.8M1356 1060.6l22.8 -22.8M1359.4 1037.9l22.8 22.8M1359.4 1060.7l22.8 -22.8M1362.9 1037.9l22.8 22.8M1362.9 1060.7l22.8 -22.8M1366.4 1037.9l22.8 22.8M1366.4 1060.7l22.8 -22.8M1369.8 1037.9l22.8 22.8M1369.8 1060.7l22.8 -22.8M1373.3 1037.8l22.8 22.8M1373.3 1060.6l22.8 -22.8M1376.7 1037.6l22.8 22.8M1376.7 1060.4l22.8 -22.8M1380.2 1037.5l22.8 22.8M1380.2 1060.3l22.8 -22.8M1383.6 1037.3l22.8 22.8M1383.6 1060.1l22.8 -22.8M1387 1037l22.8 22.8M1387 1059.8l22.8 -22.8M1390.5 1036.7l22.8 22.8M1390.5 1059.5l22.8 -22.8M1393.9 1036.4l22.8 22.8M1393.9 1059.2l22.8 -22.8M1397.3 1036.1l22.8 22.8M1397.3 1058.9l22.8 -22.8M1400.8 1035.9l22.8 22.8M1400.8 1058.7l22.8 -22.8M1404.2 1035.6l22.8 22.8M1404.2 1058.4l22.8 -22.8M1407.6 1035.4l22.8 22.8M1407.6 1058.2l22.8 -22.8M1411 1035.3l22.8 22.8M1411 1058.1l22.8 -22.8M1414.5 1035.2l22.8 22.8M1414.5 1058l22.8 -22.8M1417.9 1035.2l22.8 22.8M1417.9 1058l22.8 -22.8M1421.3 1035.2l22.8 22.8M1421.3 1058l22.8 -22.8M1424.7 1035.2l22.8 22.8M1424.7 1058l22.8 -22.8M1428.1 1035.3l22.8 22.8M1428.1 1058.1l22.8 -22.8M1431.5 1035.5l22.8 22.8M1431.5 1058.3l22.8 -22.8M1434.9 1035.6l22.8 22.8M1434.9 1058.4l22.8 -22.8M1438.3 1035.8l22.8 22.8M1438.3 1058.6l22.8 -22.8M1441.7 1036l22.8 22.8M1441.7 1058.8l22.8 -22.8M1445.1 1036.2l22.8 22.8M1445.1 1059l22.8 -22.8M1448.4 1036.4l22.8 22.8M1448.4 1059.2l22.8 -22.8M1451.8 1036.5l22.8 22.8M1451.8 1059.3l22.8 -22.8M1455.2 1036.7l22.8 22.8M1455.2 1059.5l22.8 -22.8M1458.6 1036.9l22.8 22.8M1458.6 1059.7l22.8 -22.8M1461.9 1037l22.8 22.8M1461.9 1059.8l22.8 -22.8M1465.3 1037.1l22.8 22.8M1465.3 1059.9l22.8 -22.8M1468.7 1037.2l22.8 22.8M1468.7 1060l22.8 -22.8M1472 1037.3l22.8 22.8M1472 1060.1l22.8 -22.8M1475.4 1037.3l22.8 22.8M1475.4 1060.1l22.8 -22.8M1478.7 1037.4l22.8 22.8M1478.7 1060.2l22.8 -22.8M1482.1 1037.4l22.8 22.8M1482.1 1060.2l22.8 -22.8M1485.4 1037.5l22.8 22.8M1485.4 1060.3l22.8 -22.8M1488.7 1037.5l22.8 22.8M1488.7 1060.3l22.8 -22.8M1492.1 1037.6l22.8 22.8M1492.1 1060.4l22.8 -22.8M1495.4 1037.7l22.8 22.8M1495.4 1060.5l22.8 -22.8M1498.7 1037.8l22.8 22.8M1498.7 1060.6l22.8 -22.8M1502.1 1037.9l22.8 22.8M1502.1 1060.7l22.8 -22.8M1505.4 1038.1l22.8 22.8M1505.4 1060.9l22.8 -22.8M1508.7 1038.2l22.8 22.8M1508.7 1061l22.8 -22.8M1512 1038.3l22.8 22.8M1512 1061.1l22.8 -22.8M1515.3 1038.5l22.8 22.8M1515.3 1061.3l22.8 -22.8M1518.6 1038.6l22.8 22.8M1518.6 1061.4l22.8 -22.8M1521.9 1038.7l22.8 22.8M1521.9 1061.5l22.8 -22.8M1525.2 1038.8l22.8 22.8M1525.2 1061.6l22.8 -22.8M1528.5 1039l22.8 22.8M1528.5 1061.8l22.8 -22.8M1531.8 1039.1l22.8 22.8M1531.8 1061.9l22.8 -22.8M1535 1039.3l22.8 22.8M1535 1062.1l22.8 -22.8M1538.3 1039.4l22.8 22.8M1538.3 1062.2l22.8 -22.8M1541.6 1039.6l22.8 22.8M1541.6 1062.4l22.8 -22.8M1544.9 1039.8l22.8 22.8M1544.9 1062.6l22.8 -22.8M1548.1 1040l22.8 22.8M1548.1 1062.8l22.8 -22.8M1551.4 1040.2l22.8 22.8M1551.4 1063l22.8 -22.8M1554.6 1040.3l22.8 22.8M1554.6 1063.1l22.8 -22.8M1557.9 1040.4l22.8 22.8M1557.9 1063.2l22.8 -22.8M1561.1 1040.5l22.8 22.8M1561.1 1063.3l22.8 -22.8M1564.3 1040.5l22.8 22.8M1564.3 1063.3l22.8 -22.8M1567.6 1040.4l22.8 22.8M1567.6 1063.2l22.8 -22.8M1570.8 1040.4l22.8 22.8M1570.8 1063.2l22.8 -22.8M1574 1040.3l22.8 22.8M1574 1063.1l22.8 -22.8M1577.2 1040.1l22.8 22.8M1577.2 1062.9l22.8 -22.8M1580.5 1040l22.8 22.8M1580.5 1062.8l22.8 -22.8M1583.7 1039.9l22.8 22.8M1583.7 1062.7l22.8 -22.8M1586.9 1039.7l22.8 22.8M1586.9 1062.5l22.8 -22.8M1590.1 1039.6l22.8 22.8M1590.1 1062.4l22.8 -22.8M1593.3 1039.5l22.8 22.8M1593.3 1062.3l22.8 -22.8M1596.4 1039.4l22.8 22.8M1596.4 1062.2l22.8 -22.8M1599.6 1039.3l22.8 22.8M1599.6 1062.1l22.8 -22.8M1602.8 1039.2l22.8 22.8M1602.8 1062l22.8 -22.8M1606 1039.1l22.8 22.8M1606 1061.9l22.8 -22.8M1609.1 1039l22.8 22.8M1609.1 1061.8l22.8 -22.8M1612.3 1038.9l22.8 22.8M1612.3 1061.7l22.8 -22.8M1615.5 1038.7l22.8 22.8M1615.5 1061.5l22.8 -22.8M1618.6 1038.6l22.8 22.8M1618.6 1061.4l22.8 -22.8M1621.8 1038.4l22.8 22.8M1621.8 1061.2l22.8 -22.8M1624.9 1038.2l22.8 22.8M1624.9 1061l22.8 -22.8M1628 1038l22.8 22.8M1628 1060.8l22.8 -22.8M1631.2 1037.8l22.8 22.8M1631.2 1060.6l22.8 -22.8M1634.3 1037.6l22.8 22.8M1634.3 1060.4l22.8 -22.8M1637.4 1037.5l22.8 22.8M1637.4 1060.3l22.8 -22.8M1640.5 1037.4l22.8 22.8M1640.5 1060.2l22.8 -22.8M1643.6 1037.3l22.8 22.8M1643.6 1060.1l22.8 -22.8M1646.7 1037.3l22.8 22.8M1646.7 1060.1l22.8 -22.8M1649.8 1037.3l22.8 22.8M1649.8 1060.1l22.8 -22.8M1652.9 1037.4l22.8 22.8M1652.9 1060.2l22.8 -22.8M1656 1037.5l22.8 22.8M1656 1060.3l22.8 -22.8M1659.1 1037.5l22.8 22.8M1659.1 1060.3l22.8 -22.8M1662.1 1037.6l22.8 22.8M1662.1 1060.4l22.8 -22.8M1665.2 1037.6l22.8 22.8M1665.2 1060.4l22.8 -22.8M1668.3 1037.7l22.8 22.8M1668.3 1060.5l22.8 -22.8M1671.3 1037.6l22.8 22.8M1671.3 1060.4l22.8 -22.8M1674.4 1037.6l22.8 22.8M1674.4 1060.4l22.8 -22.8M1677.4 1037.4l22.8 22.8M1677.4 1060.2l22.8 -22.8M1680.4 1037.2l22.8 22.8M1680.4 1060l22.8 -22.8M1683.5 1036.9l22.8 22.8M1683.5 1059.7l22.8 -22.8M1686.5 1036.6l22.8 22.8M1686.5 1059.4l22.8 -22.8M1689.5 1036.1l22.8 22.8M1689.5 1058.9l22.8 -22.8M1692.5 1035.6l22.8 22.8M1692.5 1058.4l22.8 -22.8M1695.5 1035.1l22.8 22.8M1695.5 1057.9l22.8 -22.8M1698.5 1034.5l22.8 22.8M1698.5 1057.3l22.8 -22.8M1701.5 1033.8l22.8 22.8M1701.5 1056.6l22.8 -22.8M1704.5 1033.1l22.8 22.8M1704.5 1055.9l22.8 -22.8M1707.5 1032.5l22.8 22.8M1707.5 1055.3l22.8 -22.8M1710.4 1031.8l22.8 22.8M1710.4 1054.6l22.8 -22.8M1713.4 1031.2l22.8 22.8M1713.4 1054l22.8 -22.8M1716.4 1030.6l22.8 22.8M1716.4 1053.4l22.8 -22.8M1719.3 1030.1l22.8 22.8M1719.3 1052.9l22.8 -22.8M1722.3 1029.6l22.8 22.8M1722.3 1052.4l22.8 -22.8M1725.2 1029.2l22.8 22.8M1725.2 1052l22.8 -22.8M1728.2 1028.8l22.8 22.8M1728.2 1051.6l22.8 -22.8M1731.1 1028.4l22.8 22.8M1731.1 1051.2l22.8 -22.8M1734 1028l22.8 22.8M1734 1050.8l22.8 -22.8M1736.9 1027.8l22.8 22.8M1736.9 1050.6l22.8 -22.8M1739.8 1027.5l22.8 22.8M1739.8 1050.3l22.8 -22.8M1742.7 1027.3l22.8 22.8M1742.7 1050.1l22.8 -22.8M1745.6 1027.2l22.8 22.8M1745.6 1050l22.8 -22.8M1748.5 1027.1l22.8 22.8M1748.5 1049.9l22.8 -22.8M1751.4 1027.1l22.8 22.8M1751.4 1049.9l22.8 -22.8M1754.3 1027.2l22.8 22.8M1754.3 1050l22.8 -22.8M1757.1 1027.2l22.8 22.8M1757.1 1050l22.8 -22.8M1760 1027.3l22.8 22.8M1760 1050.1l22.8 -22.8M1762.8 1027.5l22.8 22.8M1762.8 1050.3l22.8 -22.8M1765.7 1027.6l22.8 22.8M1765.7 1050.4l22.8 -22.8M1768.5 1027.8l22.8 22.8M1768.5 1050.6l22.8 -22.8M1771.4 1027.9l22.8 22.8M1771.4 1050.7l22.8 -22.8M1774.2 1028.1l22.8 22.8M1774.2 1050.9l22.8 -22.8M1777 1028.3l22.8 22.8M1777 1051.1l22.8 -22.8M1779.8 1028.6l22.8 22.8M1779.8 1051.4l22.8 -22.8M1782.6 1028.9l22.8 22.8M1782.6 1051.7l22.8 -22.8M1785.4 1029.2l22.8 22.8M1785.4 1052l22.8 -22.8M1788.2 1029.5l22.8 22.8M1788.2 1052.3l22.8 -22.8M1791 1029.9l22.8 22.8M1791 1052.7l22.8 -22.8M1793.7 1030.2l22.8 22.8M1793.7 1053l22.8 -22.8M1796.5 1030.6l22.8 22.8M1796.5 1053.4l22.8 -22.8M1799.3 1031l22.8 22.8M1799.3 1053.8l22.8 -22.8M1802 1031.4l22.8 22.8M1802 1054.2l22.8 -22.8M1804.8 1031.8l22.8 22.8M1804.8 1054.6l22.8 -22.8M1807.5 1032.2l22.8 22.8M1807.5 1055l22.8 -22.8M1810.2 1032.5l22.8 22.8M1810.2 1055.3l22.8 -22.8M1813 1032.9l22.8 22.8M1813 1055.7l22.8 -22.8M1815.7 1033.2l22.8 22.8M1815.7 1056l22.8 -22.8M1818.4 1033.6l22.8 22.8M1818.4 1056.4l22.8 -22.8M1821.1 1033.9l22.8 22.8M1821.1 1056.7l22.8 -22.8M1823.8 1034.2l22.8 22.8M1823.8 1057l22.8 -22.8M1826.4 1034.5l22.8 22.8M1826.4 1057.3l22.8 -22.8M1829.1 1034.8l22.8 22.8M1829.1 1057.6l22.8 -22.8M1831.8 1035l22.8 22.8M1831.8 1057.8l22.8 -22.8M1834.5 1035.3l22.8 22.8M1834.5 1058.1l22.8 -22.8M1837.1 1035.5l22.8 22.8M1837.1 1058.3l22.8 -22.8M1839.8 1035.6l22.8 22.8M1839.8 1058.4l22.8 -22.8M1842.4 1035.7l22.8 22.8M1842.4 1058.5l22.8 -22.8M1845 1035.7l22.8 22.8M1845 1058.5l22.8 -22.8M1847.6 1035.7l22.8 22.8M1847.6 1058.5l22.8 -22.8M1850.3 1035.7l22.8 22.8M1850.3 1058.5l22.8 -22.8M1852.9 1035.6l22.8 22.8M1852.9 1058.4l22.8 -22.8M1855.5 1035.5l22.8 22.8M1855.5 1058.3l22.8 -22.8M1858 1035.3l22.8 22.8M1858 1058.1l22.8 -22.8M1860.6 1035.2l22.8 22.8M1860.6 1058l22.8 -22.8M1863.2 1035.1l22.8 22.8M1863.2 1057.9l22.8 -22.8"/>
<path stroke="#000000" stroke-width="3.4" d="M399.4 546.3 402 546.1 404.6 545.9 407.1 545.6 409.7 545.3 412.3 544.9 415 544.5 417.6 544.1 420.2 543.6 422.8 543.1 425.5 542.6 428.1 541.9 430.8 541.1 433.5 540.3 436.1 539.4 438.8 538.5 441.5 537.6 444.2 536.7 446.9 535.9 449.6 535 452.3 534 455.1 533 457.8 532.1 460.5 531.4 463.3 530.8 466 530.5 468.8 530.5 471.6 530.6 474.4 530.8 477.2 531 479.9 531.2 482.7 531.5 485.6 531.8 488.4 532.3 491.2 532.9 494 533.3 496.9 533.6 499.7 533.6 502.6 532.9 505.4 531.6 508.3 529.8 511.2 527.9 514 525.9 516.9 524 519.8 522.3 522.7 520.6 525.6 518.7 528.5 516.8 531.4 514.9 534.4 512.9 537.3 510.9 540.2 508.9 543.2 506.8 546.1 504.7 549.1 502.5 552.1 500.3 555 498.2 558 496 561 493.8 564 491.6 567 489.4 570 487.2 573 485.1 576 483.1 579 481.4 582.1 481.4 585.1 483.2 588.1 485.3 591.2 487.8 594.2 490.7 597.3 494.3 600.4 499.2 603.4 504.2 606.5 508.7 609.6 512.9 612.7 515.2 615.8 516.5 618.9 517.3 622 517.7 625.1 517.9 628.2 518 631.3 517.9 634.5 517.6 637.6 517.2 640.7 516.8 643.9 516.3 647 515.8 650.2 515.5 653.3 515.2 656.5 514.9 659.7 514.6 662.8 514.3 666 514 669.2 513.7 672.4 513.4 675.6 513.1 678.8 512.8 682 512.4 685.2 512 688.4 511.5 691.7 511.1 694.9 510.8 698.1 510.5 701.4 510.2 704.6 510.1 707.8 510.1 711.1 510.3 714.3 510.6 717.6 511 720.9 511.5 724.1 512 727.4 512.4 730.7 512.8 734 513.1 737.3 513.2 740.6 513.2 743.8 513.1 747.1 513 750.5 512.8 753.8 512.6 757.1 512.3 760.4 512 763.7 511.6 767 510.2 770.4 507.8 773.7 505.2 777 502.5 780.4 499.2 783.7 495.7 787.1 492 790.4 487.9 793.8 483.7 797.1 479.6 800.5 475.3 803.9 471.1 807.2 467.3 810.6 464 814 460.8 817.4 458 820.8 455.4 824.2 453 827.5 450.8 830.9 449.1 834.3 448 837.7 447 841.2 446.2 844.6 445.5 848 445 851.4 444.9 854.8 445 858.2 445.1 861.7 445.4 865.1 445.6 868.5 445.9 872 446.2 875.4 446.5 878.8 446.9 882.3 447.3 885.7 447.8 889.2 448.2 892.6 448.5 896.1 448.7 899.5 439.9 903 430.9 906.4 431.9 909.9 434.1 913.4 438.9 916.8 446.9 920.3 462.7 923.8 476.9 927.3 477.9 930.7 470.6 934.2 461.3 937.7 443 941.2 423.6 944.7 414.6 948.2 409.1 951.7 408.4 955.2 410.6 958.7 413.3 962.1 416.7 965.6 420.1 969.1 423.5 972.7 426.9 976.2 430.4 979.7 434 983.2 437.9 986.7 441.9 990.2 446 993.7 450.1 997.2 454.2 1000.7 458 1004.3 461.7 1007.8 465.1 1011.3 468.3 1014.8 471.3 1018.3 474.4 1021.9 477.5 1025.4 479.9 1028.9 481.7 1032.5 483.1 1036 484 1039.5 484.7 1043 484.9 1046.6 484.5 1050.1 484 1053.6 483.1 1057.2 481.8 1060.7 479.6 1064.3 476.4 1067.8 473.3 1071.3 470.1 1074.9 467.1 1078.4 464.5 1082 462.4 1085.5 461 1089 460 1092.6 459.7 1096.1 459.8 1099.7 459.9 1103.2 460.2 1106.8 461 1110.3 462.7 1113.9 465.9 1117.4 469.6 1120.9 474.9 1124.5 483.9 1128 495.4 1131.6 508.8 1135.1 523.6 1138.7 537.2 1142.2 550.1 1145.8 560.7 1149.3 569.6 1152.9 576.4 1156.4 581.3 1160 585.1 1163.5 585 1167 582.6 1170.6 578 1174.1 572.8 1177.7 567.1 1181.2 561.6 1184.8 557.2 1188.3 553.5 1191.8 550.5 1195.4 548.1 1198.9 546.5 1202.5 545.4 1206 545.9 1209.5 548.7 1213.1 555.6 1216.6 565.8 1220.2 577.7 1223.7 599.9 1227.2 623.6 1230.8 651.4 1234.3 679.1 1237.8 708.5 1241.4 736.3 1244.9 761.8 1248.4 788.6 1251.9 801.9 1255.5 823.8 1259 841.1 1262.5 863.8 1266 880.5 1269.5 894.4 1273.1 910.7 1276.6 926.5 1280.1 942 1283.6 957.6 1287.1 973.5 1290.6 988.1 1294.1 1000.3 1297.7 1012.9 1301.2 1022 1304.7 1028.2 1308.2 1032.8 1311.7 1036.4 1315.2 1039.6 1318.7 1042.2 1322.2 1044.3 1325.6 1045.7 1329.1 1047 1332.6 1048 1336.1 1048.8 1339.6 1049.3 1343.1 1049.6 1346.5 1049.8 1350 1050.1 1353.5 1050.2 1357 1050.4 1360.4 1050.5 1363.9 1050.6 1367.4 1050.7 1370.8 1050.8 1374.3 1050.8 1377.8 1050.8 1381.2 1050.7 1384.7 1050.5 1388.1 1050.3 1391.6 1050.1 1395 1049.8 1398.4 1049.6 1401.9 1049.3 1405.3 1049.1 1408.7 1048.9 1412.2 1048.7 1415.6 1048.6 1419 1048.6 1422.4 1048.6 1425.9 1048.6 1429.3 1048.5 1432.7 1048.5 1436.1 1048.5 1439.5 1048.5 1442.9 1048.5 1446.3 1048.5 1449.7 1048.5 1453.1 1048.5 1456.5 1048.5 1459.8 1048.5 1463.2 1048.4 1466.6 1048.4 1470 1048.4 1473.3 1048.4 1476.7 1048.4 1480.1 1048.4 1483.4 1048.4 1486.8 1048.4 1490.1 1048.4 1493.5 1048.4 1496.8 1048.4 1500.1 1048.4 1503.5 1048.4 1506.8 1048.4 1510.1 1048.4 1513.5 1048.4 1516.8 1048.4 1520.1 1048.5 1523.4 1048.6 1526.7 1048.8 1530 1049 1533.3 1049.2 1536.6 1049.4 1539.9 1049.6 1543.2 1049.8 1546.4 1050 1549.7 1050.2 1553 1050.4 1556.3 1050.6 1559.5 1050.8 1562.8 1050.9 1566 1051.1 1569.3 1051.1 1572.5 1051.2 1575.7 1051.2 1579 1051.2 1582.2 1051.2 1585.4 1051.2 1588.6 1051.2 1591.9 1051.2 1595.1 1051.2 1598.3 1051.1 1601.5 1051.1 1604.7 1051.1 1607.8 1051.1 1611 1051.1 1614.2 1051 1617.4 1051 1620.5 1051 1623.7 1051 1626.9 1050.9 1630 1050.9 1633.2 1050.8 1636.3 1050.8 1639.4 1050.7 1642.6 1050.7 1645.7 1050.6 1648.8 1050.5 1651.9 1050.4 1655 1050.3 1658.1 1050.2 1661.2 1050.1 1664.3 1050 1667.4 1049.9 1670.5 1049.7 1673.5 1049.6 1676.6 1049.3 1679.7 1049 1682.7 1048.7 1685.8 1048.3 1688.8 1047.9 1691.8 1047.5 1694.9 1047.2 1697.9 1046.8 1700.9 1046.4 1703.9 1046 1706.9 1045.6 1709.9 1045.1 1712.9 1044.7 1715.9 1044.2 1718.9 1043.7 1721.8 1043.3 1724.8 1042.9 1727.8 1042.5 1730.7 1042.1 1733.7 1041.7 1736.6 1041.4 1739.6 1041 1742.5 1040.6 1745.4 1040.2 1748.3 1039.8 1751.2 1039.5 1754.1 1039.2 1757 1039 1759.9 1038.9 1762.8 1038.8 1765.7 1038.8 1768.5 1038.9 1771.4 1038.9 1774.2 1039 1777.1 1039.2 1779.9 1039.3 1782.8 1039.5 1785.6 1039.7 1788.4 1039.9 1791.2 1040.1 1794 1040.3 1796.8 1040.5 1799.6 1040.8 1802.4 1041.2 1805.1 1041.6 1807.9 1042 1810.7 1042.4 1813.4 1042.9 1816.2 1043.3 1818.9 1043.7 1821.6 1044.1 1824.4 1044.4 1827.1 1044.6 1829.8 1044.8 1832.5 1045 1835.2 1045.2 1837.8 1045.4 1840.5 1045.6 1843.2 1045.7 1845.9 1045.8 1848.5 1045.9 1851.2 1046 1853.8 1046.1 1856.4 1046.2 1859 1046.3 1861.7 1046.4 1864.3 1046.5 1866.9 1046.6 1869.4 1046.6 1872 1046.7 1874.6 1046.7"/>
<path stroke="#000000" stroke-width="12.6" stroke-linecap="round" d="M399.4 546.3h0M402 546.1h0M404.6 545.9h0M407.1 545.6h0M409.7 545.3h0M412.3 544.9h0M415 544.5h0M417.6 544.1h0M420.2 543.6h0M422.8 543.1h0M425.5 542.6h0M428.1 541.9h0M430.8 541.1h0M433.5 540.3h0M436.1 539.4h0M438.8 538.5h0M441.5 537.6h0M444.2 536.7h0M446.9 535.9h0M449.6 535h0M452.3 534h0M455.1 533h0M457.8 532.1h0M460.5 531.4h0M463.3 530.8h0M466 530.5h0M468.8 530.5h0M471.6 530.6h0M474.4 530.8h0M477.2 531h0M479.9 531.2h0M482.7 531.5h0M485.6 531.8h0M488.4 532.3h0M491.2 532.9h0M494 533.3h0M496.9 533.6h0M499.7 533.6h0M502.6 532.9h0M505.4 531.6h0M508.3 529.8h0M511.2 527.9h0M514 525.9h0M516.9 524h0M519.8 522.3h0M522.7 520.6h0M525.6 518.7h0M528.5 516.8h0M531.4 514.9h0M534.4 512.9h0M537.3 510.9h0M540.2 508.9h0M543.2 506.8h0M546.1 504.7h0M549.1 502.5h0M552.1 500.3h0M555 498.2h0M558 496h0M561 493.8h0M564 491.6h0M567 489.4h0M570 487.2h0M573 485.1h0M576 483.1h0M579 481.4h0M582.1 481.4h0M585.1 483.2h0M588.1 485.3h0M591.2 487.8h0M594.2 490.7h0M597.3 494.3h0M600.4 499.2h0M603.4 504.2h0M606.5 508.7h0M609.6 512.9h0M612.7 515.2h0M615.8 516.5h0M618.9 517.3h0M622 517.7h0M625.1 517.9h0M628.2 518h0M631.3 517.9h0M634.5 517.6h0M637.6 517.2h0M640.7 516.8h0M643.9 516.3h0M647 515.8h0M650.2 515.5h0M653.3 515.2h0M656.5 514.9h0M659.7 514.6h0M662.8 514.3h0M666 514h0M669.2 513.7h0M672.4 513.4h0M675.6 513.1h0M678.8 512.8h0M682 512.4h0M685.2 512h0M688.4 511.5h0M691.7 511.1h0M694.9 510.8h0M698.1 510.5h0M701.4 510.2h0M704.6 510.1h0M707.8 510.1h0M711.1 510.3h0M714.3 510.6h0M717.6 511h0M720.9 511.5h0M724.1 512h0M727.4 512.4h0M730.7 512.8h0M734 513.1h0M737.3 513.2h0M740.6 513.2h0M743.8 513.1h0M747.1 513h0M750.5 512.8h0M753.8 512.6h0M757.1 512.3h0M760.4 512h0M763.7 511.6h0M767 510.2h0M770.4 507.8h0M773.7 505.2h0M777 502.5h0M780.4 499.2h0M783.7 495.7h0M787.1 492h0M790.4 487.9h0M793.8 483.7h0M797.1 479.6h0M800.5 475.3h0M803.9 471.1h0M807.2 467.3h0M810.6 464h0M814 460.8h0M817.4 458h0M820.8 455.4h0M824.2 453h0M827.5 450.8h0M830.9 449.1h0M834.3 448h0M837.7 447h0M841.2 446.2h0M844.6 445.5h0M848 445h0M851.4 444.9h0M854.8 445h0M858.2 445.1h0M861.7 445.4h0M865.1 445.6h0M868.5 445.9h0M872 446.2h0M875.4 446.5h0M878.8 446.9h0M882.3 447.3h0M885.7 447.8h0M889.2 448.2h0M892.6 448.5h0M896.1 448.7h0M899.5 439.9h0M903 430.9h0M906.4 431.9h0M909.9 434.1h0M913.4 438.9h0M916.8 446.9h0M920.3 462.7h0M923.8 476.9h0M927.3 477.9h0M930.7 470.6h0M934.2 461.3h0M937.7 443h0M941.2 423.6h0M944.7 414.6h0M948.2 409.1h0M951.7 408.4h0M955.2 410.6h0M958.7 413.3h0M962.1 416.7h0M965.6 420.1h0M969.1 423.5h0M972.7 426.9h0M976.2 430.4h0M979.7 434h0M983.2 437.9h0M986.7 441.9h0M990.2 446h0M993.7 450.1h0M997.2 454.2h0M1000.7 458h0M1004.3 461.7h0M1007.8 465.1h0M1011.3 468.3h0M1014.8 471.3h0M1018.3 474.4h0M1021.9 477.5h0M1025.4 479.9h0M1028.9 481.7h0M1032.5 483.1h0M1036 484h0M1039.5 484.7h0M1043 484.9h0M1046.6 484.5h0M1050.1 484h0M1053.6 483.1h0M1057.2 481.8h0M1060.7 479.6h0M1064.3 476.4h0M1067.8 473.3h0M1071.3 470.1h0M1074.9 467.1h0M1078.4 464.5h0M1082 462.4h0M1085.5 461h0M1089 460h0M1092.6 459.7h0M1096.1 459.8h0M1099.7 459.9h0M1103.2 460.2h0M1106.8 461h0M1110.3 462.7h0M1113.9 465.9h0M1117.4 469.6h0M1120.9 474.9h0M1124.5 483.9h0M1128 495.4h0M1131.6 508.8h0M1135.1 523.6h0M1138.7 537.2h0M1142.2 550.1h0M1145.8 560.7h0M1149.3 569.6h0M1152.9 576.4h0M1156.4 581.3h0M1160 585.1h0M1163.5 585h0M1167 582.6h0M1170.6 578h0M1174.1 572.8h0M1177.7 567.1h0M1181.2 561.6h0M1184.8 557.2h0M1188.3 553.5h0M1191.8 550.5h0M1195.4 548.1h0M1198.9 546.5h0M1202.5 545.4h0M1206 545.9h0M1209.5 548.7h0M1213.1 555.6h0M1216.6 565.8h0M1220.2 577.7h0M1223.7 599.9h0M1227.2 623.6h0M1230.8 651.4h0M1234.3 679.1h0M1237.8 708.5h0M1241.4 736.3h0M1244.9 761.8h0M1248.4 788.6h0M1251.9 801.9h0M1255.5 823.8h0M1259 841.1h0M1262.5 863.8h0M1266 880.5h0M1269.5 894.4h0M1273.1 910.7h0M1276.6 926.5h0M1280.1 942h0M1283.6 957.6h0M1287.1 973.5h0M1290.6 988.1h0M1294.1 1000.3h0M1297.7 1012.9h0M1301.2 1022h0M1304.7 1028.2h0M1308.2 1032.8h0M1311.7 1036.4h0M1315.2 1039.6h0M1318.7 1042.2h0M1322.2 1044.3h0M1325.6 1045.7h0M1329.1 1047h0M1332.6 1048h0M1336.1 1048.8h0M1339.6 1049.3h0M1343.1 1049.6h0M1346.5 1049.8h0M1350 1050.1h0M1353.5 1050.2h0M1357 1050.4h0M1360.4 1050.5h0M1363.9 1050.6h0M1367.4 1050.7h0M1370.8 1050.8h0M1374.3 1050.8h0M1377.8 1050.8h0M1381.2 1050.7h0M1384.7 1050.5h0M1388.1 1050.3h0M1391.6 1050.1h0M1395 1049.8h0M1398.4 1049.6h0M1401.9 1049.3h0M1405.3 1049.1h0M1408.7 1048.9h0M1412.2 1048.7h0M1415.6 1048.6h0M1419 1048.6h0M1422.4 1048.6h0M1425.9 1048.6h0M1429.3 1048.5h0M1432.7 1048.5h0M1436.1 1048.5h0M1439.5 1048.5h0M1442.9 1048.5h0M1446.3 1048.5h0M1449.7 1048.5h0M1453.1 1048.5h0M1456.5 1048.5h0M1459.8 1048.5h0M1463.2 1048.4h0M1466.6 1048.4h0M1470 1048.4h0M1473.3 1048.4h0M1476.7 1048.4h0M1480.1 1048.4h0M1483.4 1048.4h0M1486.8 1048.4h0M1490.1 1048.4h0M1493.5 1048.4h0M1496.8 1048.4h0M1500.1 1048.4h0M1503.5 1048.4h0M1506.8 1048.4h0M1510.1 1048.4h0M1513.5 1048.4h0M1516.8 1048.4h0M1520.1 1048.5h0M1523.4 1048.6h0M1526.7 1048.8h0M1530 1049h0M1533.3 1049.2h0M1536.6 1049.4h0M1539.9 1049.6h0M1543.2 1049.8h0M1546.4 1050h0M1549.7 1050.2h0M1553 1050.4h0M1556.3 1050.6h0M1559.5 1050.8h0M1562.8 1050.9h0M1566 1051.1h0M1569.3 1051.1h0M1572.5 1051.2h0M1575.7 1051.2h0M1579 1051.2h0M1582.2 1051.2h0M1585.4 1051.2h0M1588.6 1051.2h0M1591.9 1051.2h0M1595.1 1051.2h0M1598.3 1051.1h0M1601.5 1051.1h0M1604.7 1051.1h0M1607.8 1051.1h0M1611 1051.1h0M1614.2 1051h0M1617.4 1051h0M1620.5 1051h0M1623.7 1051h0M1626.9 1050.9h0M1630 1050.9h0M1633.2 1050.8h0M1636.3 1050.8h0M1639.4 1050.7h0M1642.6 1050.7h0M1645.7 1050.6h0M1648.8 1050.5h0M1651.9 1050.4h0M1655 1050.3h0M1658.1 1050.2h0M1661.2 1050.1h0M1664.3 1050h0M1667.4 1049.9h0M1670.5 1049.7h0M1673.5 1049.6h0M1676.6 1049.3h0M1679.7 1049h0M1682.7 1048.7h0M1685.8 1048.3h0M1688.8 1047.9h0M1691.8 1047.5h0M1694.9 1047.2h0M1697.9 1046.8h0M1700.9 1046.4h0M1703.9 1046h0M1706.9 1045.6h0M1709.9 1045.1h0M1712.9 1044.7h0M1715.9 1044.2h0M1718.9 1043.7h0M1721.8 1043.3h0M1724.8 1042.9h0M1727.8 1042.5h0M1730.7 1042.1h0M1733.7 1041.7h0M1736.6 1041.4h0M1739.6 1041h0M1742.5 1040.6h0M1745.4 1040.2h0M1748.3 1039.8h0M1751.2 1039.5h0M1754.1 1039.2h0M1757 1039h0M1759.9 1038.9h0M1762.8 1038.8h0M1765.7 1038.8h0M1768.5 1038.9h0M1771.4 1038.9h0M1774.2 1039h0M1777.1 1039.2h0M1779.9 1039.3h0M1782.8 1039.5h0M1785.6 1039.7h0M1788.4 1039.9h0M1791.2 1040.1h0M1794 1040.3h0M1796.8 1040.5h0M1799.6 1040.8h0M1802.4 1041.2h0M1805.1 1041.6h0M1807.9 1042h0M1810.7 1042.4h0M1813.4 1042.9h0M1816.2 1043.3h0M1818.9 1043.7h0M1821.6 1044.1h0M1824.4 1044.4h0M1827.1 1044.6h0M1829.8 1044.8h0M1832.5 1045h0M1835.2 1045.2h0M1837.8 1045.4h0M1840.5 1045.6h0M1843.2 1045.7h0M1845.9 1045.8h0M1848.5 1045.9h0M1851.2 1046h0M1853.8 1046.1h0M1856.4 1046.2h0M1859 1046.3h0M1861.7 1046.4h0M1864.3 1046.5h0M1866.9 1046.6h0M1869.4 1046.6h0M1872 1046.7h0M1874.6 1046.7h0"/>
</g>
<g fill="none" stroke="#262626" stroke-width="3.3" stroke-linecap="square">
<path d="M281.4 110.8V1419.5H1993"/>
<path stroke-linecap="butt" d="M495.4 1419.5v-18.9M709.4 1419.5v-18.9M923.3 1419.5v-18.9M1137.3 1419.5v-18.9M1351.2 1419.5v-18.9M1565.1 1419.5v-18.9M1779.1 1419.5v-18.9M1993 1419.5v-18.9M281.4 1201.4h19.3M281.4 983.3h19.3M281.4 765.2h19.3M281.4 547h19.3M281.4 328.9h19.3M281.4 110.8h19.3"/>
</g>
<g fill="#262626" stroke="#262626" stroke-width="0.8" stroke-linejoin="round" font-size="73.2">
<text x="279" y="1513.8" text-anchor="middle">–0.8</text>
<text x="492.9" y="1513.8" text-anchor="middle">–0.6</text>
<text x="706.9" y="1513.8" text-anchor="middle">–0.4</text>
<text x="920.8" y="1513.8" text-anchor="middle">–0.2</text>
<text x="1134.8" y="1513.8" text-anchor="middle">0</text>
<text x="1348.7" y="1513.8" text-anchor="middle">0.2</text>
<text x="1562.6" y="1513.8" text-anchor="middle">0.4</text>
<text x="1776.6" y="1513.8" text-anchor="middle">0.6</text>
<text x="1990.5" y="1513.8" text-anchor="middle">0.8</text>
<text x="253.4" y="1446.3" text-anchor="end">0</text>
<text x="255.5" y="1227" text-anchor="end">50</text>
<text x="255.5" y="1008.9" text-anchor="end">100</text>
<text x="255.5" y="790.8" text-anchor="end">150</text>
<text x="255.5" y="572.6" text-anchor="end">200</text>
<text x="255.5" y="354.5" text-anchor="end">250</text>
<text x="255.5" y="136.4" text-anchor="end">300</text>
</g>
<text x="1133.7" y="1627.3" font-size="100" font-style="italic" text-anchor="middle" fill="#262626" stroke="#262626" stroke-width="1">ξ</text>
<text transform="translate(109 767.5) rotate(-90)" font-size="94.5" text-anchor="middle" fill="#262626" stroke="#262626" stroke-width="1" stroke-linejoin="round">Brightness temperature/K</text>
<rect x="1200.5" y="43.6" width="982" height="398.4" fill="#fff" stroke="#262626" stroke-width="3"/>
<g fill="none">
<path stroke="#00ffff" stroke-width="4" d="M1216 88.9H1374"/>
<path stroke="#00ffff" stroke-width="4" d="M1278.5 88.9h33M1295 72.4v33"/>
<path stroke="#0000ff" stroke-width="4" d="M1216 165.9H1374"/>
<path stroke="#0000ff" stroke-width="4" d="M1280 165.9a15 15 0 1 0 30 0a15 15 0 1 0 -30 0"/>
<path stroke="#ff0000" stroke-width="4" d="M1216 242.7H1374"/>
<path stroke="#ff0000" stroke-width="4" d="M1283.6 231.3l22.8 22.8M1283.6 254.1l22.8 -22.8"/>
<path stroke="#00ff00" stroke-width="4" d="M1216 320H1374"/>
<path stroke="#00ff00" stroke-width="4" d="M1278.5 320h33M1295 303.5v33M1283.6 308.6l22.8 22.8M1283.6 331.4l22.8 -22.8"/>
<path stroke="#000000" stroke-width="3.4" d="M1216 396.4H1374"/>
<path stroke="#000000" stroke-width="12.6" stroke-linecap="round" d="M1295 396.4h0"/>
</g>
<g fill="#000" stroke="#000" stroke-width="0.9" stroke-linejoin="round" font-size="62.95">
<text x="1386" y="108.7">TV regularization</text>
<text x="1386" y="185.7">Tikhonov regularization</text>
<text x="1386" y="262.5">Band-limited regularization</text>
<text x="1386" y="339.8">Multi-parameter regularization</text>
<text x="1386" y="416.2">Initial distribution</text>
</g>
</svg>
</body></html>
